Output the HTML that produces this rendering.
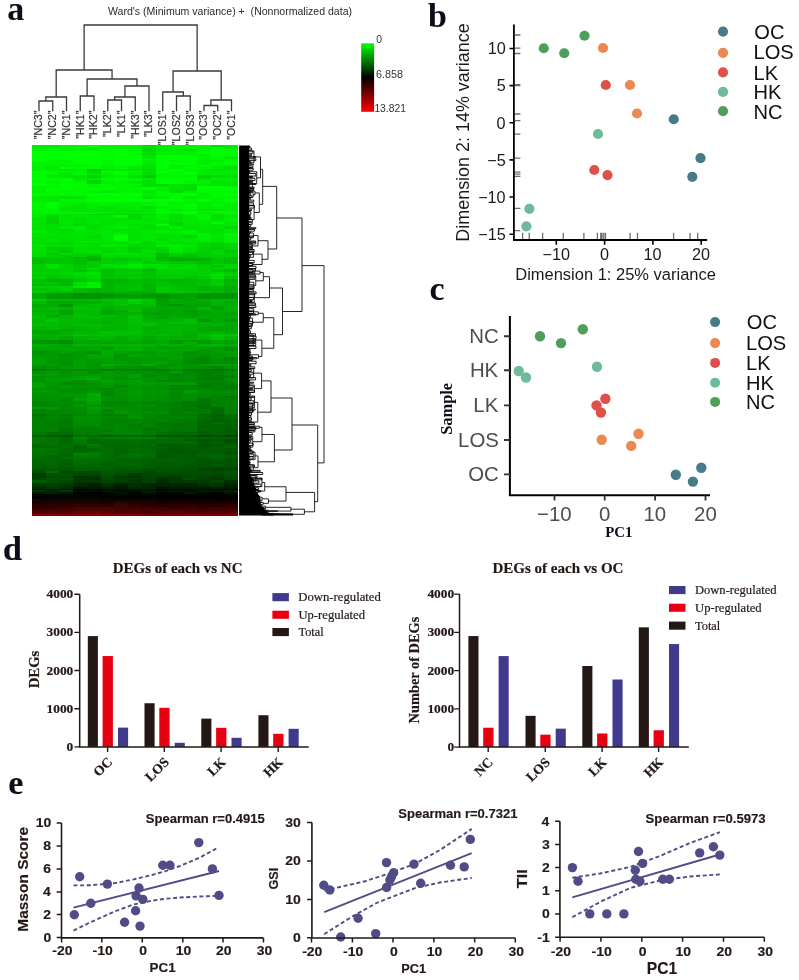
<!DOCTYPE html><html><head><meta charset="utf-8"><style>html,body{margin:0;padding:0;background:#fff;}svg{display:block;will-change:transform;}</style></head><body>
<svg width="799" height="980" viewBox="0 0 799 980">
<rect width="799" height="980" fill="#fff"/>
<g shape-rendering="crispEdges">
<rect x="32" y="145" width="14" height="2" fill="#00ee00"/>
<rect x="46" y="145" width="13" height="2" fill="#00ea00"/>
<rect x="59" y="145" width="14" height="2" fill="#00f200"/>
<rect x="73" y="145" width="14" height="2" fill="#00f600"/>
<rect x="87" y="145" width="14" height="2" fill="#00fd00"/>
<rect x="101" y="145" width="13" height="2" fill="#00f500"/>
<rect x="114" y="145" width="14" height="2" fill="#00f500"/>
<rect x="128" y="145" width="14" height="2" fill="#00f400"/>
<rect x="142" y="145" width="14" height="2" fill="#00e000"/>
<rect x="156" y="145" width="13" height="2" fill="#00f000"/>
<rect x="169" y="145" width="14" height="2" fill="#00f300"/>
<rect x="183" y="145" width="14" height="2" fill="#00f700"/>
<rect x="197" y="145" width="14" height="2" fill="#00f700"/>
<rect x="211" y="145" width="13" height="2" fill="#00df00"/>
<rect x="224" y="145" width="14" height="2" fill="#00ed00"/>
<rect x="32" y="147" width="14" height="2" fill="#00ec00"/>
<rect x="46" y="147" width="13" height="2" fill="#00f500"/>
<rect x="59" y="147" width="14" height="2" fill="#00f400"/>
<rect x="73" y="147" width="14" height="2" fill="#00fd00"/>
<rect x="87" y="147" width="14" height="2" fill="#00ef00"/>
<rect x="101" y="147" width="13" height="2" fill="#00f500"/>
<rect x="114" y="147" width="14" height="2" fill="#00f500"/>
<rect x="128" y="147" width="14" height="2" fill="#00f000"/>
<rect x="142" y="147" width="14" height="2" fill="#00df00"/>
<rect x="156" y="147" width="13" height="2" fill="#00f000"/>
<rect x="169" y="147" width="14" height="2" fill="#00f600"/>
<rect x="183" y="147" width="14" height="2" fill="#00f600"/>
<rect x="197" y="147" width="14" height="2" fill="#00ee00"/>
<rect x="211" y="147" width="13" height="2" fill="#00fe00"/>
<rect x="224" y="147" width="14" height="2" fill="#00ed00"/>
<rect x="32" y="149" width="14" height="2" fill="#00f500"/>
<rect x="46" y="149" width="13" height="2" fill="#00fb00"/>
<rect x="59" y="149" width="14" height="2" fill="#00ef00"/>
<rect x="73" y="149" width="14" height="2" fill="#00f700"/>
<rect x="87" y="149" width="14" height="2" fill="#00f400"/>
<rect x="101" y="149" width="13" height="2" fill="#00ff00"/>
<rect x="114" y="149" width="14" height="2" fill="#00ff00"/>
<rect x="128" y="149" width="14" height="2" fill="#00f800"/>
<rect x="142" y="149" width="14" height="2" fill="#00db00"/>
<rect x="156" y="149" width="13" height="2" fill="#00e900"/>
<rect x="169" y="149" width="14" height="2" fill="#00f000"/>
<rect x="183" y="149" width="14" height="2" fill="#00e200"/>
<rect x="197" y="149" width="14" height="2" fill="#00f600"/>
<rect x="211" y="149" width="13" height="2" fill="#00ff00"/>
<rect x="224" y="149" width="14" height="2" fill="#00fa00"/>
<rect x="32" y="151" width="14" height="3" fill="#00ff00"/>
<rect x="46" y="151" width="13" height="3" fill="#00ff00"/>
<rect x="59" y="151" width="14" height="3" fill="#00ff00"/>
<rect x="73" y="151" width="14" height="3" fill="#00ff00"/>
<rect x="87" y="151" width="14" height="3" fill="#00ff00"/>
<rect x="101" y="151" width="13" height="3" fill="#00fb00"/>
<rect x="114" y="151" width="14" height="3" fill="#00ff00"/>
<rect x="128" y="151" width="14" height="3" fill="#00f800"/>
<rect x="142" y="151" width="14" height="3" fill="#00e000"/>
<rect x="156" y="151" width="13" height="3" fill="#00ef00"/>
<rect x="169" y="151" width="14" height="3" fill="#00ec00"/>
<rect x="183" y="151" width="14" height="3" fill="#00ef00"/>
<rect x="197" y="151" width="14" height="3" fill="#00f800"/>
<rect x="211" y="151" width="13" height="3" fill="#00ff00"/>
<rect x="224" y="151" width="14" height="3" fill="#00fc00"/>
<rect x="32" y="154" width="14" height="1" fill="#00ff00"/>
<rect x="46" y="154" width="13" height="1" fill="#00ff00"/>
<rect x="59" y="154" width="14" height="1" fill="#00ff00"/>
<rect x="73" y="154" width="14" height="1" fill="#00ff00"/>
<rect x="87" y="154" width="14" height="1" fill="#00ff00"/>
<rect x="101" y="154" width="13" height="1" fill="#00fb00"/>
<rect x="114" y="154" width="14" height="1" fill="#00ff00"/>
<rect x="128" y="154" width="14" height="1" fill="#00f700"/>
<rect x="142" y="154" width="14" height="1" fill="#00dc00"/>
<rect x="156" y="154" width="13" height="1" fill="#00ef00"/>
<rect x="169" y="154" width="14" height="1" fill="#00ec00"/>
<rect x="183" y="154" width="14" height="1" fill="#00ef00"/>
<rect x="197" y="154" width="14" height="1" fill="#00f300"/>
<rect x="211" y="154" width="13" height="1" fill="#00f700"/>
<rect x="224" y="154" width="14" height="1" fill="#00f700"/>
<rect x="32" y="155" width="14" height="1" fill="#00ff00"/>
<rect x="46" y="155" width="13" height="1" fill="#00fe00"/>
<rect x="59" y="155" width="14" height="1" fill="#00fa00"/>
<rect x="73" y="155" width="14" height="1" fill="#00ff00"/>
<rect x="87" y="155" width="14" height="1" fill="#00ff00"/>
<rect x="101" y="155" width="13" height="1" fill="#00ff00"/>
<rect x="114" y="155" width="14" height="1" fill="#00ff00"/>
<rect x="128" y="155" width="14" height="1" fill="#00ff00"/>
<rect x="142" y="155" width="14" height="1" fill="#00e700"/>
<rect x="156" y="155" width="13" height="1" fill="#00ff00"/>
<rect x="169" y="155" width="14" height="1" fill="#00ff00"/>
<rect x="183" y="155" width="14" height="1" fill="#00ff00"/>
<rect x="197" y="155" width="14" height="1" fill="#00ee00"/>
<rect x="211" y="155" width="13" height="1" fill="#00ff00"/>
<rect x="224" y="155" width="14" height="1" fill="#00ff00"/>
<rect x="32" y="156" width="14" height="3" fill="#00ff00"/>
<rect x="46" y="156" width="13" height="3" fill="#00fd00"/>
<rect x="59" y="156" width="14" height="3" fill="#00ff00"/>
<rect x="73" y="156" width="14" height="3" fill="#00ff00"/>
<rect x="87" y="156" width="14" height="3" fill="#00ff00"/>
<rect x="101" y="156" width="13" height="3" fill="#00fd00"/>
<rect x="114" y="156" width="14" height="3" fill="#00ff00"/>
<rect x="128" y="156" width="14" height="3" fill="#00ff00"/>
<rect x="142" y="156" width="14" height="3" fill="#00e600"/>
<rect x="156" y="156" width="13" height="3" fill="#00ff00"/>
<rect x="169" y="156" width="14" height="3" fill="#00ff00"/>
<rect x="183" y="156" width="14" height="3" fill="#00ff00"/>
<rect x="197" y="156" width="14" height="3" fill="#00f200"/>
<rect x="211" y="156" width="13" height="3" fill="#00f800"/>
<rect x="224" y="156" width="14" height="3" fill="#00ed00"/>
<rect x="32" y="159" width="14" height="1" fill="#00ff00"/>
<rect x="46" y="159" width="13" height="1" fill="#00fd00"/>
<rect x="59" y="159" width="14" height="1" fill="#00ff00"/>
<rect x="73" y="159" width="14" height="1" fill="#00ff00"/>
<rect x="87" y="159" width="14" height="1" fill="#00ff00"/>
<rect x="101" y="159" width="13" height="1" fill="#00fc00"/>
<rect x="114" y="159" width="14" height="1" fill="#00ff00"/>
<rect x="128" y="159" width="14" height="1" fill="#00ff00"/>
<rect x="142" y="159" width="14" height="1" fill="#00f900"/>
<rect x="156" y="159" width="13" height="1" fill="#00ff00"/>
<rect x="169" y="159" width="14" height="1" fill="#00ff00"/>
<rect x="183" y="159" width="14" height="1" fill="#00ff00"/>
<rect x="197" y="159" width="14" height="1" fill="#00f100"/>
<rect x="211" y="159" width="13" height="1" fill="#00fb00"/>
<rect x="224" y="159" width="14" height="1" fill="#00f700"/>
<rect x="32" y="160" width="14" height="2" fill="#00ff00"/>
<rect x="46" y="160" width="13" height="2" fill="#00f600"/>
<rect x="59" y="160" width="14" height="2" fill="#00f000"/>
<rect x="73" y="160" width="14" height="2" fill="#00ff00"/>
<rect x="87" y="160" width="14" height="2" fill="#00ff00"/>
<rect x="101" y="160" width="13" height="2" fill="#00f600"/>
<rect x="114" y="160" width="14" height="2" fill="#00ff00"/>
<rect x="128" y="160" width="14" height="2" fill="#00ff00"/>
<rect x="142" y="160" width="14" height="2" fill="#00f100"/>
<rect x="156" y="160" width="13" height="2" fill="#00ff00"/>
<rect x="169" y="160" width="14" height="2" fill="#00f700"/>
<rect x="183" y="160" width="14" height="2" fill="#00fc00"/>
<rect x="197" y="160" width="14" height="2" fill="#00eb00"/>
<rect x="211" y="160" width="13" height="2" fill="#00ed00"/>
<rect x="224" y="160" width="14" height="2" fill="#00f800"/>
<rect x="32" y="162" width="14" height="3" fill="#00f100"/>
<rect x="46" y="162" width="13" height="3" fill="#00f500"/>
<rect x="59" y="162" width="14" height="3" fill="#00f700"/>
<rect x="73" y="162" width="14" height="3" fill="#00fa00"/>
<rect x="87" y="162" width="14" height="3" fill="#00ff00"/>
<rect x="101" y="162" width="13" height="3" fill="#00f900"/>
<rect x="114" y="162" width="14" height="3" fill="#00ff00"/>
<rect x="128" y="162" width="14" height="3" fill="#00ff00"/>
<rect x="142" y="162" width="14" height="3" fill="#00ec00"/>
<rect x="156" y="162" width="13" height="3" fill="#00ff00"/>
<rect x="169" y="162" width="14" height="3" fill="#00fd00"/>
<rect x="183" y="162" width="14" height="3" fill="#00ff00"/>
<rect x="197" y="162" width="14" height="3" fill="#00f100"/>
<rect x="211" y="162" width="13" height="3" fill="#00f800"/>
<rect x="224" y="162" width="14" height="3" fill="#00ff00"/>
<rect x="32" y="165" width="14" height="1" fill="#00f400"/>
<rect x="46" y="165" width="13" height="1" fill="#00f200"/>
<rect x="59" y="165" width="14" height="1" fill="#00ea00"/>
<rect x="73" y="165" width="14" height="1" fill="#00e600"/>
<rect x="87" y="165" width="14" height="1" fill="#00f500"/>
<rect x="101" y="165" width="13" height="1" fill="#00f700"/>
<rect x="114" y="165" width="14" height="1" fill="#00ff00"/>
<rect x="128" y="165" width="14" height="1" fill="#00f900"/>
<rect x="142" y="165" width="14" height="1" fill="#00e500"/>
<rect x="156" y="165" width="13" height="1" fill="#00ff00"/>
<rect x="169" y="165" width="14" height="1" fill="#00f100"/>
<rect x="183" y="165" width="14" height="1" fill="#00ef00"/>
<rect x="197" y="165" width="14" height="1" fill="#00ff00"/>
<rect x="211" y="165" width="13" height="1" fill="#00fc00"/>
<rect x="224" y="165" width="14" height="1" fill="#00f600"/>
<rect x="32" y="166" width="14" height="3" fill="#00f200"/>
<rect x="46" y="166" width="13" height="3" fill="#00e900"/>
<rect x="59" y="166" width="14" height="3" fill="#00fc00"/>
<rect x="73" y="166" width="14" height="3" fill="#00f900"/>
<rect x="87" y="166" width="14" height="3" fill="#00fd00"/>
<rect x="101" y="166" width="13" height="3" fill="#00ee00"/>
<rect x="114" y="166" width="14" height="3" fill="#00f600"/>
<rect x="128" y="166" width="14" height="3" fill="#00ec00"/>
<rect x="142" y="166" width="14" height="3" fill="#00e300"/>
<rect x="156" y="166" width="13" height="3" fill="#00ff00"/>
<rect x="169" y="166" width="14" height="3" fill="#00f100"/>
<rect x="183" y="166" width="14" height="3" fill="#00fb00"/>
<rect x="197" y="166" width="14" height="3" fill="#00f600"/>
<rect x="211" y="166" width="13" height="3" fill="#00ed00"/>
<rect x="224" y="166" width="14" height="3" fill="#00e300"/>
<rect x="32" y="169" width="14" height="2" fill="#00f200"/>
<rect x="46" y="169" width="13" height="2" fill="#00ef00"/>
<rect x="59" y="169" width="14" height="2" fill="#00e500"/>
<rect x="73" y="169" width="14" height="2" fill="#00ed00"/>
<rect x="87" y="169" width="14" height="2" fill="#00c800"/>
<rect x="101" y="169" width="13" height="2" fill="#00e600"/>
<rect x="114" y="169" width="14" height="2" fill="#00eb00"/>
<rect x="128" y="169" width="14" height="2" fill="#00e500"/>
<rect x="142" y="169" width="14" height="2" fill="#00dc00"/>
<rect x="156" y="169" width="13" height="2" fill="#00f900"/>
<rect x="169" y="169" width="14" height="2" fill="#00ff00"/>
<rect x="183" y="169" width="14" height="2" fill="#00f300"/>
<rect x="197" y="169" width="14" height="2" fill="#00ee00"/>
<rect x="211" y="169" width="13" height="2" fill="#00e300"/>
<rect x="224" y="169" width="14" height="2" fill="#00e600"/>
<rect x="32" y="171" width="14" height="1" fill="#00fe00"/>
<rect x="46" y="171" width="13" height="1" fill="#00ff00"/>
<rect x="59" y="171" width="14" height="1" fill="#00f800"/>
<rect x="73" y="171" width="14" height="1" fill="#00f700"/>
<rect x="87" y="171" width="14" height="1" fill="#00df00"/>
<rect x="101" y="171" width="13" height="1" fill="#00fd00"/>
<rect x="114" y="171" width="14" height="1" fill="#00ff00"/>
<rect x="128" y="171" width="14" height="1" fill="#00fb00"/>
<rect x="142" y="171" width="14" height="1" fill="#00e600"/>
<rect x="156" y="171" width="13" height="1" fill="#00ff00"/>
<rect x="169" y="171" width="14" height="1" fill="#00ff00"/>
<rect x="183" y="171" width="14" height="1" fill="#00f800"/>
<rect x="197" y="171" width="14" height="1" fill="#00e800"/>
<rect x="211" y="171" width="13" height="1" fill="#00ee00"/>
<rect x="224" y="171" width="14" height="1" fill="#00f100"/>
<rect x="32" y="172" width="14" height="1" fill="#00fe00"/>
<rect x="46" y="172" width="13" height="1" fill="#00ff00"/>
<rect x="59" y="172" width="14" height="1" fill="#00f000"/>
<rect x="73" y="172" width="14" height="1" fill="#00ef00"/>
<rect x="87" y="172" width="14" height="1" fill="#00d500"/>
<rect x="101" y="172" width="13" height="1" fill="#00fc00"/>
<rect x="114" y="172" width="14" height="1" fill="#00fe00"/>
<rect x="128" y="172" width="14" height="1" fill="#00f100"/>
<rect x="142" y="172" width="14" height="1" fill="#00dc00"/>
<rect x="156" y="172" width="13" height="1" fill="#00ff00"/>
<rect x="169" y="172" width="14" height="1" fill="#00f200"/>
<rect x="183" y="172" width="14" height="1" fill="#00ff00"/>
<rect x="197" y="172" width="14" height="1" fill="#00ec00"/>
<rect x="211" y="172" width="13" height="1" fill="#00ed00"/>
<rect x="224" y="172" width="14" height="1" fill="#00e900"/>
<rect x="32" y="173" width="14" height="2" fill="#00fa00"/>
<rect x="46" y="173" width="13" height="2" fill="#00f700"/>
<rect x="59" y="173" width="14" height="2" fill="#00e900"/>
<rect x="73" y="173" width="14" height="2" fill="#00fc00"/>
<rect x="87" y="173" width="14" height="2" fill="#00e800"/>
<rect x="101" y="173" width="13" height="2" fill="#00f200"/>
<rect x="114" y="173" width="14" height="2" fill="#00ff00"/>
<rect x="128" y="173" width="14" height="2" fill="#00f000"/>
<rect x="142" y="173" width="14" height="2" fill="#00dc00"/>
<rect x="156" y="173" width="13" height="2" fill="#00f700"/>
<rect x="169" y="173" width="14" height="2" fill="#00fd00"/>
<rect x="183" y="173" width="14" height="2" fill="#00ff00"/>
<rect x="197" y="173" width="14" height="2" fill="#00ec00"/>
<rect x="211" y="173" width="13" height="2" fill="#00ed00"/>
<rect x="224" y="173" width="14" height="2" fill="#00ea00"/>
<rect x="32" y="175" width="14" height="2" fill="#00fa00"/>
<rect x="46" y="175" width="13" height="2" fill="#00e500"/>
<rect x="59" y="175" width="14" height="2" fill="#00e600"/>
<rect x="73" y="175" width="14" height="2" fill="#00e400"/>
<rect x="87" y="175" width="14" height="2" fill="#00d800"/>
<rect x="101" y="175" width="13" height="2" fill="#00ea00"/>
<rect x="114" y="175" width="14" height="2" fill="#00f200"/>
<rect x="128" y="175" width="14" height="2" fill="#00e100"/>
<rect x="142" y="175" width="14" height="2" fill="#00cd00"/>
<rect x="156" y="175" width="13" height="2" fill="#00f500"/>
<rect x="169" y="175" width="14" height="2" fill="#00f700"/>
<rect x="183" y="175" width="14" height="2" fill="#00f500"/>
<rect x="197" y="175" width="14" height="2" fill="#00d000"/>
<rect x="211" y="175" width="13" height="2" fill="#00df00"/>
<rect x="224" y="175" width="14" height="2" fill="#00dd00"/>
<rect x="32" y="177" width="14" height="1" fill="#00fa00"/>
<rect x="46" y="177" width="13" height="1" fill="#00f000"/>
<rect x="59" y="177" width="14" height="1" fill="#00e500"/>
<rect x="73" y="177" width="14" height="1" fill="#00e400"/>
<rect x="87" y="177" width="14" height="1" fill="#00d000"/>
<rect x="101" y="177" width="13" height="1" fill="#00e800"/>
<rect x="114" y="177" width="14" height="1" fill="#00f100"/>
<rect x="128" y="177" width="14" height="1" fill="#00df00"/>
<rect x="142" y="177" width="14" height="1" fill="#00c800"/>
<rect x="156" y="177" width="13" height="1" fill="#00f500"/>
<rect x="169" y="177" width="14" height="1" fill="#00f500"/>
<rect x="183" y="177" width="14" height="1" fill="#00f500"/>
<rect x="197" y="177" width="14" height="1" fill="#00d000"/>
<rect x="211" y="177" width="13" height="1" fill="#00df00"/>
<rect x="224" y="177" width="14" height="1" fill="#00dc00"/>
<rect x="32" y="178" width="14" height="2" fill="#00ff00"/>
<rect x="46" y="178" width="13" height="2" fill="#00fa00"/>
<rect x="59" y="178" width="14" height="2" fill="#00ff00"/>
<rect x="73" y="178" width="14" height="2" fill="#00e700"/>
<rect x="87" y="178" width="14" height="2" fill="#00e900"/>
<rect x="101" y="178" width="13" height="2" fill="#00fc00"/>
<rect x="114" y="178" width="14" height="2" fill="#00ff00"/>
<rect x="128" y="178" width="14" height="2" fill="#00f300"/>
<rect x="142" y="178" width="14" height="2" fill="#00e900"/>
<rect x="156" y="178" width="13" height="2" fill="#00ff00"/>
<rect x="169" y="178" width="14" height="2" fill="#00ff00"/>
<rect x="183" y="178" width="14" height="2" fill="#00ff00"/>
<rect x="197" y="178" width="14" height="2" fill="#00e100"/>
<rect x="211" y="178" width="13" height="2" fill="#00ee00"/>
<rect x="224" y="178" width="14" height="2" fill="#00ed00"/>
<rect x="32" y="180" width="14" height="1" fill="#00f800"/>
<rect x="46" y="180" width="13" height="1" fill="#00fb00"/>
<rect x="59" y="180" width="14" height="1" fill="#00ff00"/>
<rect x="73" y="180" width="14" height="1" fill="#00f000"/>
<rect x="87" y="180" width="14" height="1" fill="#00dc00"/>
<rect x="101" y="180" width="13" height="1" fill="#00f600"/>
<rect x="114" y="180" width="14" height="1" fill="#00fa00"/>
<rect x="128" y="180" width="14" height="1" fill="#00fe00"/>
<rect x="142" y="180" width="14" height="1" fill="#00e300"/>
<rect x="156" y="180" width="13" height="1" fill="#00ff00"/>
<rect x="169" y="180" width="14" height="1" fill="#00ff00"/>
<rect x="183" y="180" width="14" height="1" fill="#00f900"/>
<rect x="197" y="180" width="14" height="1" fill="#00f700"/>
<rect x="211" y="180" width="13" height="1" fill="#00e900"/>
<rect x="224" y="180" width="14" height="1" fill="#00eb00"/>
<rect x="32" y="181" width="14" height="3" fill="#00fb00"/>
<rect x="46" y="181" width="13" height="3" fill="#00f300"/>
<rect x="59" y="181" width="14" height="3" fill="#00fa00"/>
<rect x="73" y="181" width="14" height="3" fill="#00f700"/>
<rect x="87" y="181" width="14" height="3" fill="#00d500"/>
<rect x="101" y="181" width="13" height="3" fill="#00f100"/>
<rect x="114" y="181" width="14" height="3" fill="#00f700"/>
<rect x="128" y="181" width="14" height="3" fill="#00ea00"/>
<rect x="142" y="181" width="14" height="3" fill="#00e000"/>
<rect x="156" y="181" width="13" height="3" fill="#00fe00"/>
<rect x="169" y="181" width="14" height="3" fill="#00fe00"/>
<rect x="183" y="181" width="14" height="3" fill="#00f700"/>
<rect x="197" y="181" width="14" height="3" fill="#00f100"/>
<rect x="211" y="181" width="13" height="3" fill="#00e100"/>
<rect x="224" y="181" width="14" height="3" fill="#00e500"/>
<rect x="32" y="184" width="14" height="2" fill="#00ff00"/>
<rect x="46" y="184" width="13" height="2" fill="#00fc00"/>
<rect x="59" y="184" width="14" height="2" fill="#00ff00"/>
<rect x="73" y="184" width="14" height="2" fill="#00fc00"/>
<rect x="87" y="184" width="14" height="2" fill="#00f500"/>
<rect x="101" y="184" width="13" height="2" fill="#00f800"/>
<rect x="114" y="184" width="14" height="2" fill="#00f700"/>
<rect x="128" y="184" width="14" height="2" fill="#00f700"/>
<rect x="142" y="184" width="14" height="2" fill="#00df00"/>
<rect x="156" y="184" width="13" height="2" fill="#00d700"/>
<rect x="169" y="184" width="14" height="2" fill="#00e500"/>
<rect x="183" y="184" width="14" height="2" fill="#00de00"/>
<rect x="197" y="184" width="14" height="2" fill="#00eb00"/>
<rect x="211" y="184" width="13" height="2" fill="#00e600"/>
<rect x="224" y="184" width="14" height="2" fill="#00e100"/>
<rect x="32" y="186" width="14" height="1" fill="#00f400"/>
<rect x="46" y="186" width="13" height="1" fill="#00ee00"/>
<rect x="59" y="186" width="14" height="1" fill="#00fe00"/>
<rect x="73" y="186" width="14" height="1" fill="#00fa00"/>
<rect x="87" y="186" width="14" height="1" fill="#00f500"/>
<rect x="101" y="186" width="13" height="1" fill="#00f800"/>
<rect x="114" y="186" width="14" height="1" fill="#00f600"/>
<rect x="128" y="186" width="14" height="1" fill="#00ee00"/>
<rect x="142" y="186" width="14" height="1" fill="#00df00"/>
<rect x="156" y="186" width="13" height="1" fill="#00e800"/>
<rect x="169" y="186" width="14" height="1" fill="#00e500"/>
<rect x="183" y="186" width="14" height="1" fill="#00dd00"/>
<rect x="197" y="186" width="14" height="1" fill="#00ff00"/>
<rect x="211" y="186" width="13" height="1" fill="#00ff00"/>
<rect x="224" y="186" width="14" height="1" fill="#00f800"/>
<rect x="32" y="187" width="14" height="3" fill="#00f200"/>
<rect x="46" y="187" width="13" height="3" fill="#00fd00"/>
<rect x="59" y="187" width="14" height="3" fill="#00ff00"/>
<rect x="73" y="187" width="14" height="3" fill="#00f900"/>
<rect x="87" y="187" width="14" height="3" fill="#00fa00"/>
<rect x="101" y="187" width="13" height="3" fill="#00fd00"/>
<rect x="114" y="187" width="14" height="3" fill="#00f500"/>
<rect x="128" y="187" width="14" height="3" fill="#00f700"/>
<rect x="142" y="187" width="14" height="3" fill="#00fe00"/>
<rect x="156" y="187" width="13" height="3" fill="#00f000"/>
<rect x="169" y="187" width="14" height="3" fill="#00e400"/>
<rect x="183" y="187" width="14" height="3" fill="#00de00"/>
<rect x="197" y="187" width="14" height="3" fill="#00ff00"/>
<rect x="211" y="187" width="13" height="3" fill="#00ff00"/>
<rect x="224" y="187" width="14" height="3" fill="#00ff00"/>
<rect x="32" y="190" width="14" height="1" fill="#00f500"/>
<rect x="46" y="190" width="13" height="1" fill="#00fc00"/>
<rect x="59" y="190" width="14" height="1" fill="#00f400"/>
<rect x="73" y="190" width="14" height="1" fill="#00f900"/>
<rect x="87" y="190" width="14" height="1" fill="#00f900"/>
<rect x="101" y="190" width="13" height="1" fill="#00f400"/>
<rect x="114" y="190" width="14" height="1" fill="#00f400"/>
<rect x="128" y="190" width="14" height="1" fill="#00f600"/>
<rect x="142" y="190" width="14" height="1" fill="#00e800"/>
<rect x="156" y="190" width="13" height="1" fill="#00f000"/>
<rect x="169" y="190" width="14" height="1" fill="#00dc00"/>
<rect x="183" y="190" width="14" height="1" fill="#00e000"/>
<rect x="197" y="190" width="14" height="1" fill="#00fe00"/>
<rect x="211" y="190" width="13" height="1" fill="#00ff00"/>
<rect x="224" y="190" width="14" height="1" fill="#00ff00"/>
<rect x="32" y="191" width="14" height="2" fill="#00ee00"/>
<rect x="46" y="191" width="13" height="2" fill="#00f800"/>
<rect x="59" y="191" width="14" height="2" fill="#00f900"/>
<rect x="73" y="191" width="14" height="2" fill="#00f800"/>
<rect x="87" y="191" width="14" height="2" fill="#00ef00"/>
<rect x="101" y="191" width="13" height="2" fill="#00e800"/>
<rect x="114" y="191" width="14" height="2" fill="#00f400"/>
<rect x="128" y="191" width="14" height="2" fill="#00f600"/>
<rect x="142" y="191" width="14" height="2" fill="#00e800"/>
<rect x="156" y="191" width="13" height="2" fill="#00f800"/>
<rect x="169" y="191" width="14" height="2" fill="#00dc00"/>
<rect x="183" y="191" width="14" height="2" fill="#00f000"/>
<rect x="197" y="191" width="14" height="2" fill="#00f900"/>
<rect x="211" y="191" width="13" height="2" fill="#00fb00"/>
<rect x="224" y="191" width="14" height="2" fill="#00f700"/>
<rect x="32" y="193" width="14" height="3" fill="#00fc00"/>
<rect x="46" y="193" width="13" height="3" fill="#00f700"/>
<rect x="59" y="193" width="14" height="3" fill="#00f800"/>
<rect x="73" y="193" width="14" height="3" fill="#00f800"/>
<rect x="87" y="193" width="14" height="3" fill="#00ff00"/>
<rect x="101" y="193" width="13" height="3" fill="#00ff00"/>
<rect x="114" y="193" width="14" height="3" fill="#00ff00"/>
<rect x="128" y="193" width="14" height="3" fill="#00ff00"/>
<rect x="142" y="193" width="14" height="3" fill="#00f100"/>
<rect x="156" y="193" width="13" height="3" fill="#00f800"/>
<rect x="169" y="193" width="14" height="3" fill="#00fa00"/>
<rect x="183" y="193" width="14" height="3" fill="#00fe00"/>
<rect x="197" y="193" width="14" height="3" fill="#00f200"/>
<rect x="211" y="193" width="13" height="3" fill="#00fa00"/>
<rect x="224" y="193" width="14" height="3" fill="#00ff00"/>
<rect x="32" y="196" width="14" height="3" fill="#00eb00"/>
<rect x="46" y="196" width="13" height="3" fill="#00eb00"/>
<rect x="59" y="196" width="14" height="3" fill="#00e300"/>
<rect x="73" y="196" width="14" height="3" fill="#00e700"/>
<rect x="87" y="196" width="14" height="3" fill="#00f800"/>
<rect x="101" y="196" width="13" height="3" fill="#00f900"/>
<rect x="114" y="196" width="14" height="3" fill="#00fa00"/>
<rect x="128" y="196" width="14" height="3" fill="#00fb00"/>
<rect x="142" y="196" width="14" height="3" fill="#00e500"/>
<rect x="156" y="196" width="13" height="3" fill="#00ec00"/>
<rect x="169" y="196" width="14" height="3" fill="#00fc00"/>
<rect x="183" y="196" width="14" height="3" fill="#00ea00"/>
<rect x="197" y="196" width="14" height="3" fill="#00f600"/>
<rect x="211" y="196" width="13" height="3" fill="#00f900"/>
<rect x="224" y="196" width="14" height="3" fill="#00f500"/>
<rect x="32" y="199" width="14" height="3" fill="#00f000"/>
<rect x="46" y="199" width="13" height="3" fill="#00e900"/>
<rect x="59" y="199" width="14" height="3" fill="#00f500"/>
<rect x="73" y="199" width="14" height="3" fill="#00f400"/>
<rect x="87" y="199" width="14" height="3" fill="#00fd00"/>
<rect x="101" y="199" width="13" height="3" fill="#00ff00"/>
<rect x="114" y="199" width="14" height="3" fill="#00ff00"/>
<rect x="128" y="199" width="14" height="3" fill="#00ff00"/>
<rect x="142" y="199" width="14" height="3" fill="#00ff00"/>
<rect x="156" y="199" width="13" height="3" fill="#00ff00"/>
<rect x="169" y="199" width="14" height="3" fill="#00ff00"/>
<rect x="183" y="199" width="14" height="3" fill="#00f700"/>
<rect x="197" y="199" width="14" height="3" fill="#00ff00"/>
<rect x="211" y="199" width="13" height="3" fill="#00f500"/>
<rect x="224" y="199" width="14" height="3" fill="#00ff00"/>
<rect x="32" y="202" width="14" height="1" fill="#00f500"/>
<rect x="46" y="202" width="13" height="1" fill="#00fe00"/>
<rect x="59" y="202" width="14" height="1" fill="#00ef00"/>
<rect x="73" y="202" width="14" height="1" fill="#00f400"/>
<rect x="87" y="202" width="14" height="1" fill="#00f700"/>
<rect x="101" y="202" width="13" height="1" fill="#00f300"/>
<rect x="114" y="202" width="14" height="1" fill="#00f600"/>
<rect x="128" y="202" width="14" height="1" fill="#00ef00"/>
<rect x="142" y="202" width="14" height="1" fill="#00f200"/>
<rect x="156" y="202" width="13" height="1" fill="#00f900"/>
<rect x="169" y="202" width="14" height="1" fill="#00f200"/>
<rect x="183" y="202" width="14" height="1" fill="#00f100"/>
<rect x="197" y="202" width="14" height="1" fill="#00ee00"/>
<rect x="211" y="202" width="13" height="1" fill="#00ef00"/>
<rect x="224" y="202" width="14" height="1" fill="#00f300"/>
<rect x="32" y="203" width="14" height="3" fill="#00f700"/>
<rect x="46" y="203" width="13" height="3" fill="#00ff00"/>
<rect x="59" y="203" width="14" height="3" fill="#00f000"/>
<rect x="73" y="203" width="14" height="3" fill="#00e800"/>
<rect x="87" y="203" width="14" height="3" fill="#00ee00"/>
<rect x="101" y="203" width="13" height="3" fill="#00f400"/>
<rect x="114" y="203" width="14" height="3" fill="#00ec00"/>
<rect x="128" y="203" width="14" height="3" fill="#00f100"/>
<rect x="142" y="203" width="14" height="3" fill="#00f300"/>
<rect x="156" y="203" width="13" height="3" fill="#00fd00"/>
<rect x="169" y="203" width="14" height="3" fill="#00f600"/>
<rect x="183" y="203" width="14" height="3" fill="#00fc00"/>
<rect x="197" y="203" width="14" height="3" fill="#00ed00"/>
<rect x="211" y="203" width="13" height="3" fill="#00f700"/>
<rect x="224" y="203" width="14" height="3" fill="#00ee00"/>
<rect x="32" y="206" width="14" height="3" fill="#00f500"/>
<rect x="46" y="206" width="13" height="3" fill="#00fd00"/>
<rect x="59" y="206" width="14" height="3" fill="#00e600"/>
<rect x="73" y="206" width="14" height="3" fill="#00e600"/>
<rect x="87" y="206" width="14" height="3" fill="#00eb00"/>
<rect x="101" y="206" width="13" height="3" fill="#00e300"/>
<rect x="114" y="206" width="14" height="3" fill="#00ed00"/>
<rect x="128" y="206" width="14" height="3" fill="#00eb00"/>
<rect x="142" y="206" width="14" height="3" fill="#00e000"/>
<rect x="156" y="206" width="13" height="3" fill="#00f000"/>
<rect x="169" y="206" width="14" height="3" fill="#00f700"/>
<rect x="183" y="206" width="14" height="3" fill="#00fa00"/>
<rect x="197" y="206" width="14" height="3" fill="#00ec00"/>
<rect x="211" y="206" width="13" height="3" fill="#00f200"/>
<rect x="224" y="206" width="14" height="3" fill="#00ed00"/>
<rect x="32" y="209" width="14" height="2" fill="#00f600"/>
<rect x="46" y="209" width="13" height="2" fill="#00f400"/>
<rect x="59" y="209" width="14" height="2" fill="#00e700"/>
<rect x="73" y="209" width="14" height="2" fill="#00e500"/>
<rect x="87" y="209" width="14" height="2" fill="#00e300"/>
<rect x="101" y="209" width="13" height="2" fill="#00e200"/>
<rect x="114" y="209" width="14" height="2" fill="#00e500"/>
<rect x="128" y="209" width="14" height="2" fill="#00ea00"/>
<rect x="142" y="209" width="14" height="2" fill="#00eb00"/>
<rect x="156" y="209" width="13" height="2" fill="#00f800"/>
<rect x="169" y="209" width="14" height="2" fill="#00ec00"/>
<rect x="183" y="209" width="14" height="2" fill="#00f400"/>
<rect x="197" y="209" width="14" height="2" fill="#00ea00"/>
<rect x="211" y="209" width="13" height="2" fill="#00e000"/>
<rect x="224" y="209" width="14" height="2" fill="#00ec00"/>
<rect x="32" y="211" width="14" height="1" fill="#00ed00"/>
<rect x="46" y="211" width="13" height="1" fill="#00f200"/>
<rect x="59" y="211" width="14" height="1" fill="#00ec00"/>
<rect x="73" y="211" width="14" height="1" fill="#00e600"/>
<rect x="87" y="211" width="14" height="1" fill="#00e700"/>
<rect x="101" y="211" width="13" height="1" fill="#00e300"/>
<rect x="114" y="211" width="14" height="1" fill="#00e600"/>
<rect x="128" y="211" width="14" height="1" fill="#00d800"/>
<rect x="142" y="211" width="14" height="1" fill="#00e000"/>
<rect x="156" y="211" width="13" height="1" fill="#00f500"/>
<rect x="169" y="211" width="14" height="1" fill="#00f900"/>
<rect x="183" y="211" width="14" height="1" fill="#00fa00"/>
<rect x="197" y="211" width="14" height="1" fill="#00f600"/>
<rect x="211" y="211" width="13" height="1" fill="#00fe00"/>
<rect x="224" y="211" width="14" height="1" fill="#00f500"/>
<rect x="32" y="212" width="14" height="2" fill="#00f400"/>
<rect x="46" y="212" width="13" height="2" fill="#00f400"/>
<rect x="59" y="212" width="14" height="2" fill="#00f200"/>
<rect x="73" y="212" width="14" height="2" fill="#00f400"/>
<rect x="87" y="212" width="14" height="2" fill="#00ed00"/>
<rect x="101" y="212" width="13" height="2" fill="#00e900"/>
<rect x="114" y="212" width="14" height="2" fill="#00e400"/>
<rect x="128" y="212" width="14" height="2" fill="#00ea00"/>
<rect x="142" y="212" width="14" height="2" fill="#00ee00"/>
<rect x="156" y="212" width="13" height="2" fill="#00fc00"/>
<rect x="169" y="212" width="14" height="2" fill="#00f600"/>
<rect x="183" y="212" width="14" height="2" fill="#00ff00"/>
<rect x="197" y="212" width="14" height="2" fill="#00ed00"/>
<rect x="211" y="212" width="13" height="2" fill="#00f700"/>
<rect x="224" y="212" width="14" height="2" fill="#00f900"/>
<rect x="32" y="214" width="14" height="1" fill="#00ec00"/>
<rect x="46" y="214" width="13" height="1" fill="#00e800"/>
<rect x="59" y="214" width="14" height="1" fill="#00e600"/>
<rect x="73" y="214" width="14" height="1" fill="#00e200"/>
<rect x="87" y="214" width="14" height="1" fill="#00cf00"/>
<rect x="101" y="214" width="13" height="1" fill="#00d700"/>
<rect x="114" y="214" width="14" height="1" fill="#00d500"/>
<rect x="128" y="214" width="14" height="1" fill="#00d700"/>
<rect x="142" y="214" width="14" height="1" fill="#00d800"/>
<rect x="156" y="214" width="13" height="1" fill="#00eb00"/>
<rect x="169" y="214" width="14" height="1" fill="#00df00"/>
<rect x="183" y="214" width="14" height="1" fill="#00ec00"/>
<rect x="197" y="214" width="14" height="1" fill="#00f600"/>
<rect x="211" y="214" width="13" height="1" fill="#00e100"/>
<rect x="224" y="214" width="14" height="1" fill="#00ec00"/>
<rect x="32" y="215" width="14" height="3" fill="#00eb00"/>
<rect x="46" y="215" width="13" height="3" fill="#00d300"/>
<rect x="59" y="215" width="14" height="3" fill="#00e500"/>
<rect x="73" y="215" width="14" height="3" fill="#00e600"/>
<rect x="87" y="215" width="14" height="3" fill="#00e700"/>
<rect x="101" y="215" width="13" height="3" fill="#00ea00"/>
<rect x="114" y="215" width="14" height="3" fill="#00f600"/>
<rect x="128" y="215" width="14" height="3" fill="#00db00"/>
<rect x="142" y="215" width="14" height="3" fill="#00e700"/>
<rect x="156" y="215" width="13" height="3" fill="#00ef00"/>
<rect x="169" y="215" width="14" height="3" fill="#00e000"/>
<rect x="183" y="215" width="14" height="3" fill="#00eb00"/>
<rect x="197" y="215" width="14" height="3" fill="#00f500"/>
<rect x="211" y="215" width="13" height="3" fill="#00e000"/>
<rect x="224" y="215" width="14" height="3" fill="#00eb00"/>
<rect x="32" y="218" width="14" height="2" fill="#00e300"/>
<rect x="46" y="218" width="13" height="2" fill="#00d300"/>
<rect x="59" y="218" width="14" height="2" fill="#00e500"/>
<rect x="73" y="218" width="14" height="2" fill="#00dc00"/>
<rect x="87" y="218" width="14" height="2" fill="#00e500"/>
<rect x="101" y="218" width="13" height="2" fill="#00e300"/>
<rect x="114" y="218" width="14" height="2" fill="#00df00"/>
<rect x="128" y="218" width="14" height="2" fill="#00d700"/>
<rect x="142" y="218" width="14" height="2" fill="#00e400"/>
<rect x="156" y="218" width="13" height="2" fill="#00ef00"/>
<rect x="169" y="218" width="14" height="2" fill="#00df00"/>
<rect x="183" y="218" width="14" height="2" fill="#00e700"/>
<rect x="197" y="218" width="14" height="2" fill="#00f500"/>
<rect x="211" y="218" width="13" height="2" fill="#00df00"/>
<rect x="224" y="218" width="14" height="2" fill="#00ee00"/>
<rect x="32" y="220" width="14" height="2" fill="#00e600"/>
<rect x="46" y="220" width="13" height="2" fill="#00d500"/>
<rect x="59" y="220" width="14" height="2" fill="#00e700"/>
<rect x="73" y="220" width="14" height="2" fill="#00de00"/>
<rect x="87" y="220" width="14" height="2" fill="#00e800"/>
<rect x="101" y="220" width="13" height="2" fill="#00e500"/>
<rect x="114" y="220" width="14" height="2" fill="#00e200"/>
<rect x="128" y="220" width="14" height="2" fill="#00e900"/>
<rect x="142" y="220" width="14" height="2" fill="#00e600"/>
<rect x="156" y="220" width="13" height="2" fill="#00e400"/>
<rect x="169" y="220" width="14" height="2" fill="#00e100"/>
<rect x="183" y="220" width="14" height="2" fill="#00ea00"/>
<rect x="197" y="220" width="14" height="2" fill="#00e900"/>
<rect x="211" y="220" width="13" height="2" fill="#00ec00"/>
<rect x="224" y="220" width="14" height="2" fill="#00f000"/>
<rect x="32" y="222" width="14" height="2" fill="#00e500"/>
<rect x="46" y="222" width="13" height="2" fill="#00d400"/>
<rect x="59" y="222" width="14" height="2" fill="#00e700"/>
<rect x="73" y="222" width="14" height="2" fill="#00de00"/>
<rect x="87" y="222" width="14" height="2" fill="#00ea00"/>
<rect x="101" y="222" width="13" height="2" fill="#00e200"/>
<rect x="114" y="222" width="14" height="2" fill="#00e700"/>
<rect x="128" y="222" width="14" height="2" fill="#00e800"/>
<rect x="142" y="222" width="14" height="2" fill="#00ea00"/>
<rect x="156" y="222" width="13" height="2" fill="#00e900"/>
<rect x="169" y="222" width="14" height="2" fill="#00d500"/>
<rect x="183" y="222" width="14" height="2" fill="#00e900"/>
<rect x="197" y="222" width="14" height="2" fill="#00e900"/>
<rect x="211" y="222" width="13" height="2" fill="#00fa00"/>
<rect x="224" y="222" width="14" height="2" fill="#00e600"/>
<rect x="32" y="224" width="14" height="2" fill="#00e400"/>
<rect x="46" y="224" width="13" height="2" fill="#00e000"/>
<rect x="59" y="224" width="14" height="2" fill="#00e200"/>
<rect x="73" y="224" width="14" height="2" fill="#00d700"/>
<rect x="87" y="224" width="14" height="2" fill="#00e000"/>
<rect x="101" y="224" width="13" height="2" fill="#00e200"/>
<rect x="114" y="224" width="14" height="2" fill="#00e800"/>
<rect x="128" y="224" width="14" height="2" fill="#00de00"/>
<rect x="142" y="224" width="14" height="2" fill="#00df00"/>
<rect x="156" y="224" width="13" height="2" fill="#00fd00"/>
<rect x="169" y="224" width="14" height="2" fill="#00d600"/>
<rect x="183" y="224" width="14" height="2" fill="#00e800"/>
<rect x="197" y="224" width="14" height="2" fill="#00e700"/>
<rect x="211" y="224" width="13" height="2" fill="#00e600"/>
<rect x="224" y="224" width="14" height="2" fill="#00e900"/>
<rect x="32" y="226" width="14" height="3" fill="#00e200"/>
<rect x="46" y="226" width="13" height="3" fill="#00df00"/>
<rect x="59" y="226" width="14" height="3" fill="#00e900"/>
<rect x="73" y="226" width="14" height="3" fill="#00f000"/>
<rect x="87" y="226" width="14" height="3" fill="#00de00"/>
<rect x="101" y="226" width="13" height="3" fill="#00e600"/>
<rect x="114" y="226" width="14" height="3" fill="#00ee00"/>
<rect x="128" y="226" width="14" height="3" fill="#00e600"/>
<rect x="142" y="226" width="14" height="3" fill="#00de00"/>
<rect x="156" y="226" width="13" height="3" fill="#00e100"/>
<rect x="169" y="226" width="14" height="3" fill="#00ef00"/>
<rect x="183" y="226" width="14" height="3" fill="#00e200"/>
<rect x="197" y="226" width="14" height="3" fill="#00e600"/>
<rect x="211" y="226" width="13" height="3" fill="#00e600"/>
<rect x="224" y="226" width="14" height="3" fill="#00d700"/>
<rect x="32" y="229" width="14" height="1" fill="#00de00"/>
<rect x="46" y="229" width="13" height="1" fill="#00da00"/>
<rect x="59" y="229" width="14" height="1" fill="#00d400"/>
<rect x="73" y="229" width="14" height="1" fill="#00ea00"/>
<rect x="87" y="229" width="14" height="1" fill="#00e500"/>
<rect x="101" y="229" width="13" height="1" fill="#00e100"/>
<rect x="114" y="229" width="14" height="1" fill="#00da00"/>
<rect x="128" y="229" width="14" height="1" fill="#00dc00"/>
<rect x="142" y="229" width="14" height="1" fill="#00df00"/>
<rect x="156" y="229" width="13" height="1" fill="#00e200"/>
<rect x="169" y="229" width="14" height="1" fill="#00dc00"/>
<rect x="183" y="229" width="14" height="1" fill="#00d800"/>
<rect x="197" y="229" width="14" height="1" fill="#00e100"/>
<rect x="211" y="229" width="13" height="1" fill="#00d900"/>
<rect x="224" y="229" width="14" height="1" fill="#00e400"/>
<rect x="32" y="230" width="14" height="3" fill="#00ef00"/>
<rect x="46" y="230" width="13" height="3" fill="#00e100"/>
<rect x="59" y="230" width="14" height="3" fill="#00db00"/>
<rect x="73" y="230" width="14" height="3" fill="#00e900"/>
<rect x="87" y="230" width="14" height="3" fill="#00e400"/>
<rect x="101" y="230" width="13" height="3" fill="#00e700"/>
<rect x="114" y="230" width="14" height="3" fill="#00e600"/>
<rect x="128" y="230" width="14" height="3" fill="#00e300"/>
<rect x="142" y="230" width="14" height="3" fill="#00e900"/>
<rect x="156" y="230" width="13" height="3" fill="#00ef00"/>
<rect x="169" y="230" width="14" height="3" fill="#00e900"/>
<rect x="183" y="230" width="14" height="3" fill="#00f500"/>
<rect x="197" y="230" width="14" height="3" fill="#00e200"/>
<rect x="211" y="230" width="13" height="3" fill="#00e000"/>
<rect x="224" y="230" width="14" height="3" fill="#00ea00"/>
<rect x="32" y="233" width="14" height="2" fill="#00e300"/>
<rect x="46" y="233" width="13" height="2" fill="#00e700"/>
<rect x="59" y="233" width="14" height="2" fill="#00de00"/>
<rect x="73" y="233" width="14" height="2" fill="#00e600"/>
<rect x="87" y="233" width="14" height="2" fill="#00e600"/>
<rect x="101" y="233" width="13" height="2" fill="#00ea00"/>
<rect x="114" y="233" width="14" height="2" fill="#00ee00"/>
<rect x="128" y="233" width="14" height="2" fill="#00e500"/>
<rect x="142" y="233" width="14" height="2" fill="#00e600"/>
<rect x="156" y="233" width="13" height="2" fill="#00e700"/>
<rect x="169" y="233" width="14" height="2" fill="#00e700"/>
<rect x="183" y="233" width="14" height="2" fill="#00ed00"/>
<rect x="197" y="233" width="14" height="2" fill="#00f400"/>
<rect x="211" y="233" width="13" height="2" fill="#00e600"/>
<rect x="224" y="233" width="14" height="2" fill="#00f500"/>
<rect x="32" y="235" width="14" height="3" fill="#00e400"/>
<rect x="46" y="235" width="13" height="3" fill="#00e200"/>
<rect x="59" y="235" width="14" height="3" fill="#00e500"/>
<rect x="73" y="235" width="14" height="3" fill="#00e400"/>
<rect x="87" y="235" width="14" height="3" fill="#00db00"/>
<rect x="101" y="235" width="13" height="3" fill="#00e900"/>
<rect x="114" y="235" width="14" height="3" fill="#00ff00"/>
<rect x="128" y="235" width="14" height="3" fill="#00e500"/>
<rect x="142" y="235" width="14" height="3" fill="#00ea00"/>
<rect x="156" y="235" width="13" height="3" fill="#00e500"/>
<rect x="169" y="235" width="14" height="3" fill="#00e500"/>
<rect x="183" y="235" width="14" height="3" fill="#00d400"/>
<rect x="197" y="235" width="14" height="3" fill="#00f200"/>
<rect x="211" y="235" width="13" height="3" fill="#00e800"/>
<rect x="224" y="235" width="14" height="3" fill="#00f300"/>
<rect x="32" y="238" width="14" height="3" fill="#00e000"/>
<rect x="46" y="238" width="13" height="3" fill="#00e400"/>
<rect x="59" y="238" width="14" height="3" fill="#00dd00"/>
<rect x="73" y="238" width="14" height="3" fill="#00e100"/>
<rect x="87" y="238" width="14" height="3" fill="#00e300"/>
<rect x="101" y="238" width="13" height="3" fill="#00e600"/>
<rect x="114" y="238" width="14" height="3" fill="#00fe00"/>
<rect x="128" y="238" width="14" height="3" fill="#00e100"/>
<rect x="142" y="238" width="14" height="3" fill="#00e800"/>
<rect x="156" y="238" width="13" height="3" fill="#00d900"/>
<rect x="169" y="238" width="14" height="3" fill="#00e800"/>
<rect x="183" y="238" width="14" height="3" fill="#00e700"/>
<rect x="197" y="238" width="14" height="3" fill="#00f000"/>
<rect x="211" y="238" width="13" height="3" fill="#00e400"/>
<rect x="224" y="238" width="14" height="3" fill="#00f100"/>
<rect x="32" y="241" width="14" height="2" fill="#00de00"/>
<rect x="46" y="241" width="13" height="2" fill="#00e200"/>
<rect x="59" y="241" width="14" height="2" fill="#00db00"/>
<rect x="73" y="241" width="14" height="2" fill="#00e800"/>
<rect x="87" y="241" width="14" height="2" fill="#00e700"/>
<rect x="101" y="241" width="13" height="2" fill="#00e400"/>
<rect x="114" y="241" width="14" height="2" fill="#00e200"/>
<rect x="128" y="241" width="14" height="2" fill="#00e900"/>
<rect x="142" y="241" width="14" height="2" fill="#00da00"/>
<rect x="156" y="241" width="13" height="2" fill="#00e900"/>
<rect x="169" y="241" width="14" height="2" fill="#00df00"/>
<rect x="183" y="241" width="14" height="2" fill="#00e700"/>
<rect x="197" y="241" width="14" height="2" fill="#00e200"/>
<rect x="211" y="241" width="13" height="2" fill="#00df00"/>
<rect x="224" y="241" width="14" height="2" fill="#00ef00"/>
<rect x="32" y="243" width="14" height="1" fill="#00d800"/>
<rect x="46" y="243" width="13" height="1" fill="#00d000"/>
<rect x="59" y="243" width="14" height="1" fill="#00d100"/>
<rect x="73" y="243" width="14" height="1" fill="#00d500"/>
<rect x="87" y="243" width="14" height="1" fill="#00d200"/>
<rect x="101" y="243" width="13" height="1" fill="#00d600"/>
<rect x="114" y="243" width="14" height="1" fill="#00d800"/>
<rect x="128" y="243" width="14" height="1" fill="#00e500"/>
<rect x="142" y="243" width="14" height="1" fill="#00ce00"/>
<rect x="156" y="243" width="13" height="1" fill="#00dc00"/>
<rect x="169" y="243" width="14" height="1" fill="#00d300"/>
<rect x="183" y="243" width="14" height="1" fill="#00d900"/>
<rect x="197" y="243" width="14" height="1" fill="#00c900"/>
<rect x="211" y="243" width="13" height="1" fill="#00c100"/>
<rect x="224" y="243" width="14" height="1" fill="#00d200"/>
<rect x="32" y="244" width="14" height="3" fill="#00e600"/>
<rect x="46" y="244" width="13" height="3" fill="#00df00"/>
<rect x="59" y="244" width="14" height="3" fill="#00df00"/>
<rect x="73" y="244" width="14" height="3" fill="#00e400"/>
<rect x="87" y="244" width="14" height="3" fill="#00e000"/>
<rect x="101" y="244" width="13" height="3" fill="#00ec00"/>
<rect x="114" y="244" width="14" height="3" fill="#00e800"/>
<rect x="128" y="244" width="14" height="3" fill="#00db00"/>
<rect x="142" y="244" width="14" height="3" fill="#00da00"/>
<rect x="156" y="244" width="13" height="3" fill="#00eb00"/>
<rect x="169" y="244" width="14" height="3" fill="#00f000"/>
<rect x="183" y="244" width="14" height="3" fill="#00e700"/>
<rect x="197" y="244" width="14" height="3" fill="#00d700"/>
<rect x="211" y="244" width="13" height="3" fill="#00d000"/>
<rect x="224" y="244" width="14" height="3" fill="#00d600"/>
<rect x="32" y="247" width="14" height="3" fill="#00e100"/>
<rect x="46" y="247" width="13" height="3" fill="#00ce00"/>
<rect x="59" y="247" width="14" height="3" fill="#00cc00"/>
<rect x="73" y="247" width="14" height="3" fill="#00df00"/>
<rect x="87" y="247" width="14" height="3" fill="#00dc00"/>
<rect x="101" y="247" width="13" height="3" fill="#00d800"/>
<rect x="114" y="247" width="14" height="3" fill="#00e000"/>
<rect x="128" y="247" width="14" height="3" fill="#00d200"/>
<rect x="142" y="247" width="14" height="3" fill="#00d600"/>
<rect x="156" y="247" width="13" height="3" fill="#00d400"/>
<rect x="169" y="247" width="14" height="3" fill="#00eb00"/>
<rect x="183" y="247" width="14" height="3" fill="#00e200"/>
<rect x="197" y="247" width="14" height="3" fill="#00d300"/>
<rect x="211" y="247" width="13" height="3" fill="#00cb00"/>
<rect x="224" y="247" width="14" height="3" fill="#00d700"/>
<rect x="32" y="250" width="14" height="3" fill="#00df00"/>
<rect x="46" y="250" width="13" height="3" fill="#00d500"/>
<rect x="59" y="250" width="14" height="3" fill="#00c600"/>
<rect x="73" y="250" width="14" height="3" fill="#00e000"/>
<rect x="87" y="250" width="14" height="3" fill="#00e400"/>
<rect x="101" y="250" width="13" height="3" fill="#00d700"/>
<rect x="114" y="250" width="14" height="3" fill="#00e000"/>
<rect x="128" y="250" width="14" height="3" fill="#00d400"/>
<rect x="142" y="250" width="14" height="3" fill="#00e300"/>
<rect x="156" y="250" width="13" height="3" fill="#00d100"/>
<rect x="169" y="250" width="14" height="3" fill="#00e700"/>
<rect x="183" y="250" width="14" height="3" fill="#00dd00"/>
<rect x="197" y="250" width="14" height="3" fill="#00d000"/>
<rect x="211" y="250" width="13" height="3" fill="#00d700"/>
<rect x="224" y="250" width="14" height="3" fill="#00c800"/>
<rect x="32" y="253" width="14" height="2" fill="#00db00"/>
<rect x="46" y="253" width="13" height="2" fill="#00cc00"/>
<rect x="59" y="253" width="14" height="2" fill="#00de00"/>
<rect x="73" y="253" width="14" height="2" fill="#00d200"/>
<rect x="87" y="253" width="14" height="2" fill="#00d500"/>
<rect x="101" y="253" width="13" height="2" fill="#00e300"/>
<rect x="114" y="253" width="14" height="2" fill="#00e200"/>
<rect x="128" y="253" width="14" height="2" fill="#00e400"/>
<rect x="142" y="253" width="14" height="2" fill="#00db00"/>
<rect x="156" y="253" width="13" height="2" fill="#00bf00"/>
<rect x="169" y="253" width="14" height="2" fill="#00d400"/>
<rect x="183" y="253" width="14" height="2" fill="#00c800"/>
<rect x="197" y="253" width="14" height="2" fill="#00cf00"/>
<rect x="211" y="253" width="13" height="2" fill="#00d800"/>
<rect x="224" y="253" width="14" height="2" fill="#00d100"/>
<rect x="32" y="255" width="14" height="2" fill="#00dd00"/>
<rect x="46" y="255" width="13" height="2" fill="#00d400"/>
<rect x="59" y="255" width="14" height="2" fill="#00cc00"/>
<rect x="73" y="255" width="14" height="2" fill="#00d100"/>
<rect x="87" y="255" width="14" height="2" fill="#00c000"/>
<rect x="101" y="255" width="13" height="2" fill="#00de00"/>
<rect x="114" y="255" width="14" height="2" fill="#00d500"/>
<rect x="128" y="255" width="14" height="2" fill="#00db00"/>
<rect x="142" y="255" width="14" height="2" fill="#00de00"/>
<rect x="156" y="255" width="13" height="2" fill="#00be00"/>
<rect x="169" y="255" width="14" height="2" fill="#00ca00"/>
<rect x="183" y="255" width="14" height="2" fill="#00be00"/>
<rect x="197" y="255" width="14" height="2" fill="#00cd00"/>
<rect x="211" y="255" width="13" height="2" fill="#00cc00"/>
<rect x="224" y="255" width="14" height="2" fill="#00cf00"/>
<rect x="32" y="257" width="14" height="1" fill="#00c200"/>
<rect x="46" y="257" width="13" height="1" fill="#00c800"/>
<rect x="59" y="257" width="14" height="1" fill="#00c000"/>
<rect x="73" y="257" width="14" height="1" fill="#00b700"/>
<rect x="87" y="257" width="14" height="1" fill="#00b400"/>
<rect x="101" y="257" width="13" height="1" fill="#00d200"/>
<rect x="114" y="257" width="14" height="1" fill="#00d400"/>
<rect x="128" y="257" width="14" height="1" fill="#00cf00"/>
<rect x="142" y="257" width="14" height="1" fill="#00d200"/>
<rect x="156" y="257" width="13" height="1" fill="#00b200"/>
<rect x="169" y="257" width="14" height="1" fill="#00af00"/>
<rect x="183" y="257" width="14" height="1" fill="#00bc00"/>
<rect x="197" y="257" width="14" height="1" fill="#00c400"/>
<rect x="211" y="257" width="13" height="1" fill="#00d300"/>
<rect x="224" y="257" width="14" height="1" fill="#00b900"/>
<rect x="32" y="258" width="14" height="3" fill="#00c000"/>
<rect x="46" y="258" width="13" height="3" fill="#00c600"/>
<rect x="59" y="258" width="14" height="3" fill="#00c600"/>
<rect x="73" y="258" width="14" height="3" fill="#00be00"/>
<rect x="87" y="258" width="14" height="3" fill="#00b300"/>
<rect x="101" y="258" width="13" height="3" fill="#00ce00"/>
<rect x="114" y="258" width="14" height="3" fill="#00c700"/>
<rect x="128" y="258" width="14" height="3" fill="#00cd00"/>
<rect x="142" y="258" width="14" height="3" fill="#00d700"/>
<rect x="156" y="258" width="13" height="3" fill="#00bb00"/>
<rect x="169" y="258" width="14" height="3" fill="#00ac00"/>
<rect x="183" y="258" width="14" height="3" fill="#00ae00"/>
<rect x="197" y="258" width="14" height="3" fill="#00b200"/>
<rect x="211" y="258" width="13" height="3" fill="#00c600"/>
<rect x="224" y="258" width="14" height="3" fill="#00be00"/>
<rect x="32" y="261" width="14" height="3" fill="#00bf00"/>
<rect x="46" y="261" width="13" height="3" fill="#00c500"/>
<rect x="59" y="261" width="14" height="3" fill="#00c500"/>
<rect x="73" y="261" width="14" height="3" fill="#00bc00"/>
<rect x="87" y="261" width="14" height="3" fill="#00ce00"/>
<rect x="101" y="261" width="13" height="3" fill="#00cf00"/>
<rect x="114" y="261" width="14" height="3" fill="#00d300"/>
<rect x="128" y="261" width="14" height="3" fill="#00dd00"/>
<rect x="142" y="261" width="14" height="3" fill="#00ca00"/>
<rect x="156" y="261" width="13" height="3" fill="#00d200"/>
<rect x="169" y="261" width="14" height="3" fill="#00c700"/>
<rect x="183" y="261" width="14" height="3" fill="#00c700"/>
<rect x="197" y="261" width="14" height="3" fill="#00be00"/>
<rect x="211" y="261" width="13" height="3" fill="#00c400"/>
<rect x="224" y="261" width="14" height="3" fill="#00bd00"/>
<rect x="32" y="264" width="14" height="1" fill="#00cf00"/>
<rect x="46" y="264" width="13" height="1" fill="#00e100"/>
<rect x="59" y="264" width="14" height="1" fill="#00d200"/>
<rect x="73" y="264" width="14" height="1" fill="#00c100"/>
<rect x="87" y="264" width="14" height="1" fill="#00ce00"/>
<rect x="101" y="264" width="13" height="1" fill="#00e400"/>
<rect x="114" y="264" width="14" height="1" fill="#00dc00"/>
<rect x="128" y="264" width="14" height="1" fill="#00ed00"/>
<rect x="142" y="264" width="14" height="1" fill="#00e400"/>
<rect x="156" y="264" width="13" height="1" fill="#00e200"/>
<rect x="169" y="264" width="14" height="1" fill="#00dd00"/>
<rect x="183" y="264" width="14" height="1" fill="#00d600"/>
<rect x="197" y="264" width="14" height="1" fill="#00cd00"/>
<rect x="211" y="264" width="13" height="1" fill="#00d400"/>
<rect x="224" y="264" width="14" height="1" fill="#00d300"/>
<rect x="32" y="265" width="14" height="3" fill="#00ce00"/>
<rect x="46" y="265" width="13" height="3" fill="#00e100"/>
<rect x="59" y="265" width="14" height="3" fill="#00d100"/>
<rect x="73" y="265" width="14" height="3" fill="#00c600"/>
<rect x="87" y="265" width="14" height="3" fill="#00cc00"/>
<rect x="101" y="265" width="13" height="3" fill="#00dd00"/>
<rect x="114" y="265" width="14" height="3" fill="#00e300"/>
<rect x="128" y="265" width="14" height="3" fill="#00ec00"/>
<rect x="142" y="265" width="14" height="3" fill="#00dd00"/>
<rect x="156" y="265" width="13" height="3" fill="#00db00"/>
<rect x="169" y="265" width="14" height="3" fill="#00cf00"/>
<rect x="183" y="265" width="14" height="3" fill="#00dc00"/>
<rect x="197" y="265" width="14" height="3" fill="#00cd00"/>
<rect x="211" y="265" width="13" height="3" fill="#00c300"/>
<rect x="224" y="265" width="14" height="3" fill="#00d600"/>
<rect x="32" y="268" width="14" height="1" fill="#00cf00"/>
<rect x="46" y="268" width="13" height="1" fill="#00e000"/>
<rect x="59" y="268" width="14" height="1" fill="#00d000"/>
<rect x="73" y="268" width="14" height="1" fill="#00d100"/>
<rect x="87" y="268" width="14" height="1" fill="#00e100"/>
<rect x="101" y="268" width="13" height="1" fill="#00cb00"/>
<rect x="114" y="268" width="14" height="1" fill="#00d000"/>
<rect x="128" y="268" width="14" height="1" fill="#00da00"/>
<rect x="142" y="268" width="14" height="1" fill="#00cb00"/>
<rect x="156" y="268" width="13" height="1" fill="#00e200"/>
<rect x="169" y="268" width="14" height="1" fill="#00e100"/>
<rect x="183" y="268" width="14" height="1" fill="#00db00"/>
<rect x="197" y="268" width="14" height="1" fill="#00cf00"/>
<rect x="211" y="268" width="13" height="1" fill="#00db00"/>
<rect x="224" y="268" width="14" height="1" fill="#00cc00"/>
<rect x="32" y="269" width="14" height="3" fill="#00ce00"/>
<rect x="46" y="269" width="13" height="3" fill="#00cd00"/>
<rect x="59" y="269" width="14" height="3" fill="#00d200"/>
<rect x="73" y="269" width="14" height="3" fill="#00c400"/>
<rect x="87" y="269" width="14" height="3" fill="#00d400"/>
<rect x="101" y="269" width="13" height="3" fill="#00be00"/>
<rect x="114" y="269" width="14" height="3" fill="#00c900"/>
<rect x="128" y="269" width="14" height="3" fill="#00cc00"/>
<rect x="142" y="269" width="14" height="3" fill="#00be00"/>
<rect x="156" y="269" width="13" height="3" fill="#00d100"/>
<rect x="169" y="269" width="14" height="3" fill="#00d400"/>
<rect x="183" y="269" width="14" height="3" fill="#00d500"/>
<rect x="197" y="269" width="14" height="3" fill="#00d100"/>
<rect x="211" y="269" width="13" height="3" fill="#00c000"/>
<rect x="224" y="269" width="14" height="3" fill="#00bb00"/>
<rect x="32" y="272" width="14" height="2" fill="#00d400"/>
<rect x="46" y="272" width="13" height="2" fill="#00d400"/>
<rect x="59" y="272" width="14" height="2" fill="#00d900"/>
<rect x="73" y="272" width="14" height="2" fill="#00dc00"/>
<rect x="87" y="272" width="14" height="2" fill="#00e400"/>
<rect x="101" y="272" width="13" height="2" fill="#00c100"/>
<rect x="114" y="272" width="14" height="2" fill="#00cd00"/>
<rect x="128" y="272" width="14" height="2" fill="#00d100"/>
<rect x="142" y="272" width="14" height="2" fill="#00c400"/>
<rect x="156" y="272" width="13" height="2" fill="#00d000"/>
<rect x="169" y="272" width="14" height="2" fill="#00d300"/>
<rect x="183" y="272" width="14" height="2" fill="#00cf00"/>
<rect x="197" y="272" width="14" height="2" fill="#00cf00"/>
<rect x="211" y="272" width="13" height="2" fill="#00d600"/>
<rect x="224" y="272" width="14" height="2" fill="#00cc00"/>
<rect x="32" y="274" width="14" height="2" fill="#00ca00"/>
<rect x="46" y="274" width="13" height="2" fill="#00ce00"/>
<rect x="59" y="274" width="14" height="2" fill="#00d200"/>
<rect x="73" y="274" width="14" height="2" fill="#00dc00"/>
<rect x="87" y="274" width="14" height="2" fill="#00dd00"/>
<rect x="101" y="274" width="13" height="2" fill="#00c000"/>
<rect x="114" y="274" width="14" height="2" fill="#00c900"/>
<rect x="128" y="274" width="14" height="2" fill="#00c500"/>
<rect x="142" y="274" width="14" height="2" fill="#00c300"/>
<rect x="156" y="274" width="13" height="2" fill="#00cf00"/>
<rect x="169" y="274" width="14" height="2" fill="#00cc00"/>
<rect x="183" y="274" width="14" height="2" fill="#00cd00"/>
<rect x="197" y="274" width="14" height="2" fill="#00d600"/>
<rect x="211" y="274" width="13" height="2" fill="#00e400"/>
<rect x="224" y="274" width="14" height="2" fill="#00d200"/>
<rect x="32" y="276" width="14" height="3" fill="#00d200"/>
<rect x="46" y="276" width="13" height="3" fill="#00c700"/>
<rect x="59" y="276" width="14" height="3" fill="#00cb00"/>
<rect x="73" y="276" width="14" height="3" fill="#00d400"/>
<rect x="87" y="276" width="14" height="3" fill="#00dc00"/>
<rect x="101" y="276" width="13" height="3" fill="#00c400"/>
<rect x="114" y="276" width="14" height="3" fill="#00c600"/>
<rect x="128" y="276" width="14" height="3" fill="#00ce00"/>
<rect x="142" y="276" width="14" height="3" fill="#00c200"/>
<rect x="156" y="276" width="13" height="3" fill="#00cb00"/>
<rect x="169" y="276" width="14" height="3" fill="#00cf00"/>
<rect x="183" y="276" width="14" height="3" fill="#00c400"/>
<rect x="197" y="276" width="14" height="3" fill="#00cb00"/>
<rect x="211" y="276" width="13" height="3" fill="#00df00"/>
<rect x="224" y="276" width="14" height="3" fill="#00c400"/>
<rect x="32" y="279" width="14" height="3" fill="#00bf00"/>
<rect x="46" y="279" width="13" height="3" fill="#00b400"/>
<rect x="59" y="279" width="14" height="3" fill="#00b800"/>
<rect x="73" y="279" width="14" height="3" fill="#00c700"/>
<rect x="87" y="279" width="14" height="3" fill="#00ce00"/>
<rect x="101" y="279" width="13" height="3" fill="#00b000"/>
<rect x="114" y="279" width="14" height="3" fill="#00b300"/>
<rect x="128" y="279" width="14" height="3" fill="#00b700"/>
<rect x="142" y="279" width="14" height="3" fill="#00b600"/>
<rect x="156" y="279" width="13" height="3" fill="#00bc00"/>
<rect x="169" y="279" width="14" height="3" fill="#00b300"/>
<rect x="183" y="279" width="14" height="3" fill="#00b700"/>
<rect x="197" y="279" width="14" height="3" fill="#00be00"/>
<rect x="211" y="279" width="13" height="3" fill="#00cc00"/>
<rect x="224" y="279" width="14" height="3" fill="#00b200"/>
<rect x="32" y="282" width="14" height="2" fill="#00c300"/>
<rect x="46" y="282" width="13" height="2" fill="#00c400"/>
<rect x="59" y="282" width="14" height="2" fill="#00b900"/>
<rect x="73" y="282" width="14" height="2" fill="#00df00"/>
<rect x="87" y="282" width="14" height="2" fill="#00f000"/>
<rect x="101" y="282" width="13" height="2" fill="#00b400"/>
<rect x="114" y="282" width="14" height="2" fill="#00b700"/>
<rect x="128" y="282" width="14" height="2" fill="#00bc00"/>
<rect x="142" y="282" width="14" height="2" fill="#00b900"/>
<rect x="156" y="282" width="13" height="2" fill="#00c100"/>
<rect x="169" y="282" width="14" height="2" fill="#00b700"/>
<rect x="183" y="282" width="14" height="2" fill="#00bb00"/>
<rect x="197" y="282" width="14" height="2" fill="#00c200"/>
<rect x="211" y="282" width="13" height="2" fill="#00d000"/>
<rect x="224" y="282" width="14" height="2" fill="#00b800"/>
<rect x="32" y="284" width="14" height="2" fill="#00bb00"/>
<rect x="46" y="284" width="13" height="2" fill="#00be00"/>
<rect x="59" y="284" width="14" height="2" fill="#00b800"/>
<rect x="73" y="284" width="14" height="2" fill="#00de00"/>
<rect x="87" y="284" width="14" height="2" fill="#00ef00"/>
<rect x="101" y="284" width="13" height="2" fill="#00b300"/>
<rect x="114" y="284" width="14" height="2" fill="#00bd00"/>
<rect x="128" y="284" width="14" height="2" fill="#00c000"/>
<rect x="142" y="284" width="14" height="2" fill="#00b200"/>
<rect x="156" y="284" width="13" height="2" fill="#00c000"/>
<rect x="169" y="284" width="14" height="2" fill="#00be00"/>
<rect x="183" y="284" width="14" height="2" fill="#00bd00"/>
<rect x="197" y="284" width="14" height="2" fill="#00c300"/>
<rect x="211" y="284" width="13" height="2" fill="#00d000"/>
<rect x="224" y="284" width="14" height="2" fill="#00b700"/>
<rect x="32" y="286" width="14" height="2" fill="#00d200"/>
<rect x="46" y="286" width="13" height="2" fill="#00d000"/>
<rect x="59" y="286" width="14" height="2" fill="#00d300"/>
<rect x="73" y="286" width="14" height="2" fill="#00eb00"/>
<rect x="87" y="286" width="14" height="2" fill="#00f200"/>
<rect x="101" y="286" width="13" height="2" fill="#00b600"/>
<rect x="114" y="286" width="14" height="2" fill="#00c100"/>
<rect x="128" y="286" width="14" height="2" fill="#00c300"/>
<rect x="142" y="286" width="14" height="2" fill="#00b500"/>
<rect x="156" y="286" width="13" height="2" fill="#00ca00"/>
<rect x="169" y="286" width="14" height="2" fill="#00c100"/>
<rect x="183" y="286" width="14" height="2" fill="#00bd00"/>
<rect x="197" y="286" width="14" height="2" fill="#00b300"/>
<rect x="211" y="286" width="13" height="2" fill="#00b700"/>
<rect x="224" y="286" width="14" height="2" fill="#00ae00"/>
<rect x="32" y="288" width="14" height="3" fill="#00c300"/>
<rect x="46" y="288" width="13" height="3" fill="#00c600"/>
<rect x="59" y="288" width="14" height="3" fill="#00d200"/>
<rect x="73" y="288" width="14" height="3" fill="#00bd00"/>
<rect x="87" y="288" width="14" height="3" fill="#00b300"/>
<rect x="101" y="288" width="13" height="3" fill="#00b700"/>
<rect x="114" y="288" width="14" height="3" fill="#00ba00"/>
<rect x="128" y="288" width="14" height="3" fill="#00c200"/>
<rect x="142" y="288" width="14" height="3" fill="#00b400"/>
<rect x="156" y="288" width="13" height="3" fill="#00c900"/>
<rect x="169" y="288" width="14" height="3" fill="#00c300"/>
<rect x="183" y="288" width="14" height="3" fill="#00bb00"/>
<rect x="197" y="288" width="14" height="3" fill="#00b200"/>
<rect x="211" y="288" width="13" height="3" fill="#00b600"/>
<rect x="224" y="288" width="14" height="3" fill="#00ad00"/>
<rect x="32" y="291" width="14" height="2" fill="#00ce00"/>
<rect x="46" y="291" width="13" height="2" fill="#00c300"/>
<rect x="59" y="291" width="14" height="2" fill="#00c000"/>
<rect x="73" y="291" width="14" height="2" fill="#00bc00"/>
<rect x="87" y="291" width="14" height="2" fill="#00b700"/>
<rect x="101" y="291" width="13" height="2" fill="#00b100"/>
<rect x="114" y="291" width="14" height="2" fill="#00b900"/>
<rect x="128" y="291" width="14" height="2" fill="#00ad00"/>
<rect x="142" y="291" width="14" height="2" fill="#00b300"/>
<rect x="156" y="291" width="13" height="2" fill="#00cb00"/>
<rect x="169" y="291" width="14" height="2" fill="#00ca00"/>
<rect x="183" y="291" width="14" height="2" fill="#00c400"/>
<rect x="197" y="291" width="14" height="2" fill="#00be00"/>
<rect x="211" y="291" width="13" height="2" fill="#00bb00"/>
<rect x="224" y="291" width="14" height="2" fill="#00b200"/>
<rect x="32" y="293" width="14" height="2" fill="#00a700"/>
<rect x="46" y="293" width="13" height="2" fill="#009c00"/>
<rect x="59" y="293" width="14" height="2" fill="#009800"/>
<rect x="73" y="293" width="14" height="2" fill="#008e00"/>
<rect x="87" y="293" width="14" height="2" fill="#009200"/>
<rect x="101" y="293" width="13" height="2" fill="#009c00"/>
<rect x="114" y="293" width="14" height="2" fill="#00a200"/>
<rect x="128" y="293" width="14" height="2" fill="#00a900"/>
<rect x="142" y="293" width="14" height="2" fill="#009e00"/>
<rect x="156" y="293" width="13" height="2" fill="#009700"/>
<rect x="169" y="293" width="14" height="2" fill="#00a300"/>
<rect x="183" y="293" width="14" height="2" fill="#009d00"/>
<rect x="197" y="293" width="14" height="2" fill="#009600"/>
<rect x="211" y="293" width="13" height="2" fill="#009400"/>
<rect x="224" y="293" width="14" height="2" fill="#009500"/>
<rect x="32" y="295" width="14" height="2" fill="#00ad00"/>
<rect x="46" y="295" width="13" height="2" fill="#009e00"/>
<rect x="59" y="295" width="14" height="2" fill="#009b00"/>
<rect x="73" y="295" width="14" height="2" fill="#009000"/>
<rect x="87" y="295" width="14" height="2" fill="#009500"/>
<rect x="101" y="295" width="13" height="2" fill="#009200"/>
<rect x="114" y="295" width="14" height="2" fill="#009600"/>
<rect x="128" y="295" width="14" height="2" fill="#009d00"/>
<rect x="142" y="295" width="14" height="2" fill="#009200"/>
<rect x="156" y="295" width="13" height="2" fill="#008c00"/>
<rect x="169" y="295" width="14" height="2" fill="#009a00"/>
<rect x="183" y="295" width="14" height="2" fill="#00a000"/>
<rect x="197" y="295" width="14" height="2" fill="#008b00"/>
<rect x="211" y="295" width="13" height="2" fill="#009700"/>
<rect x="224" y="295" width="14" height="2" fill="#009100"/>
<rect x="32" y="297" width="14" height="2" fill="#00ac00"/>
<rect x="46" y="297" width="13" height="2" fill="#009d00"/>
<rect x="59" y="297" width="14" height="2" fill="#009a00"/>
<rect x="73" y="297" width="14" height="2" fill="#009600"/>
<rect x="87" y="297" width="14" height="2" fill="#009400"/>
<rect x="101" y="297" width="13" height="2" fill="#009f00"/>
<rect x="114" y="297" width="14" height="2" fill="#00a700"/>
<rect x="128" y="297" width="14" height="2" fill="#00a300"/>
<rect x="142" y="297" width="14" height="2" fill="#00a300"/>
<rect x="156" y="297" width="13" height="2" fill="#009900"/>
<rect x="169" y="297" width="14" height="2" fill="#009900"/>
<rect x="183" y="297" width="14" height="2" fill="#00a500"/>
<rect x="197" y="297" width="14" height="2" fill="#009300"/>
<rect x="211" y="297" width="13" height="2" fill="#009600"/>
<rect x="224" y="297" width="14" height="2" fill="#009500"/>
<rect x="32" y="299" width="14" height="2" fill="#00cf00"/>
<rect x="46" y="299" width="13" height="2" fill="#00b800"/>
<rect x="59" y="299" width="14" height="2" fill="#00bd00"/>
<rect x="73" y="299" width="14" height="2" fill="#00b800"/>
<rect x="87" y="299" width="14" height="2" fill="#00b800"/>
<rect x="101" y="299" width="13" height="2" fill="#00c200"/>
<rect x="114" y="299" width="14" height="2" fill="#00c200"/>
<rect x="128" y="299" width="14" height="2" fill="#00d700"/>
<rect x="142" y="299" width="14" height="2" fill="#00c800"/>
<rect x="156" y="299" width="13" height="2" fill="#009e00"/>
<rect x="169" y="299" width="14" height="2" fill="#00b000"/>
<rect x="183" y="299" width="14" height="2" fill="#00a200"/>
<rect x="197" y="299" width="14" height="2" fill="#00af00"/>
<rect x="211" y="299" width="13" height="2" fill="#00b500"/>
<rect x="224" y="299" width="14" height="2" fill="#00b500"/>
<rect x="32" y="301" width="14" height="3" fill="#00ba00"/>
<rect x="46" y="301" width="13" height="3" fill="#00aa00"/>
<rect x="59" y="301" width="14" height="3" fill="#00a900"/>
<rect x="73" y="301" width="14" height="3" fill="#00b000"/>
<rect x="87" y="301" width="14" height="3" fill="#00b000"/>
<rect x="101" y="301" width="13" height="3" fill="#00ba00"/>
<rect x="114" y="301" width="14" height="3" fill="#00c600"/>
<rect x="128" y="301" width="14" height="3" fill="#00cf00"/>
<rect x="142" y="301" width="14" height="3" fill="#00c000"/>
<rect x="156" y="301" width="13" height="3" fill="#00a200"/>
<rect x="169" y="301" width="14" height="3" fill="#00ab00"/>
<rect x="183" y="301" width="14" height="3" fill="#00a800"/>
<rect x="197" y="301" width="14" height="3" fill="#00a700"/>
<rect x="211" y="301" width="13" height="3" fill="#00b400"/>
<rect x="224" y="301" width="14" height="3" fill="#00ab00"/>
<rect x="32" y="304" width="14" height="2" fill="#00aa00"/>
<rect x="46" y="304" width="13" height="2" fill="#00ae00"/>
<rect x="59" y="304" width="14" height="2" fill="#009600"/>
<rect x="73" y="304" width="14" height="2" fill="#00b300"/>
<rect x="87" y="304" width="14" height="2" fill="#00c100"/>
<rect x="101" y="304" width="13" height="2" fill="#00b900"/>
<rect x="114" y="304" width="14" height="2" fill="#00c500"/>
<rect x="128" y="304" width="14" height="2" fill="#00b900"/>
<rect x="142" y="304" width="14" height="2" fill="#00bf00"/>
<rect x="156" y="304" width="13" height="2" fill="#009e00"/>
<rect x="169" y="304" width="14" height="2" fill="#009100"/>
<rect x="183" y="304" width="14" height="2" fill="#00a300"/>
<rect x="197" y="304" width="14" height="2" fill="#00a600"/>
<rect x="211" y="304" width="13" height="2" fill="#00b300"/>
<rect x="224" y="304" width="14" height="2" fill="#00af00"/>
<rect x="32" y="306" width="14" height="1" fill="#00ab00"/>
<rect x="46" y="306" width="13" height="1" fill="#00ad00"/>
<rect x="59" y="306" width="14" height="1" fill="#009600"/>
<rect x="73" y="306" width="14" height="1" fill="#00c000"/>
<rect x="87" y="306" width="14" height="1" fill="#00b500"/>
<rect x="101" y="306" width="13" height="1" fill="#00b300"/>
<rect x="114" y="306" width="14" height="1" fill="#00b400"/>
<rect x="128" y="306" width="14" height="1" fill="#00bc00"/>
<rect x="142" y="306" width="14" height="1" fill="#00b900"/>
<rect x="156" y="306" width="13" height="1" fill="#00a900"/>
<rect x="169" y="306" width="14" height="1" fill="#00a700"/>
<rect x="183" y="306" width="14" height="1" fill="#00a300"/>
<rect x="197" y="306" width="14" height="1" fill="#00a300"/>
<rect x="211" y="306" width="13" height="1" fill="#00a100"/>
<rect x="224" y="306" width="14" height="1" fill="#00af00"/>
<rect x="32" y="307" width="14" height="3" fill="#00b700"/>
<rect x="46" y="307" width="13" height="3" fill="#00b900"/>
<rect x="59" y="307" width="14" height="3" fill="#00b500"/>
<rect x="73" y="307" width="14" height="3" fill="#00c000"/>
<rect x="87" y="307" width="14" height="3" fill="#00c000"/>
<rect x="101" y="307" width="13" height="3" fill="#00af00"/>
<rect x="114" y="307" width="14" height="3" fill="#00bb00"/>
<rect x="128" y="307" width="14" height="3" fill="#00bb00"/>
<rect x="142" y="307" width="14" height="3" fill="#00ae00"/>
<rect x="156" y="307" width="13" height="3" fill="#00aa00"/>
<rect x="169" y="307" width="14" height="3" fill="#00ab00"/>
<rect x="183" y="307" width="14" height="3" fill="#00a500"/>
<rect x="197" y="307" width="14" height="3" fill="#00b800"/>
<rect x="211" y="307" width="13" height="3" fill="#00a000"/>
<rect x="224" y="307" width="14" height="3" fill="#00b300"/>
<rect x="32" y="310" width="14" height="2" fill="#00b200"/>
<rect x="46" y="310" width="13" height="2" fill="#00ad00"/>
<rect x="59" y="310" width="14" height="2" fill="#00a600"/>
<rect x="73" y="310" width="14" height="2" fill="#00ba00"/>
<rect x="87" y="310" width="14" height="2" fill="#00ba00"/>
<rect x="101" y="310" width="13" height="2" fill="#00a900"/>
<rect x="114" y="310" width="14" height="2" fill="#00ac00"/>
<rect x="128" y="310" width="14" height="2" fill="#00be00"/>
<rect x="142" y="310" width="14" height="2" fill="#00a900"/>
<rect x="156" y="310" width="13" height="2" fill="#00a600"/>
<rect x="169" y="310" width="14" height="2" fill="#00a600"/>
<rect x="183" y="310" width="14" height="2" fill="#009900"/>
<rect x="197" y="310" width="14" height="2" fill="#00a300"/>
<rect x="211" y="310" width="13" height="2" fill="#00ac00"/>
<rect x="224" y="310" width="14" height="2" fill="#00ad00"/>
<rect x="32" y="312" width="14" height="3" fill="#00b800"/>
<rect x="46" y="312" width="13" height="3" fill="#00b600"/>
<rect x="59" y="312" width="14" height="3" fill="#00a500"/>
<rect x="73" y="312" width="14" height="3" fill="#00bf00"/>
<rect x="87" y="312" width="14" height="3" fill="#00b900"/>
<rect x="101" y="312" width="13" height="3" fill="#00a900"/>
<rect x="114" y="312" width="14" height="3" fill="#00b100"/>
<rect x="128" y="312" width="14" height="3" fill="#00b400"/>
<rect x="142" y="312" width="14" height="3" fill="#00a600"/>
<rect x="156" y="312" width="13" height="3" fill="#00a200"/>
<rect x="169" y="312" width="14" height="3" fill="#00a500"/>
<rect x="183" y="312" width="14" height="3" fill="#009e00"/>
<rect x="197" y="312" width="14" height="3" fill="#00a200"/>
<rect x="211" y="312" width="13" height="3" fill="#00ab00"/>
<rect x="224" y="312" width="14" height="3" fill="#00a300"/>
<rect x="32" y="315" width="14" height="2" fill="#00be00"/>
<rect x="46" y="315" width="13" height="2" fill="#00a500"/>
<rect x="59" y="315" width="14" height="2" fill="#00b500"/>
<rect x="73" y="315" width="14" height="2" fill="#00c400"/>
<rect x="87" y="315" width="14" height="2" fill="#00bf00"/>
<rect x="101" y="315" width="13" height="2" fill="#00c100"/>
<rect x="114" y="315" width="14" height="2" fill="#00b700"/>
<rect x="128" y="315" width="14" height="2" fill="#00c000"/>
<rect x="142" y="315" width="14" height="2" fill="#00ac00"/>
<rect x="156" y="315" width="13" height="2" fill="#00a500"/>
<rect x="169" y="315" width="14" height="2" fill="#00ab00"/>
<rect x="183" y="315" width="14" height="2" fill="#00a200"/>
<rect x="197" y="315" width="14" height="2" fill="#00a800"/>
<rect x="211" y="315" width="13" height="2" fill="#00a700"/>
<rect x="224" y="315" width="14" height="2" fill="#00a900"/>
<rect x="32" y="317" width="14" height="2" fill="#00c100"/>
<rect x="46" y="317" width="13" height="2" fill="#00bb00"/>
<rect x="59" y="317" width="14" height="2" fill="#00b800"/>
<rect x="73" y="317" width="14" height="2" fill="#00be00"/>
<rect x="87" y="317" width="14" height="2" fill="#00c200"/>
<rect x="101" y="317" width="13" height="2" fill="#00b600"/>
<rect x="114" y="317" width="14" height="2" fill="#00b600"/>
<rect x="128" y="317" width="14" height="2" fill="#00c600"/>
<rect x="142" y="317" width="14" height="2" fill="#00af00"/>
<rect x="156" y="317" width="13" height="2" fill="#00a200"/>
<rect x="169" y="317" width="14" height="2" fill="#00ae00"/>
<rect x="183" y="317" width="14" height="2" fill="#00ab00"/>
<rect x="197" y="317" width="14" height="2" fill="#00ab00"/>
<rect x="211" y="317" width="13" height="2" fill="#00a900"/>
<rect x="224" y="317" width="14" height="2" fill="#00a700"/>
<rect x="32" y="319" width="14" height="3" fill="#00b900"/>
<rect x="46" y="319" width="13" height="3" fill="#00c900"/>
<rect x="59" y="319" width="14" height="3" fill="#00ba00"/>
<rect x="73" y="319" width="14" height="3" fill="#00b900"/>
<rect x="87" y="319" width="14" height="3" fill="#00b800"/>
<rect x="101" y="319" width="13" height="3" fill="#00b400"/>
<rect x="114" y="319" width="14" height="3" fill="#00b800"/>
<rect x="128" y="319" width="14" height="3" fill="#00c200"/>
<rect x="142" y="319" width="14" height="3" fill="#00b100"/>
<rect x="156" y="319" width="13" height="3" fill="#00b300"/>
<rect x="169" y="319" width="14" height="3" fill="#00b500"/>
<rect x="183" y="319" width="14" height="3" fill="#00c000"/>
<rect x="197" y="319" width="14" height="3" fill="#009800"/>
<rect x="211" y="319" width="13" height="3" fill="#00ab00"/>
<rect x="224" y="319" width="14" height="3" fill="#009900"/>
<rect x="32" y="322" width="14" height="2" fill="#00ba00"/>
<rect x="46" y="322" width="13" height="2" fill="#00bd00"/>
<rect x="59" y="322" width="14" height="2" fill="#00b900"/>
<rect x="73" y="322" width="14" height="2" fill="#00b900"/>
<rect x="87" y="322" width="14" height="2" fill="#00b700"/>
<rect x="101" y="322" width="13" height="2" fill="#00b000"/>
<rect x="114" y="322" width="14" height="2" fill="#00b700"/>
<rect x="128" y="322" width="14" height="2" fill="#00c100"/>
<rect x="142" y="322" width="14" height="2" fill="#00bf00"/>
<rect x="156" y="322" width="13" height="2" fill="#00b500"/>
<rect x="169" y="322" width="14" height="2" fill="#00c100"/>
<rect x="183" y="322" width="14" height="2" fill="#00bf00"/>
<rect x="197" y="322" width="14" height="2" fill="#00b500"/>
<rect x="211" y="322" width="13" height="2" fill="#00ad00"/>
<rect x="224" y="322" width="14" height="2" fill="#00aa00"/>
<rect x="32" y="324" width="14" height="2" fill="#00bf00"/>
<rect x="46" y="324" width="13" height="2" fill="#00bd00"/>
<rect x="59" y="324" width="14" height="2" fill="#00b800"/>
<rect x="73" y="324" width="14" height="2" fill="#00bf00"/>
<rect x="87" y="324" width="14" height="2" fill="#00c000"/>
<rect x="101" y="324" width="13" height="2" fill="#00b800"/>
<rect x="114" y="324" width="14" height="2" fill="#00b700"/>
<rect x="128" y="324" width="14" height="2" fill="#00c000"/>
<rect x="142" y="324" width="14" height="2" fill="#00c400"/>
<rect x="156" y="324" width="13" height="2" fill="#00b400"/>
<rect x="169" y="324" width="14" height="2" fill="#00b000"/>
<rect x="183" y="324" width="14" height="2" fill="#00b300"/>
<rect x="197" y="324" width="14" height="2" fill="#00b000"/>
<rect x="211" y="324" width="13" height="2" fill="#00b500"/>
<rect x="224" y="324" width="14" height="2" fill="#00a900"/>
<rect x="32" y="326" width="14" height="3" fill="#00b400"/>
<rect x="46" y="326" width="13" height="3" fill="#00ba00"/>
<rect x="59" y="326" width="14" height="3" fill="#00b400"/>
<rect x="73" y="326" width="14" height="3" fill="#00b500"/>
<rect x="87" y="326" width="14" height="3" fill="#00bc00"/>
<rect x="101" y="326" width="13" height="3" fill="#00b500"/>
<rect x="114" y="326" width="14" height="3" fill="#00b600"/>
<rect x="128" y="326" width="14" height="3" fill="#00bd00"/>
<rect x="142" y="326" width="14" height="3" fill="#00af00"/>
<rect x="156" y="326" width="13" height="3" fill="#00b100"/>
<rect x="169" y="326" width="14" height="3" fill="#00b700"/>
<rect x="183" y="326" width="14" height="3" fill="#00af00"/>
<rect x="197" y="326" width="14" height="3" fill="#00ac00"/>
<rect x="211" y="326" width="13" height="3" fill="#00a700"/>
<rect x="224" y="326" width="14" height="3" fill="#00a600"/>
<rect x="32" y="329" width="14" height="1" fill="#00b400"/>
<rect x="46" y="329" width="13" height="1" fill="#00ba00"/>
<rect x="59" y="329" width="14" height="1" fill="#00ae00"/>
<rect x="73" y="329" width="14" height="1" fill="#00ae00"/>
<rect x="87" y="329" width="14" height="1" fill="#00bc00"/>
<rect x="101" y="329" width="13" height="1" fill="#00b100"/>
<rect x="114" y="329" width="14" height="1" fill="#00b600"/>
<rect x="128" y="329" width="14" height="1" fill="#00c000"/>
<rect x="142" y="329" width="14" height="1" fill="#00af00"/>
<rect x="156" y="329" width="13" height="1" fill="#00b100"/>
<rect x="169" y="329" width="14" height="1" fill="#00ba00"/>
<rect x="183" y="329" width="14" height="1" fill="#00b700"/>
<rect x="197" y="329" width="14" height="1" fill="#00ac00"/>
<rect x="211" y="329" width="13" height="1" fill="#00a700"/>
<rect x="224" y="329" width="14" height="1" fill="#00a700"/>
<rect x="32" y="330" width="14" height="1" fill="#00a800"/>
<rect x="46" y="330" width="13" height="1" fill="#00ab00"/>
<rect x="59" y="330" width="14" height="1" fill="#009e00"/>
<rect x="73" y="330" width="14" height="1" fill="#00ae00"/>
<rect x="87" y="330" width="14" height="1" fill="#00b200"/>
<rect x="101" y="330" width="13" height="1" fill="#00af00"/>
<rect x="114" y="330" width="14" height="1" fill="#00b600"/>
<rect x="128" y="330" width="14" height="1" fill="#00b900"/>
<rect x="142" y="330" width="14" height="1" fill="#00b300"/>
<rect x="156" y="330" width="13" height="1" fill="#00bd00"/>
<rect x="169" y="330" width="14" height="1" fill="#00b900"/>
<rect x="183" y="330" width="14" height="1" fill="#00b600"/>
<rect x="197" y="330" width="14" height="1" fill="#00a800"/>
<rect x="211" y="330" width="13" height="1" fill="#00a600"/>
<rect x="224" y="330" width="14" height="1" fill="#00a600"/>
<rect x="32" y="331" width="14" height="3" fill="#00a300"/>
<rect x="46" y="331" width="13" height="3" fill="#00a600"/>
<rect x="59" y="331" width="14" height="3" fill="#00b000"/>
<rect x="73" y="331" width="14" height="3" fill="#00b600"/>
<rect x="87" y="331" width="14" height="3" fill="#00b800"/>
<rect x="101" y="331" width="13" height="3" fill="#00c400"/>
<rect x="114" y="331" width="14" height="3" fill="#00bf00"/>
<rect x="128" y="331" width="14" height="3" fill="#00c200"/>
<rect x="142" y="331" width="14" height="3" fill="#00b500"/>
<rect x="156" y="331" width="13" height="3" fill="#00af00"/>
<rect x="169" y="331" width="14" height="3" fill="#00b600"/>
<rect x="183" y="331" width="14" height="3" fill="#00af00"/>
<rect x="197" y="331" width="14" height="3" fill="#00b100"/>
<rect x="211" y="331" width="13" height="3" fill="#00b600"/>
<rect x="224" y="331" width="14" height="3" fill="#00a900"/>
<rect x="32" y="334" width="14" height="2" fill="#00b500"/>
<rect x="46" y="334" width="13" height="2" fill="#00b200"/>
<rect x="59" y="334" width="14" height="2" fill="#00b600"/>
<rect x="73" y="334" width="14" height="2" fill="#00c800"/>
<rect x="87" y="334" width="14" height="2" fill="#00c200"/>
<rect x="101" y="334" width="13" height="2" fill="#00c300"/>
<rect x="114" y="334" width="14" height="2" fill="#00be00"/>
<rect x="128" y="334" width="14" height="2" fill="#00bb00"/>
<rect x="142" y="334" width="14" height="2" fill="#00b400"/>
<rect x="156" y="334" width="13" height="2" fill="#00bd00"/>
<rect x="169" y="334" width="14" height="2" fill="#00b900"/>
<rect x="183" y="334" width="14" height="2" fill="#00ae00"/>
<rect x="197" y="334" width="14" height="2" fill="#00bc00"/>
<rect x="211" y="334" width="13" height="2" fill="#00c800"/>
<rect x="224" y="334" width="14" height="2" fill="#00c500"/>
<rect x="32" y="336" width="14" height="2" fill="#00ac00"/>
<rect x="46" y="336" width="13" height="2" fill="#00b000"/>
<rect x="59" y="336" width="14" height="2" fill="#00a800"/>
<rect x="73" y="336" width="14" height="2" fill="#00b600"/>
<rect x="87" y="336" width="14" height="2" fill="#00b700"/>
<rect x="101" y="336" width="13" height="2" fill="#00b600"/>
<rect x="114" y="336" width="14" height="2" fill="#00b200"/>
<rect x="128" y="336" width="14" height="2" fill="#00b700"/>
<rect x="142" y="336" width="14" height="2" fill="#00ac00"/>
<rect x="156" y="336" width="13" height="2" fill="#00b400"/>
<rect x="169" y="336" width="14" height="2" fill="#00b000"/>
<rect x="183" y="336" width="14" height="2" fill="#00ad00"/>
<rect x="197" y="336" width="14" height="2" fill="#00b400"/>
<rect x="211" y="336" width="13" height="2" fill="#00c600"/>
<rect x="224" y="336" width="14" height="2" fill="#00b500"/>
<rect x="32" y="338" width="14" height="2" fill="#00aa00"/>
<rect x="46" y="338" width="13" height="2" fill="#00af00"/>
<rect x="59" y="338" width="14" height="2" fill="#00a700"/>
<rect x="73" y="338" width="14" height="2" fill="#00b100"/>
<rect x="87" y="338" width="14" height="2" fill="#00ba00"/>
<rect x="101" y="338" width="13" height="2" fill="#00b500"/>
<rect x="114" y="338" width="14" height="2" fill="#00ac00"/>
<rect x="128" y="338" width="14" height="2" fill="#00b600"/>
<rect x="142" y="338" width="14" height="2" fill="#00ab00"/>
<rect x="156" y="338" width="13" height="2" fill="#00b500"/>
<rect x="169" y="338" width="14" height="2" fill="#00b100"/>
<rect x="183" y="338" width="14" height="2" fill="#00b000"/>
<rect x="197" y="338" width="14" height="2" fill="#00b300"/>
<rect x="211" y="338" width="13" height="2" fill="#00c300"/>
<rect x="224" y="338" width="14" height="2" fill="#00b500"/>
<rect x="32" y="340" width="14" height="2" fill="#009600"/>
<rect x="46" y="340" width="13" height="2" fill="#009400"/>
<rect x="59" y="340" width="14" height="2" fill="#008d00"/>
<rect x="73" y="340" width="14" height="2" fill="#00a900"/>
<rect x="87" y="340" width="14" height="2" fill="#00a000"/>
<rect x="101" y="340" width="13" height="2" fill="#00a800"/>
<rect x="114" y="340" width="14" height="2" fill="#00a500"/>
<rect x="128" y="340" width="14" height="2" fill="#00ac00"/>
<rect x="142" y="340" width="14" height="2" fill="#009e00"/>
<rect x="156" y="340" width="13" height="2" fill="#00a700"/>
<rect x="169" y="340" width="14" height="2" fill="#009700"/>
<rect x="183" y="340" width="14" height="2" fill="#009d00"/>
<rect x="197" y="340" width="14" height="2" fill="#009c00"/>
<rect x="211" y="340" width="13" height="2" fill="#00a900"/>
<rect x="224" y="340" width="14" height="2" fill="#009e00"/>
<rect x="32" y="342" width="14" height="2" fill="#009700"/>
<rect x="46" y="342" width="13" height="2" fill="#009800"/>
<rect x="59" y="342" width="14" height="2" fill="#008d00"/>
<rect x="73" y="342" width="14" height="2" fill="#00a800"/>
<rect x="87" y="342" width="14" height="2" fill="#00a700"/>
<rect x="101" y="342" width="13" height="2" fill="#009f00"/>
<rect x="114" y="342" width="14" height="2" fill="#00a400"/>
<rect x="128" y="342" width="14" height="2" fill="#00a300"/>
<rect x="142" y="342" width="14" height="2" fill="#00a100"/>
<rect x="156" y="342" width="13" height="2" fill="#00ab00"/>
<rect x="169" y="342" width="14" height="2" fill="#009700"/>
<rect x="183" y="342" width="14" height="2" fill="#00ad00"/>
<rect x="197" y="342" width="14" height="2" fill="#009b00"/>
<rect x="211" y="342" width="13" height="2" fill="#00a900"/>
<rect x="224" y="342" width="14" height="2" fill="#009e00"/>
<rect x="32" y="344" width="14" height="2" fill="#00b100"/>
<rect x="46" y="344" width="13" height="2" fill="#00ae00"/>
<rect x="59" y="344" width="14" height="2" fill="#00a600"/>
<rect x="73" y="344" width="14" height="2" fill="#00b400"/>
<rect x="87" y="344" width="14" height="2" fill="#00b400"/>
<rect x="101" y="344" width="13" height="2" fill="#00b600"/>
<rect x="114" y="344" width="14" height="2" fill="#00b500"/>
<rect x="128" y="344" width="14" height="2" fill="#00b800"/>
<rect x="142" y="344" width="14" height="2" fill="#00b500"/>
<rect x="156" y="344" width="13" height="2" fill="#00b100"/>
<rect x="169" y="344" width="14" height="2" fill="#00b100"/>
<rect x="183" y="344" width="14" height="2" fill="#00ae00"/>
<rect x="197" y="344" width="14" height="2" fill="#00b400"/>
<rect x="211" y="344" width="13" height="2" fill="#00b600"/>
<rect x="224" y="344" width="14" height="2" fill="#00ac00"/>
<rect x="32" y="346" width="14" height="1" fill="#00a800"/>
<rect x="46" y="346" width="13" height="1" fill="#00a500"/>
<rect x="59" y="346" width="14" height="1" fill="#00a000"/>
<rect x="73" y="346" width="14" height="1" fill="#00a500"/>
<rect x="87" y="346" width="14" height="1" fill="#00a800"/>
<rect x="101" y="346" width="13" height="1" fill="#00ad00"/>
<rect x="114" y="346" width="14" height="1" fill="#00ad00"/>
<rect x="128" y="346" width="14" height="1" fill="#00af00"/>
<rect x="142" y="346" width="14" height="1" fill="#00ae00"/>
<rect x="156" y="346" width="13" height="1" fill="#009f00"/>
<rect x="169" y="346" width="14" height="1" fill="#00a800"/>
<rect x="183" y="346" width="14" height="1" fill="#00a500"/>
<rect x="197" y="346" width="14" height="1" fill="#00ab00"/>
<rect x="211" y="346" width="13" height="1" fill="#00aa00"/>
<rect x="224" y="346" width="14" height="1" fill="#00a300"/>
<rect x="32" y="347" width="14" height="3" fill="#00a600"/>
<rect x="46" y="347" width="13" height="3" fill="#00a400"/>
<rect x="59" y="347" width="14" height="3" fill="#00a700"/>
<rect x="73" y="347" width="14" height="3" fill="#00a300"/>
<rect x="87" y="347" width="14" height="3" fill="#00a800"/>
<rect x="101" y="347" width="13" height="3" fill="#009a00"/>
<rect x="114" y="347" width="14" height="3" fill="#00ac00"/>
<rect x="128" y="347" width="14" height="3" fill="#00b300"/>
<rect x="142" y="347" width="14" height="3" fill="#00a700"/>
<rect x="156" y="347" width="13" height="3" fill="#009e00"/>
<rect x="169" y="347" width="14" height="3" fill="#00a100"/>
<rect x="183" y="347" width="14" height="3" fill="#00a400"/>
<rect x="197" y="347" width="14" height="3" fill="#00a000"/>
<rect x="211" y="347" width="13" height="3" fill="#009600"/>
<rect x="224" y="347" width="14" height="3" fill="#008e00"/>
<rect x="32" y="350" width="14" height="1" fill="#009e00"/>
<rect x="46" y="350" width="13" height="1" fill="#00a300"/>
<rect x="59" y="350" width="14" height="1" fill="#00a700"/>
<rect x="73" y="350" width="14" height="1" fill="#00a700"/>
<rect x="87" y="350" width="14" height="1" fill="#00a700"/>
<rect x="101" y="350" width="13" height="1" fill="#00b700"/>
<rect x="114" y="350" width="14" height="1" fill="#00b100"/>
<rect x="128" y="350" width="14" height="1" fill="#00b200"/>
<rect x="142" y="350" width="14" height="1" fill="#00a400"/>
<rect x="156" y="350" width="13" height="1" fill="#00b000"/>
<rect x="169" y="350" width="14" height="1" fill="#00a800"/>
<rect x="183" y="350" width="14" height="1" fill="#00af00"/>
<rect x="197" y="350" width="14" height="1" fill="#008e00"/>
<rect x="211" y="350" width="13" height="1" fill="#00a200"/>
<rect x="224" y="350" width="14" height="1" fill="#009300"/>
<rect x="32" y="351" width="14" height="3" fill="#009400"/>
<rect x="46" y="351" width="13" height="3" fill="#009b00"/>
<rect x="59" y="351" width="14" height="3" fill="#009d00"/>
<rect x="73" y="351" width="14" height="3" fill="#009900"/>
<rect x="87" y="351" width="14" height="3" fill="#008e00"/>
<rect x="101" y="351" width="13" height="3" fill="#00ab00"/>
<rect x="114" y="351" width="14" height="3" fill="#00a200"/>
<rect x="128" y="351" width="14" height="3" fill="#009d00"/>
<rect x="142" y="351" width="14" height="3" fill="#009800"/>
<rect x="156" y="351" width="13" height="3" fill="#00a500"/>
<rect x="169" y="351" width="14" height="3" fill="#00a000"/>
<rect x="183" y="351" width="14" height="3" fill="#009100"/>
<rect x="197" y="351" width="14" height="3" fill="#009a00"/>
<rect x="211" y="351" width="13" height="3" fill="#009f00"/>
<rect x="224" y="351" width="14" height="3" fill="#009f00"/>
<rect x="32" y="354" width="14" height="3" fill="#009900"/>
<rect x="46" y="354" width="13" height="3" fill="#009a00"/>
<rect x="59" y="354" width="14" height="3" fill="#009000"/>
<rect x="73" y="354" width="14" height="3" fill="#009a00"/>
<rect x="87" y="354" width="14" height="3" fill="#00a500"/>
<rect x="101" y="354" width="13" height="3" fill="#00aa00"/>
<rect x="114" y="354" width="14" height="3" fill="#009500"/>
<rect x="128" y="354" width="14" height="3" fill="#00a900"/>
<rect x="142" y="354" width="14" height="3" fill="#00a100"/>
<rect x="156" y="354" width="13" height="3" fill="#00a400"/>
<rect x="169" y="354" width="14" height="3" fill="#00a000"/>
<rect x="183" y="354" width="14" height="3" fill="#009400"/>
<rect x="197" y="354" width="14" height="3" fill="#009400"/>
<rect x="211" y="354" width="13" height="3" fill="#009a00"/>
<rect x="224" y="354" width="14" height="3" fill="#009900"/>
<rect x="32" y="357" width="14" height="2" fill="#00a100"/>
<rect x="46" y="357" width="13" height="2" fill="#009e00"/>
<rect x="59" y="357" width="14" height="2" fill="#009500"/>
<rect x="73" y="357" width="14" height="2" fill="#009a00"/>
<rect x="87" y="357" width="14" height="2" fill="#00a400"/>
<rect x="101" y="357" width="13" height="2" fill="#00a000"/>
<rect x="114" y="357" width="14" height="2" fill="#009600"/>
<rect x="128" y="357" width="14" height="2" fill="#009900"/>
<rect x="142" y="357" width="14" height="2" fill="#009c00"/>
<rect x="156" y="357" width="13" height="2" fill="#009800"/>
<rect x="169" y="357" width="14" height="2" fill="#00a300"/>
<rect x="183" y="357" width="14" height="2" fill="#009300"/>
<rect x="197" y="357" width="14" height="2" fill="#008900"/>
<rect x="211" y="357" width="13" height="2" fill="#009a00"/>
<rect x="224" y="357" width="14" height="2" fill="#008600"/>
<rect x="32" y="359" width="14" height="2" fill="#00a000"/>
<rect x="46" y="359" width="13" height="2" fill="#009a00"/>
<rect x="59" y="359" width="14" height="2" fill="#009400"/>
<rect x="73" y="359" width="14" height="2" fill="#009c00"/>
<rect x="87" y="359" width="14" height="2" fill="#009c00"/>
<rect x="101" y="359" width="13" height="2" fill="#009f00"/>
<rect x="114" y="359" width="14" height="2" fill="#009600"/>
<rect x="128" y="359" width="14" height="2" fill="#009800"/>
<rect x="142" y="359" width="14" height="2" fill="#009b00"/>
<rect x="156" y="359" width="13" height="2" fill="#009900"/>
<rect x="169" y="359" width="14" height="2" fill="#009b00"/>
<rect x="183" y="359" width="14" height="2" fill="#008b00"/>
<rect x="197" y="359" width="14" height="2" fill="#008800"/>
<rect x="211" y="359" width="13" height="2" fill="#009200"/>
<rect x="224" y="359" width="14" height="2" fill="#008600"/>
<rect x="32" y="361" width="14" height="3" fill="#00a400"/>
<rect x="46" y="361" width="13" height="3" fill="#009800"/>
<rect x="59" y="361" width="14" height="3" fill="#009300"/>
<rect x="73" y="361" width="14" height="3" fill="#00a100"/>
<rect x="87" y="361" width="14" height="3" fill="#009b00"/>
<rect x="101" y="361" width="13" height="3" fill="#009e00"/>
<rect x="114" y="361" width="14" height="3" fill="#00a000"/>
<rect x="128" y="361" width="14" height="3" fill="#009700"/>
<rect x="142" y="361" width="14" height="3" fill="#009e00"/>
<rect x="156" y="361" width="13" height="3" fill="#00a500"/>
<rect x="169" y="361" width="14" height="3" fill="#009700"/>
<rect x="183" y="361" width="14" height="3" fill="#008a00"/>
<rect x="197" y="361" width="14" height="3" fill="#008600"/>
<rect x="211" y="361" width="13" height="3" fill="#009000"/>
<rect x="224" y="361" width="14" height="3" fill="#008b00"/>
<rect x="32" y="364" width="14" height="2" fill="#009f00"/>
<rect x="46" y="364" width="13" height="2" fill="#00a000"/>
<rect x="59" y="364" width="14" height="2" fill="#009200"/>
<rect x="73" y="364" width="14" height="2" fill="#00a000"/>
<rect x="87" y="364" width="14" height="2" fill="#009700"/>
<rect x="101" y="364" width="13" height="2" fill="#00ae00"/>
<rect x="114" y="364" width="14" height="2" fill="#00a200"/>
<rect x="128" y="364" width="14" height="2" fill="#00a000"/>
<rect x="142" y="364" width="14" height="2" fill="#00ae00"/>
<rect x="156" y="364" width="13" height="2" fill="#009700"/>
<rect x="169" y="364" width="14" height="2" fill="#009500"/>
<rect x="183" y="364" width="14" height="2" fill="#009500"/>
<rect x="197" y="364" width="14" height="2" fill="#009900"/>
<rect x="211" y="364" width="13" height="2" fill="#009e00"/>
<rect x="224" y="364" width="14" height="2" fill="#009e00"/>
<rect x="32" y="366" width="14" height="3" fill="#009000"/>
<rect x="46" y="366" width="13" height="3" fill="#009600"/>
<rect x="59" y="366" width="14" height="3" fill="#009c00"/>
<rect x="73" y="366" width="14" height="3" fill="#009f00"/>
<rect x="87" y="366" width="14" height="3" fill="#009800"/>
<rect x="101" y="366" width="13" height="3" fill="#009e00"/>
<rect x="114" y="366" width="14" height="3" fill="#009200"/>
<rect x="128" y="366" width="14" height="3" fill="#009300"/>
<rect x="142" y="366" width="14" height="3" fill="#008e00"/>
<rect x="156" y="366" width="13" height="3" fill="#009600"/>
<rect x="169" y="366" width="14" height="3" fill="#009e00"/>
<rect x="183" y="366" width="14" height="3" fill="#009400"/>
<rect x="197" y="366" width="14" height="3" fill="#008e00"/>
<rect x="211" y="366" width="13" height="3" fill="#008800"/>
<rect x="224" y="366" width="14" height="3" fill="#009200"/>
<rect x="32" y="369" width="14" height="2" fill="#007d00"/>
<rect x="46" y="369" width="13" height="2" fill="#008900"/>
<rect x="59" y="369" width="14" height="2" fill="#008800"/>
<rect x="73" y="369" width="14" height="2" fill="#008200"/>
<rect x="87" y="369" width="14" height="2" fill="#008c00"/>
<rect x="101" y="369" width="13" height="2" fill="#007a00"/>
<rect x="114" y="369" width="14" height="2" fill="#008600"/>
<rect x="128" y="369" width="14" height="2" fill="#007f00"/>
<rect x="142" y="369" width="14" height="2" fill="#008000"/>
<rect x="156" y="369" width="13" height="2" fill="#007a00"/>
<rect x="169" y="369" width="14" height="2" fill="#008a00"/>
<rect x="183" y="369" width="14" height="2" fill="#007700"/>
<rect x="197" y="369" width="14" height="2" fill="#007d00"/>
<rect x="211" y="369" width="13" height="2" fill="#007400"/>
<rect x="224" y="369" width="14" height="2" fill="#007e00"/>
<rect x="32" y="371" width="14" height="3" fill="#009400"/>
<rect x="46" y="371" width="13" height="3" fill="#009c00"/>
<rect x="59" y="371" width="14" height="3" fill="#009200"/>
<rect x="73" y="371" width="14" height="3" fill="#009b00"/>
<rect x="87" y="371" width="14" height="3" fill="#009100"/>
<rect x="101" y="371" width="13" height="3" fill="#009d00"/>
<rect x="114" y="371" width="14" height="3" fill="#009600"/>
<rect x="128" y="371" width="14" height="3" fill="#009400"/>
<rect x="142" y="371" width="14" height="3" fill="#009100"/>
<rect x="156" y="371" width="13" height="3" fill="#008c00"/>
<rect x="169" y="371" width="14" height="3" fill="#009b00"/>
<rect x="183" y="371" width="14" height="3" fill="#008800"/>
<rect x="197" y="371" width="14" height="3" fill="#007f00"/>
<rect x="211" y="371" width="13" height="3" fill="#008200"/>
<rect x="224" y="371" width="14" height="3" fill="#008c00"/>
<rect x="32" y="374" width="14" height="2" fill="#009e00"/>
<rect x="46" y="374" width="13" height="2" fill="#009f00"/>
<rect x="59" y="374" width="14" height="2" fill="#009400"/>
<rect x="73" y="374" width="14" height="2" fill="#009a00"/>
<rect x="87" y="374" width="14" height="2" fill="#009c00"/>
<rect x="101" y="374" width="13" height="2" fill="#009c00"/>
<rect x="114" y="374" width="14" height="2" fill="#009900"/>
<rect x="128" y="374" width="14" height="2" fill="#00a000"/>
<rect x="142" y="374" width="14" height="2" fill="#008e00"/>
<rect x="156" y="374" width="13" height="2" fill="#009300"/>
<rect x="169" y="374" width="14" height="2" fill="#008500"/>
<rect x="183" y="374" width="14" height="2" fill="#008b00"/>
<rect x="197" y="374" width="14" height="2" fill="#008000"/>
<rect x="211" y="374" width="13" height="2" fill="#008100"/>
<rect x="224" y="374" width="14" height="2" fill="#008a00"/>
<rect x="32" y="376" width="14" height="1" fill="#009100"/>
<rect x="46" y="376" width="13" height="1" fill="#009700"/>
<rect x="59" y="376" width="14" height="1" fill="#009600"/>
<rect x="73" y="376" width="14" height="1" fill="#00a900"/>
<rect x="87" y="376" width="14" height="1" fill="#00a800"/>
<rect x="101" y="376" width="13" height="1" fill="#009b00"/>
<rect x="114" y="376" width="14" height="1" fill="#009800"/>
<rect x="128" y="376" width="14" height="1" fill="#009e00"/>
<rect x="142" y="376" width="14" height="1" fill="#008d00"/>
<rect x="156" y="376" width="13" height="1" fill="#009200"/>
<rect x="169" y="376" width="14" height="1" fill="#008500"/>
<rect x="183" y="376" width="14" height="1" fill="#008d00"/>
<rect x="197" y="376" width="14" height="1" fill="#007f00"/>
<rect x="211" y="376" width="13" height="1" fill="#008000"/>
<rect x="224" y="376" width="14" height="1" fill="#007d00"/>
<rect x="32" y="377" width="14" height="1" fill="#009000"/>
<rect x="46" y="377" width="13" height="1" fill="#009700"/>
<rect x="59" y="377" width="14" height="1" fill="#009800"/>
<rect x="73" y="377" width="14" height="1" fill="#00a000"/>
<rect x="87" y="377" width="14" height="1" fill="#009f00"/>
<rect x="101" y="377" width="13" height="1" fill="#009b00"/>
<rect x="114" y="377" width="14" height="1" fill="#008e00"/>
<rect x="128" y="377" width="14" height="1" fill="#009e00"/>
<rect x="142" y="377" width="14" height="1" fill="#008d00"/>
<rect x="156" y="377" width="13" height="1" fill="#009200"/>
<rect x="169" y="377" width="14" height="1" fill="#009200"/>
<rect x="183" y="377" width="14" height="1" fill="#008d00"/>
<rect x="197" y="377" width="14" height="1" fill="#007e00"/>
<rect x="211" y="377" width="13" height="1" fill="#008000"/>
<rect x="224" y="377" width="14" height="1" fill="#007d00"/>
<rect x="32" y="378" width="14" height="2" fill="#009600"/>
<rect x="46" y="378" width="13" height="2" fill="#00a000"/>
<rect x="59" y="378" width="14" height="2" fill="#009e00"/>
<rect x="73" y="378" width="14" height="2" fill="#00a600"/>
<rect x="87" y="378" width="14" height="2" fill="#00ad00"/>
<rect x="101" y="378" width="13" height="2" fill="#009b00"/>
<rect x="114" y="378" width="14" height="2" fill="#009300"/>
<rect x="128" y="378" width="14" height="2" fill="#009500"/>
<rect x="142" y="378" width="14" height="2" fill="#009800"/>
<rect x="156" y="378" width="13" height="2" fill="#009300"/>
<rect x="169" y="378" width="14" height="2" fill="#008800"/>
<rect x="183" y="378" width="14" height="2" fill="#008d00"/>
<rect x="197" y="378" width="14" height="2" fill="#007f00"/>
<rect x="211" y="378" width="13" height="2" fill="#008000"/>
<rect x="224" y="378" width="14" height="2" fill="#008f00"/>
<rect x="32" y="380" width="14" height="2" fill="#009300"/>
<rect x="46" y="380" width="13" height="2" fill="#009d00"/>
<rect x="59" y="380" width="14" height="2" fill="#009d00"/>
<rect x="73" y="380" width="14" height="2" fill="#009000"/>
<rect x="87" y="380" width="14" height="2" fill="#009c00"/>
<rect x="101" y="380" width="13" height="2" fill="#00a300"/>
<rect x="114" y="380" width="14" height="2" fill="#009b00"/>
<rect x="128" y="380" width="14" height="2" fill="#00a000"/>
<rect x="142" y="380" width="14" height="2" fill="#009600"/>
<rect x="156" y="380" width="13" height="2" fill="#008700"/>
<rect x="169" y="380" width="14" height="2" fill="#008700"/>
<rect x="183" y="380" width="14" height="2" fill="#008800"/>
<rect x="197" y="380" width="14" height="2" fill="#008600"/>
<rect x="211" y="380" width="13" height="2" fill="#008600"/>
<rect x="224" y="380" width="14" height="2" fill="#008c00"/>
<rect x="32" y="382" width="14" height="3" fill="#009f00"/>
<rect x="46" y="382" width="13" height="3" fill="#009a00"/>
<rect x="59" y="382" width="14" height="3" fill="#008900"/>
<rect x="73" y="382" width="14" height="3" fill="#008e00"/>
<rect x="87" y="382" width="14" height="3" fill="#009200"/>
<rect x="101" y="382" width="13" height="3" fill="#009c00"/>
<rect x="114" y="382" width="14" height="3" fill="#009800"/>
<rect x="128" y="382" width="14" height="3" fill="#009d00"/>
<rect x="142" y="382" width="14" height="3" fill="#009d00"/>
<rect x="156" y="382" width="13" height="3" fill="#009900"/>
<rect x="169" y="382" width="14" height="3" fill="#009a00"/>
<rect x="183" y="382" width="14" height="3" fill="#009900"/>
<rect x="197" y="382" width="14" height="3" fill="#008300"/>
<rect x="211" y="382" width="13" height="3" fill="#008200"/>
<rect x="224" y="382" width="14" height="3" fill="#008400"/>
<rect x="32" y="385" width="14" height="3" fill="#00a100"/>
<rect x="46" y="385" width="13" height="3" fill="#009300"/>
<rect x="59" y="385" width="14" height="3" fill="#009b00"/>
<rect x="73" y="385" width="14" height="3" fill="#008f00"/>
<rect x="87" y="385" width="14" height="3" fill="#009300"/>
<rect x="101" y="385" width="13" height="3" fill="#009600"/>
<rect x="114" y="385" width="14" height="3" fill="#008900"/>
<rect x="128" y="385" width="14" height="3" fill="#009800"/>
<rect x="142" y="385" width="14" height="3" fill="#009400"/>
<rect x="156" y="385" width="13" height="3" fill="#009000"/>
<rect x="169" y="385" width="14" height="3" fill="#008900"/>
<rect x="183" y="385" width="14" height="3" fill="#008600"/>
<rect x="197" y="385" width="14" height="3" fill="#007b00"/>
<rect x="211" y="385" width="13" height="3" fill="#008200"/>
<rect x="224" y="385" width="14" height="3" fill="#007c00"/>
<rect x="32" y="388" width="14" height="1" fill="#009200"/>
<rect x="46" y="388" width="13" height="1" fill="#009200"/>
<rect x="59" y="388" width="14" height="1" fill="#009300"/>
<rect x="73" y="388" width="14" height="1" fill="#009100"/>
<rect x="87" y="388" width="14" height="1" fill="#009200"/>
<rect x="101" y="388" width="13" height="1" fill="#008600"/>
<rect x="114" y="388" width="14" height="1" fill="#009700"/>
<rect x="128" y="388" width="14" height="1" fill="#009a00"/>
<rect x="142" y="388" width="14" height="1" fill="#009200"/>
<rect x="156" y="388" width="13" height="1" fill="#008f00"/>
<rect x="169" y="388" width="14" height="1" fill="#008600"/>
<rect x="183" y="388" width="14" height="1" fill="#008500"/>
<rect x="197" y="388" width="14" height="1" fill="#008600"/>
<rect x="211" y="388" width="13" height="1" fill="#008100"/>
<rect x="224" y="388" width="14" height="1" fill="#007b00"/>
<rect x="32" y="389" width="14" height="1" fill="#009300"/>
<rect x="46" y="389" width="13" height="1" fill="#009200"/>
<rect x="59" y="389" width="14" height="1" fill="#009200"/>
<rect x="73" y="389" width="14" height="1" fill="#008900"/>
<rect x="87" y="389" width="14" height="1" fill="#008600"/>
<rect x="101" y="389" width="13" height="1" fill="#008600"/>
<rect x="114" y="389" width="14" height="1" fill="#009a00"/>
<rect x="128" y="389" width="14" height="1" fill="#009900"/>
<rect x="142" y="389" width="14" height="1" fill="#009100"/>
<rect x="156" y="389" width="13" height="1" fill="#009000"/>
<rect x="169" y="389" width="14" height="1" fill="#008200"/>
<rect x="183" y="389" width="14" height="1" fill="#008400"/>
<rect x="197" y="389" width="14" height="1" fill="#008500"/>
<rect x="211" y="389" width="13" height="1" fill="#008000"/>
<rect x="224" y="389" width="14" height="1" fill="#008000"/>
<rect x="32" y="390" width="14" height="3" fill="#009b00"/>
<rect x="46" y="390" width="13" height="3" fill="#009700"/>
<rect x="59" y="390" width="14" height="3" fill="#008c00"/>
<rect x="73" y="390" width="14" height="3" fill="#008e00"/>
<rect x="87" y="390" width="14" height="3" fill="#009700"/>
<rect x="101" y="390" width="13" height="3" fill="#008b00"/>
<rect x="114" y="390" width="14" height="3" fill="#009200"/>
<rect x="128" y="390" width="14" height="3" fill="#009c00"/>
<rect x="142" y="390" width="14" height="3" fill="#009600"/>
<rect x="156" y="390" width="13" height="3" fill="#009500"/>
<rect x="169" y="390" width="14" height="3" fill="#008c00"/>
<rect x="183" y="390" width="14" height="3" fill="#009d00"/>
<rect x="197" y="390" width="14" height="3" fill="#008e00"/>
<rect x="211" y="390" width="13" height="3" fill="#008b00"/>
<rect x="224" y="390" width="14" height="3" fill="#008b00"/>
<rect x="32" y="393" width="14" height="3" fill="#009400"/>
<rect x="46" y="393" width="13" height="3" fill="#009500"/>
<rect x="59" y="393" width="14" height="3" fill="#009700"/>
<rect x="73" y="393" width="14" height="3" fill="#009700"/>
<rect x="87" y="393" width="14" height="3" fill="#00ac00"/>
<rect x="101" y="393" width="13" height="3" fill="#008900"/>
<rect x="114" y="393" width="14" height="3" fill="#009200"/>
<rect x="128" y="393" width="14" height="3" fill="#009a00"/>
<rect x="142" y="393" width="14" height="3" fill="#009400"/>
<rect x="156" y="393" width="13" height="3" fill="#009300"/>
<rect x="169" y="393" width="14" height="3" fill="#008a00"/>
<rect x="183" y="393" width="14" height="3" fill="#009100"/>
<rect x="197" y="393" width="14" height="3" fill="#008c00"/>
<rect x="211" y="393" width="13" height="3" fill="#008900"/>
<rect x="224" y="393" width="14" height="3" fill="#008900"/>
<rect x="32" y="396" width="14" height="2" fill="#009300"/>
<rect x="46" y="396" width="13" height="2" fill="#009400"/>
<rect x="59" y="396" width="14" height="2" fill="#009600"/>
<rect x="73" y="396" width="14" height="2" fill="#009600"/>
<rect x="87" y="396" width="14" height="2" fill="#00ab00"/>
<rect x="101" y="396" width="13" height="2" fill="#009100"/>
<rect x="114" y="396" width="14" height="2" fill="#009000"/>
<rect x="128" y="396" width="14" height="2" fill="#009800"/>
<rect x="142" y="396" width="14" height="2" fill="#009300"/>
<rect x="156" y="396" width="13" height="2" fill="#009200"/>
<rect x="169" y="396" width="14" height="2" fill="#008900"/>
<rect x="183" y="396" width="14" height="2" fill="#008f00"/>
<rect x="197" y="396" width="14" height="2" fill="#008a00"/>
<rect x="211" y="396" width="13" height="2" fill="#008200"/>
<rect x="224" y="396" width="14" height="2" fill="#007900"/>
<rect x="32" y="398" width="14" height="3" fill="#008f00"/>
<rect x="46" y="398" width="13" height="3" fill="#009200"/>
<rect x="59" y="398" width="14" height="3" fill="#008700"/>
<rect x="73" y="398" width="14" height="3" fill="#00a200"/>
<rect x="87" y="398" width="14" height="3" fill="#00aa00"/>
<rect x="101" y="398" width="13" height="3" fill="#009000"/>
<rect x="114" y="398" width="14" height="3" fill="#008f00"/>
<rect x="128" y="398" width="14" height="3" fill="#009700"/>
<rect x="142" y="398" width="14" height="3" fill="#009200"/>
<rect x="156" y="398" width="13" height="3" fill="#008d00"/>
<rect x="169" y="398" width="14" height="3" fill="#008b00"/>
<rect x="183" y="398" width="14" height="3" fill="#008e00"/>
<rect x="197" y="398" width="14" height="3" fill="#007900"/>
<rect x="211" y="398" width="13" height="3" fill="#008100"/>
<rect x="224" y="398" width="14" height="3" fill="#008000"/>
<rect x="32" y="401" width="14" height="3" fill="#008800"/>
<rect x="46" y="401" width="13" height="3" fill="#008b00"/>
<rect x="59" y="401" width="14" height="3" fill="#008c00"/>
<rect x="73" y="401" width="14" height="3" fill="#008b00"/>
<rect x="87" y="401" width="14" height="3" fill="#00a300"/>
<rect x="101" y="401" width="13" height="3" fill="#008300"/>
<rect x="114" y="401" width="14" height="3" fill="#008200"/>
<rect x="128" y="401" width="14" height="3" fill="#008c00"/>
<rect x="142" y="401" width="14" height="3" fill="#008400"/>
<rect x="156" y="401" width="13" height="3" fill="#008600"/>
<rect x="169" y="401" width="14" height="3" fill="#008200"/>
<rect x="183" y="401" width="14" height="3" fill="#007a00"/>
<rect x="197" y="401" width="14" height="3" fill="#007500"/>
<rect x="211" y="401" width="13" height="3" fill="#007e00"/>
<rect x="224" y="401" width="14" height="3" fill="#008400"/>
<rect x="32" y="404" width="14" height="3" fill="#008600"/>
<rect x="46" y="404" width="13" height="3" fill="#008900"/>
<rect x="59" y="404" width="14" height="3" fill="#008a00"/>
<rect x="73" y="404" width="14" height="3" fill="#009700"/>
<rect x="87" y="404" width="14" height="3" fill="#009400"/>
<rect x="101" y="404" width="13" height="3" fill="#008a00"/>
<rect x="114" y="404" width="14" height="3" fill="#008a00"/>
<rect x="128" y="404" width="14" height="3" fill="#008d00"/>
<rect x="142" y="404" width="14" height="3" fill="#008c00"/>
<rect x="156" y="404" width="13" height="3" fill="#008400"/>
<rect x="169" y="404" width="14" height="3" fill="#008000"/>
<rect x="183" y="404" width="14" height="3" fill="#007700"/>
<rect x="197" y="404" width="14" height="3" fill="#007200"/>
<rect x="211" y="404" width="13" height="3" fill="#008100"/>
<rect x="224" y="404" width="14" height="3" fill="#008000"/>
<rect x="32" y="407" width="14" height="2" fill="#009a00"/>
<rect x="46" y="407" width="13" height="2" fill="#009800"/>
<rect x="59" y="407" width="14" height="2" fill="#008c00"/>
<rect x="73" y="407" width="14" height="2" fill="#008d00"/>
<rect x="87" y="407" width="14" height="2" fill="#009e00"/>
<rect x="101" y="407" width="13" height="2" fill="#009800"/>
<rect x="114" y="407" width="14" height="2" fill="#008c00"/>
<rect x="128" y="407" width="14" height="2" fill="#008e00"/>
<rect x="142" y="407" width="14" height="2" fill="#008900"/>
<rect x="156" y="407" width="13" height="2" fill="#008900"/>
<rect x="169" y="407" width="14" height="2" fill="#008000"/>
<rect x="183" y="407" width="14" height="2" fill="#007a00"/>
<rect x="197" y="407" width="14" height="2" fill="#007200"/>
<rect x="211" y="407" width="13" height="2" fill="#006f00"/>
<rect x="224" y="407" width="14" height="2" fill="#008000"/>
<rect x="32" y="409" width="14" height="2" fill="#008300"/>
<rect x="46" y="409" width="13" height="2" fill="#008c00"/>
<rect x="59" y="409" width="14" height="2" fill="#008700"/>
<rect x="73" y="409" width="14" height="2" fill="#008a00"/>
<rect x="87" y="409" width="14" height="2" fill="#009d00"/>
<rect x="101" y="409" width="13" height="2" fill="#008400"/>
<rect x="114" y="409" width="14" height="2" fill="#009200"/>
<rect x="128" y="409" width="14" height="2" fill="#008d00"/>
<rect x="142" y="409" width="14" height="2" fill="#008400"/>
<rect x="156" y="409" width="13" height="2" fill="#008700"/>
<rect x="169" y="409" width="14" height="2" fill="#007e00"/>
<rect x="183" y="409" width="14" height="2" fill="#007800"/>
<rect x="197" y="409" width="14" height="2" fill="#007d00"/>
<rect x="211" y="409" width="13" height="2" fill="#006d00"/>
<rect x="224" y="409" width="14" height="2" fill="#007e00"/>
<rect x="32" y="411" width="14" height="3" fill="#008400"/>
<rect x="46" y="411" width="13" height="3" fill="#008700"/>
<rect x="59" y="411" width="14" height="3" fill="#008900"/>
<rect x="73" y="411" width="14" height="3" fill="#008800"/>
<rect x="87" y="411" width="14" height="3" fill="#009700"/>
<rect x="101" y="411" width="13" height="3" fill="#008800"/>
<rect x="114" y="411" width="14" height="3" fill="#009600"/>
<rect x="128" y="411" width="14" height="3" fill="#008d00"/>
<rect x="142" y="411" width="14" height="3" fill="#008d00"/>
<rect x="156" y="411" width="13" height="3" fill="#008d00"/>
<rect x="169" y="411" width="14" height="3" fill="#007d00"/>
<rect x="183" y="411" width="14" height="3" fill="#008100"/>
<rect x="197" y="411" width="14" height="3" fill="#007a00"/>
<rect x="211" y="411" width="13" height="3" fill="#006b00"/>
<rect x="224" y="411" width="14" height="3" fill="#007e00"/>
<rect x="32" y="414" width="14" height="2" fill="#007800"/>
<rect x="46" y="414" width="13" height="2" fill="#008100"/>
<rect x="59" y="414" width="14" height="2" fill="#007c00"/>
<rect x="73" y="414" width="14" height="2" fill="#008a00"/>
<rect x="87" y="414" width="14" height="2" fill="#008a00"/>
<rect x="101" y="414" width="13" height="2" fill="#008100"/>
<rect x="114" y="414" width="14" height="2" fill="#008200"/>
<rect x="128" y="414" width="14" height="2" fill="#009100"/>
<rect x="142" y="414" width="14" height="2" fill="#008700"/>
<rect x="156" y="414" width="13" height="2" fill="#007d00"/>
<rect x="169" y="414" width="14" height="2" fill="#007f00"/>
<rect x="183" y="414" width="14" height="2" fill="#007b00"/>
<rect x="197" y="414" width="14" height="2" fill="#006a00"/>
<rect x="211" y="414" width="13" height="2" fill="#005f00"/>
<rect x="224" y="414" width="14" height="2" fill="#006c00"/>
<rect x="32" y="416" width="14" height="3" fill="#007f00"/>
<rect x="46" y="416" width="13" height="3" fill="#008800"/>
<rect x="59" y="416" width="14" height="3" fill="#008300"/>
<rect x="73" y="416" width="14" height="3" fill="#009100"/>
<rect x="87" y="416" width="14" height="3" fill="#009100"/>
<rect x="101" y="416" width="13" height="3" fill="#008800"/>
<rect x="114" y="416" width="14" height="3" fill="#008900"/>
<rect x="128" y="416" width="14" height="3" fill="#009400"/>
<rect x="142" y="416" width="14" height="3" fill="#008700"/>
<rect x="156" y="416" width="13" height="3" fill="#008400"/>
<rect x="169" y="416" width="14" height="3" fill="#008200"/>
<rect x="183" y="416" width="14" height="3" fill="#008100"/>
<rect x="197" y="416" width="14" height="3" fill="#006f00"/>
<rect x="211" y="416" width="13" height="3" fill="#006600"/>
<rect x="224" y="416" width="14" height="3" fill="#006d00"/>
<rect x="32" y="419" width="14" height="2" fill="#008500"/>
<rect x="46" y="419" width="13" height="2" fill="#008400"/>
<rect x="59" y="419" width="14" height="2" fill="#007900"/>
<rect x="73" y="419" width="14" height="2" fill="#008b00"/>
<rect x="87" y="419" width="14" height="2" fill="#008f00"/>
<rect x="101" y="419" width="13" height="2" fill="#007f00"/>
<rect x="114" y="419" width="14" height="2" fill="#008200"/>
<rect x="128" y="419" width="14" height="2" fill="#008200"/>
<rect x="142" y="419" width="14" height="2" fill="#008300"/>
<rect x="156" y="419" width="13" height="2" fill="#008600"/>
<rect x="169" y="419" width="14" height="2" fill="#007b00"/>
<rect x="183" y="419" width="14" height="2" fill="#007b00"/>
<rect x="197" y="419" width="14" height="2" fill="#006800"/>
<rect x="211" y="419" width="13" height="2" fill="#005f00"/>
<rect x="224" y="419" width="14" height="2" fill="#006400"/>
<rect x="32" y="421" width="14" height="1" fill="#007f00"/>
<rect x="46" y="421" width="13" height="1" fill="#008300"/>
<rect x="59" y="421" width="14" height="1" fill="#007700"/>
<rect x="73" y="421" width="14" height="1" fill="#008a00"/>
<rect x="87" y="421" width="14" height="1" fill="#008e00"/>
<rect x="101" y="421" width="13" height="1" fill="#008000"/>
<rect x="114" y="421" width="14" height="1" fill="#008000"/>
<rect x="128" y="421" width="14" height="1" fill="#008700"/>
<rect x="142" y="421" width="14" height="1" fill="#008100"/>
<rect x="156" y="421" width="13" height="1" fill="#008400"/>
<rect x="169" y="421" width="14" height="1" fill="#008100"/>
<rect x="183" y="421" width="14" height="1" fill="#007a00"/>
<rect x="197" y="421" width="14" height="1" fill="#006700"/>
<rect x="211" y="421" width="13" height="1" fill="#005f00"/>
<rect x="224" y="421" width="14" height="1" fill="#006000"/>
<rect x="32" y="422" width="14" height="2" fill="#008100"/>
<rect x="46" y="422" width="13" height="2" fill="#007a00"/>
<rect x="59" y="422" width="14" height="2" fill="#007800"/>
<rect x="73" y="422" width="14" height="2" fill="#008c00"/>
<rect x="87" y="422" width="14" height="2" fill="#008c00"/>
<rect x="101" y="422" width="13" height="2" fill="#008300"/>
<rect x="114" y="422" width="14" height="2" fill="#008600"/>
<rect x="128" y="422" width="14" height="2" fill="#008600"/>
<rect x="142" y="422" width="14" height="2" fill="#007f00"/>
<rect x="156" y="422" width="13" height="2" fill="#007700"/>
<rect x="169" y="422" width="14" height="2" fill="#007600"/>
<rect x="183" y="422" width="14" height="2" fill="#007600"/>
<rect x="197" y="422" width="14" height="2" fill="#006700"/>
<rect x="211" y="422" width="13" height="2" fill="#006f00"/>
<rect x="224" y="422" width="14" height="2" fill="#006500"/>
<rect x="32" y="424" width="14" height="2" fill="#007f00"/>
<rect x="46" y="424" width="13" height="2" fill="#007a00"/>
<rect x="59" y="424" width="14" height="2" fill="#007b00"/>
<rect x="73" y="424" width="14" height="2" fill="#008a00"/>
<rect x="87" y="424" width="14" height="2" fill="#008d00"/>
<rect x="101" y="424" width="13" height="2" fill="#008000"/>
<rect x="114" y="424" width="14" height="2" fill="#008900"/>
<rect x="128" y="424" width="14" height="2" fill="#008000"/>
<rect x="142" y="424" width="14" height="2" fill="#008300"/>
<rect x="156" y="424" width="13" height="2" fill="#007600"/>
<rect x="169" y="424" width="14" height="2" fill="#007100"/>
<rect x="183" y="424" width="14" height="2" fill="#007800"/>
<rect x="197" y="424" width="14" height="2" fill="#006600"/>
<rect x="211" y="424" width="13" height="2" fill="#006700"/>
<rect x="224" y="424" width="14" height="2" fill="#006300"/>
<rect x="32" y="426" width="14" height="2" fill="#008000"/>
<rect x="46" y="426" width="13" height="2" fill="#008000"/>
<rect x="59" y="426" width="14" height="2" fill="#007d00"/>
<rect x="73" y="426" width="14" height="2" fill="#008500"/>
<rect x="87" y="426" width="14" height="2" fill="#008200"/>
<rect x="101" y="426" width="13" height="2" fill="#008600"/>
<rect x="114" y="426" width="14" height="2" fill="#008700"/>
<rect x="128" y="426" width="14" height="2" fill="#007e00"/>
<rect x="142" y="426" width="14" height="2" fill="#007f00"/>
<rect x="156" y="426" width="13" height="2" fill="#007b00"/>
<rect x="169" y="426" width="14" height="2" fill="#007600"/>
<rect x="183" y="426" width="14" height="2" fill="#007600"/>
<rect x="197" y="426" width="14" height="2" fill="#006400"/>
<rect x="211" y="426" width="13" height="2" fill="#006700"/>
<rect x="224" y="426" width="14" height="2" fill="#006100"/>
<rect x="32" y="428" width="14" height="3" fill="#007f00"/>
<rect x="46" y="428" width="13" height="3" fill="#008100"/>
<rect x="59" y="428" width="14" height="3" fill="#007300"/>
<rect x="73" y="428" width="14" height="3" fill="#008200"/>
<rect x="87" y="428" width="14" height="3" fill="#007f00"/>
<rect x="101" y="428" width="13" height="3" fill="#008200"/>
<rect x="114" y="428" width="14" height="3" fill="#008700"/>
<rect x="128" y="428" width="14" height="3" fill="#008400"/>
<rect x="142" y="428" width="14" height="3" fill="#007800"/>
<rect x="156" y="428" width="13" height="3" fill="#007a00"/>
<rect x="169" y="428" width="14" height="3" fill="#007700"/>
<rect x="183" y="428" width="14" height="3" fill="#007700"/>
<rect x="197" y="428" width="14" height="3" fill="#006600"/>
<rect x="211" y="428" width="13" height="3" fill="#006800"/>
<rect x="224" y="428" width="14" height="3" fill="#006000"/>
<rect x="32" y="431" width="14" height="1" fill="#007f00"/>
<rect x="46" y="431" width="13" height="1" fill="#008400"/>
<rect x="59" y="431" width="14" height="1" fill="#007200"/>
<rect x="73" y="431" width="14" height="1" fill="#008200"/>
<rect x="87" y="431" width="14" height="1" fill="#007f00"/>
<rect x="101" y="431" width="13" height="1" fill="#007700"/>
<rect x="114" y="431" width="14" height="1" fill="#008700"/>
<rect x="128" y="431" width="14" height="1" fill="#008700"/>
<rect x="142" y="431" width="14" height="1" fill="#007f00"/>
<rect x="156" y="431" width="13" height="1" fill="#007b00"/>
<rect x="169" y="431" width="14" height="1" fill="#006d00"/>
<rect x="183" y="431" width="14" height="1" fill="#007700"/>
<rect x="197" y="431" width="14" height="1" fill="#006000"/>
<rect x="211" y="431" width="13" height="1" fill="#006800"/>
<rect x="224" y="431" width="14" height="1" fill="#005c00"/>
<rect x="32" y="432" width="14" height="2" fill="#007a00"/>
<rect x="46" y="432" width="13" height="2" fill="#006e00"/>
<rect x="59" y="432" width="14" height="2" fill="#007200"/>
<rect x="73" y="432" width="14" height="2" fill="#007e00"/>
<rect x="87" y="432" width="14" height="2" fill="#007b00"/>
<rect x="101" y="432" width="13" height="2" fill="#008500"/>
<rect x="114" y="432" width="14" height="2" fill="#008600"/>
<rect x="128" y="432" width="14" height="2" fill="#008600"/>
<rect x="142" y="432" width="14" height="2" fill="#007d00"/>
<rect x="156" y="432" width="13" height="2" fill="#007200"/>
<rect x="169" y="432" width="14" height="2" fill="#006d00"/>
<rect x="183" y="432" width="14" height="2" fill="#006600"/>
<rect x="197" y="432" width="14" height="2" fill="#005f00"/>
<rect x="211" y="432" width="13" height="2" fill="#006700"/>
<rect x="224" y="432" width="14" height="2" fill="#006000"/>
<rect x="32" y="434" width="14" height="1" fill="#007c00"/>
<rect x="46" y="434" width="13" height="1" fill="#007200"/>
<rect x="59" y="434" width="14" height="1" fill="#006b00"/>
<rect x="73" y="434" width="14" height="1" fill="#007d00"/>
<rect x="87" y="434" width="14" height="1" fill="#008300"/>
<rect x="101" y="434" width="13" height="1" fill="#007700"/>
<rect x="114" y="434" width="14" height="1" fill="#008400"/>
<rect x="128" y="434" width="14" height="1" fill="#008500"/>
<rect x="142" y="434" width="14" height="1" fill="#007c00"/>
<rect x="156" y="434" width="13" height="1" fill="#007200"/>
<rect x="169" y="434" width="14" height="1" fill="#006d00"/>
<rect x="183" y="434" width="14" height="1" fill="#007100"/>
<rect x="197" y="434" width="14" height="1" fill="#006200"/>
<rect x="211" y="434" width="13" height="1" fill="#006700"/>
<rect x="224" y="434" width="14" height="1" fill="#005f00"/>
<rect x="32" y="435" width="14" height="2" fill="#006300"/>
<rect x="46" y="435" width="13" height="2" fill="#005a00"/>
<rect x="59" y="435" width="14" height="2" fill="#005600"/>
<rect x="73" y="435" width="14" height="2" fill="#006d00"/>
<rect x="87" y="435" width="14" height="2" fill="#006a00"/>
<rect x="101" y="435" width="13" height="2" fill="#006100"/>
<rect x="114" y="435" width="14" height="2" fill="#006300"/>
<rect x="128" y="435" width="14" height="2" fill="#006400"/>
<rect x="142" y="435" width="14" height="2" fill="#006300"/>
<rect x="156" y="435" width="13" height="2" fill="#004e00"/>
<rect x="169" y="435" width="14" height="2" fill="#005200"/>
<rect x="183" y="435" width="14" height="2" fill="#005600"/>
<rect x="197" y="435" width="14" height="2" fill="#004a00"/>
<rect x="211" y="435" width="13" height="2" fill="#004e00"/>
<rect x="224" y="435" width="14" height="2" fill="#004300"/>
<rect x="32" y="437" width="14" height="2" fill="#007700"/>
<rect x="46" y="437" width="13" height="2" fill="#007500"/>
<rect x="59" y="437" width="14" height="2" fill="#006c00"/>
<rect x="73" y="437" width="14" height="2" fill="#008900"/>
<rect x="87" y="437" width="14" height="2" fill="#007a00"/>
<rect x="101" y="437" width="13" height="2" fill="#007e00"/>
<rect x="114" y="437" width="14" height="2" fill="#007f00"/>
<rect x="128" y="437" width="14" height="2" fill="#008100"/>
<rect x="142" y="437" width="14" height="2" fill="#007f00"/>
<rect x="156" y="437" width="13" height="2" fill="#007500"/>
<rect x="169" y="437" width="14" height="2" fill="#006b00"/>
<rect x="183" y="437" width="14" height="2" fill="#006900"/>
<rect x="197" y="437" width="14" height="2" fill="#006600"/>
<rect x="211" y="437" width="13" height="2" fill="#006200"/>
<rect x="224" y="437" width="14" height="2" fill="#006000"/>
<rect x="32" y="439" width="14" height="2" fill="#007a00"/>
<rect x="46" y="439" width="13" height="2" fill="#007400"/>
<rect x="59" y="439" width="14" height="2" fill="#006900"/>
<rect x="73" y="439" width="14" height="2" fill="#007900"/>
<rect x="87" y="439" width="14" height="2" fill="#006a00"/>
<rect x="101" y="439" width="13" height="2" fill="#006e00"/>
<rect x="114" y="439" width="14" height="2" fill="#006e00"/>
<rect x="128" y="439" width="14" height="2" fill="#007000"/>
<rect x="142" y="439" width="14" height="2" fill="#006a00"/>
<rect x="156" y="439" width="13" height="2" fill="#006a00"/>
<rect x="169" y="439" width="14" height="2" fill="#006c00"/>
<rect x="183" y="439" width="14" height="2" fill="#005e00"/>
<rect x="197" y="439" width="14" height="2" fill="#005600"/>
<rect x="211" y="439" width="13" height="2" fill="#005b00"/>
<rect x="224" y="439" width="14" height="2" fill="#004f00"/>
<rect x="32" y="441" width="14" height="3" fill="#007500"/>
<rect x="46" y="441" width="13" height="3" fill="#007400"/>
<rect x="59" y="441" width="14" height="3" fill="#006a00"/>
<rect x="73" y="441" width="14" height="3" fill="#007900"/>
<rect x="87" y="441" width="14" height="3" fill="#006a00"/>
<rect x="101" y="441" width="13" height="3" fill="#006900"/>
<rect x="114" y="441" width="14" height="3" fill="#006a00"/>
<rect x="128" y="441" width="14" height="3" fill="#006e00"/>
<rect x="142" y="441" width="14" height="3" fill="#006a00"/>
<rect x="156" y="441" width="13" height="3" fill="#006a00"/>
<rect x="169" y="441" width="14" height="3" fill="#006d00"/>
<rect x="183" y="441" width="14" height="3" fill="#006b00"/>
<rect x="197" y="441" width="14" height="3" fill="#005a00"/>
<rect x="211" y="441" width="13" height="3" fill="#006000"/>
<rect x="224" y="441" width="14" height="3" fill="#005200"/>
<rect x="32" y="444" width="14" height="2" fill="#006a00"/>
<rect x="46" y="444" width="13" height="2" fill="#007200"/>
<rect x="59" y="444" width="14" height="2" fill="#006f00"/>
<rect x="73" y="444" width="14" height="2" fill="#006d00"/>
<rect x="87" y="444" width="14" height="2" fill="#007a00"/>
<rect x="101" y="444" width="13" height="2" fill="#006900"/>
<rect x="114" y="444" width="14" height="2" fill="#006900"/>
<rect x="128" y="444" width="14" height="2" fill="#006b00"/>
<rect x="142" y="444" width="14" height="2" fill="#006d00"/>
<rect x="156" y="444" width="13" height="2" fill="#005e00"/>
<rect x="169" y="444" width="14" height="2" fill="#005e00"/>
<rect x="183" y="444" width="14" height="2" fill="#005f00"/>
<rect x="197" y="444" width="14" height="2" fill="#005700"/>
<rect x="211" y="444" width="13" height="2" fill="#005a00"/>
<rect x="224" y="444" width="14" height="2" fill="#005e00"/>
<rect x="32" y="446" width="14" height="2" fill="#006b00"/>
<rect x="46" y="446" width="13" height="2" fill="#006b00"/>
<rect x="59" y="446" width="14" height="2" fill="#006b00"/>
<rect x="73" y="446" width="14" height="2" fill="#006200"/>
<rect x="87" y="446" width="14" height="2" fill="#007300"/>
<rect x="101" y="446" width="13" height="2" fill="#006c00"/>
<rect x="114" y="446" width="14" height="2" fill="#006900"/>
<rect x="128" y="446" width="14" height="2" fill="#006c00"/>
<rect x="142" y="446" width="14" height="2" fill="#006800"/>
<rect x="156" y="446" width="13" height="2" fill="#006400"/>
<rect x="169" y="446" width="14" height="2" fill="#005a00"/>
<rect x="183" y="446" width="14" height="2" fill="#006000"/>
<rect x="197" y="446" width="14" height="2" fill="#005800"/>
<rect x="211" y="446" width="13" height="2" fill="#006000"/>
<rect x="224" y="446" width="14" height="2" fill="#006300"/>
<rect x="32" y="448" width="14" height="2" fill="#007800"/>
<rect x="46" y="448" width="13" height="2" fill="#007300"/>
<rect x="59" y="448" width="14" height="2" fill="#006a00"/>
<rect x="73" y="448" width="14" height="2" fill="#006700"/>
<rect x="87" y="448" width="14" height="2" fill="#006b00"/>
<rect x="101" y="448" width="13" height="2" fill="#006d00"/>
<rect x="114" y="448" width="14" height="2" fill="#006900"/>
<rect x="128" y="448" width="14" height="2" fill="#007000"/>
<rect x="142" y="448" width="14" height="2" fill="#006a00"/>
<rect x="156" y="448" width="13" height="2" fill="#006000"/>
<rect x="169" y="448" width="14" height="2" fill="#005b00"/>
<rect x="183" y="448" width="14" height="2" fill="#005f00"/>
<rect x="197" y="448" width="14" height="2" fill="#005e00"/>
<rect x="211" y="448" width="13" height="2" fill="#005f00"/>
<rect x="224" y="448" width="14" height="2" fill="#005a00"/>
<rect x="32" y="450" width="14" height="2" fill="#007600"/>
<rect x="46" y="450" width="13" height="2" fill="#007100"/>
<rect x="59" y="450" width="14" height="2" fill="#006f00"/>
<rect x="73" y="450" width="14" height="2" fill="#006500"/>
<rect x="87" y="450" width="14" height="2" fill="#006a00"/>
<rect x="101" y="450" width="13" height="2" fill="#006f00"/>
<rect x="114" y="450" width="14" height="2" fill="#006700"/>
<rect x="128" y="450" width="14" height="2" fill="#006d00"/>
<rect x="142" y="450" width="14" height="2" fill="#006b00"/>
<rect x="156" y="450" width="13" height="2" fill="#005d00"/>
<rect x="169" y="450" width="14" height="2" fill="#005900"/>
<rect x="183" y="450" width="14" height="2" fill="#005c00"/>
<rect x="197" y="450" width="14" height="2" fill="#006100"/>
<rect x="211" y="450" width="13" height="2" fill="#005d00"/>
<rect x="224" y="450" width="14" height="2" fill="#005800"/>
<rect x="32" y="452" width="14" height="1" fill="#007400"/>
<rect x="46" y="452" width="13" height="1" fill="#007000"/>
<rect x="59" y="452" width="14" height="1" fill="#006900"/>
<rect x="73" y="452" width="14" height="1" fill="#007200"/>
<rect x="87" y="452" width="14" height="1" fill="#007800"/>
<rect x="101" y="452" width="13" height="1" fill="#006d00"/>
<rect x="114" y="452" width="14" height="1" fill="#006800"/>
<rect x="128" y="452" width="14" height="1" fill="#006a00"/>
<rect x="142" y="452" width="14" height="1" fill="#006800"/>
<rect x="156" y="452" width="13" height="1" fill="#005800"/>
<rect x="169" y="452" width="14" height="1" fill="#005b00"/>
<rect x="183" y="452" width="14" height="1" fill="#005500"/>
<rect x="197" y="452" width="14" height="1" fill="#005a00"/>
<rect x="211" y="452" width="13" height="1" fill="#005a00"/>
<rect x="224" y="452" width="14" height="1" fill="#005000"/>
<rect x="32" y="453" width="14" height="2" fill="#007200"/>
<rect x="46" y="453" width="13" height="2" fill="#007300"/>
<rect x="59" y="453" width="14" height="2" fill="#006800"/>
<rect x="73" y="453" width="14" height="2" fill="#007f00"/>
<rect x="87" y="453" width="14" height="2" fill="#007d00"/>
<rect x="101" y="453" width="13" height="2" fill="#007000"/>
<rect x="114" y="453" width="14" height="2" fill="#006c00"/>
<rect x="128" y="453" width="14" height="2" fill="#007400"/>
<rect x="142" y="453" width="14" height="2" fill="#006e00"/>
<rect x="156" y="453" width="13" height="2" fill="#005d00"/>
<rect x="169" y="453" width="14" height="2" fill="#005c00"/>
<rect x="183" y="453" width="14" height="2" fill="#005d00"/>
<rect x="197" y="453" width="14" height="2" fill="#006300"/>
<rect x="211" y="453" width="13" height="2" fill="#006300"/>
<rect x="224" y="453" width="14" height="2" fill="#005700"/>
<rect x="32" y="455" width="14" height="2" fill="#007000"/>
<rect x="46" y="455" width="13" height="2" fill="#006a00"/>
<rect x="59" y="455" width="14" height="2" fill="#006600"/>
<rect x="73" y="455" width="14" height="2" fill="#007b00"/>
<rect x="87" y="455" width="14" height="2" fill="#007d00"/>
<rect x="101" y="455" width="13" height="2" fill="#006a00"/>
<rect x="114" y="455" width="14" height="2" fill="#006b00"/>
<rect x="128" y="455" width="14" height="2" fill="#007100"/>
<rect x="142" y="455" width="14" height="2" fill="#006d00"/>
<rect x="156" y="455" width="13" height="2" fill="#005a00"/>
<rect x="169" y="455" width="14" height="2" fill="#005f00"/>
<rect x="183" y="455" width="14" height="2" fill="#005c00"/>
<rect x="197" y="455" width="14" height="2" fill="#006400"/>
<rect x="211" y="455" width="13" height="2" fill="#006400"/>
<rect x="224" y="455" width="14" height="2" fill="#005e00"/>
<rect x="32" y="457" width="14" height="2" fill="#006c00"/>
<rect x="46" y="457" width="13" height="2" fill="#006800"/>
<rect x="59" y="457" width="14" height="2" fill="#006e00"/>
<rect x="73" y="457" width="14" height="2" fill="#007500"/>
<rect x="87" y="457" width="14" height="2" fill="#007200"/>
<rect x="101" y="457" width="13" height="2" fill="#006e00"/>
<rect x="114" y="457" width="14" height="2" fill="#006900"/>
<rect x="128" y="457" width="14" height="2" fill="#006f00"/>
<rect x="142" y="457" width="14" height="2" fill="#006b00"/>
<rect x="156" y="457" width="13" height="2" fill="#005800"/>
<rect x="169" y="457" width="14" height="2" fill="#005d00"/>
<rect x="183" y="457" width="14" height="2" fill="#005a00"/>
<rect x="197" y="457" width="14" height="2" fill="#005c00"/>
<rect x="211" y="457" width="13" height="2" fill="#006200"/>
<rect x="224" y="457" width="14" height="2" fill="#005e00"/>
<rect x="32" y="459" width="14" height="3" fill="#006700"/>
<rect x="46" y="459" width="13" height="3" fill="#006800"/>
<rect x="59" y="459" width="14" height="3" fill="#006500"/>
<rect x="73" y="459" width="14" height="3" fill="#006f00"/>
<rect x="87" y="459" width="14" height="3" fill="#006c00"/>
<rect x="101" y="459" width="13" height="3" fill="#006c00"/>
<rect x="114" y="459" width="14" height="3" fill="#006500"/>
<rect x="128" y="459" width="14" height="3" fill="#006500"/>
<rect x="142" y="459" width="14" height="3" fill="#005f00"/>
<rect x="156" y="459" width="13" height="3" fill="#006200"/>
<rect x="169" y="459" width="14" height="3" fill="#006200"/>
<rect x="183" y="459" width="14" height="3" fill="#005e00"/>
<rect x="197" y="459" width="14" height="3" fill="#005500"/>
<rect x="211" y="459" width="13" height="3" fill="#005800"/>
<rect x="224" y="459" width="14" height="3" fill="#005300"/>
<rect x="32" y="462" width="14" height="2" fill="#006400"/>
<rect x="46" y="462" width="13" height="2" fill="#006800"/>
<rect x="59" y="462" width="14" height="2" fill="#006000"/>
<rect x="73" y="462" width="14" height="2" fill="#006c00"/>
<rect x="87" y="462" width="14" height="2" fill="#006900"/>
<rect x="101" y="462" width="13" height="2" fill="#006300"/>
<rect x="114" y="462" width="14" height="2" fill="#006800"/>
<rect x="128" y="462" width="14" height="2" fill="#006400"/>
<rect x="142" y="462" width="14" height="2" fill="#005f00"/>
<rect x="156" y="462" width="13" height="2" fill="#005f00"/>
<rect x="169" y="462" width="14" height="2" fill="#005f00"/>
<rect x="183" y="462" width="14" height="2" fill="#005c00"/>
<rect x="197" y="462" width="14" height="2" fill="#005300"/>
<rect x="211" y="462" width="13" height="2" fill="#005500"/>
<rect x="224" y="462" width="14" height="2" fill="#005600"/>
<rect x="32" y="464" width="14" height="2" fill="#006200"/>
<rect x="46" y="464" width="13" height="2" fill="#006600"/>
<rect x="59" y="464" width="14" height="2" fill="#005e00"/>
<rect x="73" y="464" width="14" height="2" fill="#006a00"/>
<rect x="87" y="464" width="14" height="2" fill="#006700"/>
<rect x="101" y="464" width="13" height="2" fill="#006100"/>
<rect x="114" y="464" width="14" height="2" fill="#006400"/>
<rect x="128" y="464" width="14" height="2" fill="#006800"/>
<rect x="142" y="464" width="14" height="2" fill="#005d00"/>
<rect x="156" y="464" width="13" height="2" fill="#005d00"/>
<rect x="169" y="464" width="14" height="2" fill="#005d00"/>
<rect x="183" y="464" width="14" height="2" fill="#005a00"/>
<rect x="197" y="464" width="14" height="2" fill="#005100"/>
<rect x="211" y="464" width="13" height="2" fill="#005c00"/>
<rect x="224" y="464" width="14" height="2" fill="#005600"/>
<rect x="32" y="466" width="14" height="2" fill="#006100"/>
<rect x="46" y="466" width="13" height="2" fill="#006200"/>
<rect x="59" y="466" width="14" height="2" fill="#005d00"/>
<rect x="73" y="466" width="14" height="2" fill="#006700"/>
<rect x="87" y="466" width="14" height="2" fill="#006500"/>
<rect x="101" y="466" width="13" height="2" fill="#006600"/>
<rect x="114" y="466" width="14" height="2" fill="#006100"/>
<rect x="128" y="466" width="14" height="2" fill="#006200"/>
<rect x="142" y="466" width="14" height="2" fill="#005f00"/>
<rect x="156" y="466" width="13" height="2" fill="#005900"/>
<rect x="169" y="466" width="14" height="2" fill="#005900"/>
<rect x="183" y="466" width="14" height="2" fill="#005600"/>
<rect x="197" y="466" width="14" height="2" fill="#005100"/>
<rect x="211" y="466" width="13" height="2" fill="#005100"/>
<rect x="224" y="466" width="14" height="2" fill="#004f00"/>
<rect x="32" y="468" width="14" height="3" fill="#005b00"/>
<rect x="46" y="468" width="13" height="3" fill="#005b00"/>
<rect x="59" y="468" width="14" height="3" fill="#005700"/>
<rect x="73" y="468" width="14" height="3" fill="#006000"/>
<rect x="87" y="468" width="14" height="3" fill="#005f00"/>
<rect x="101" y="468" width="13" height="3" fill="#005f00"/>
<rect x="114" y="468" width="14" height="3" fill="#005900"/>
<rect x="128" y="468" width="14" height="3" fill="#005e00"/>
<rect x="142" y="468" width="14" height="3" fill="#005500"/>
<rect x="156" y="468" width="13" height="3" fill="#005500"/>
<rect x="169" y="468" width="14" height="3" fill="#005200"/>
<rect x="183" y="468" width="14" height="3" fill="#005000"/>
<rect x="197" y="468" width="14" height="3" fill="#004600"/>
<rect x="211" y="468" width="13" height="3" fill="#004400"/>
<rect x="224" y="468" width="14" height="3" fill="#004900"/>
<rect x="32" y="471" width="14" height="2" fill="#004e00"/>
<rect x="46" y="471" width="13" height="2" fill="#006c00"/>
<rect x="59" y="471" width="14" height="2" fill="#004a00"/>
<rect x="73" y="471" width="14" height="2" fill="#004d00"/>
<rect x="87" y="471" width="14" height="2" fill="#004e00"/>
<rect x="101" y="471" width="13" height="2" fill="#005900"/>
<rect x="114" y="471" width="14" height="2" fill="#005300"/>
<rect x="128" y="471" width="14" height="2" fill="#005300"/>
<rect x="142" y="471" width="14" height="2" fill="#004900"/>
<rect x="156" y="471" width="13" height="2" fill="#005100"/>
<rect x="169" y="471" width="14" height="2" fill="#005000"/>
<rect x="183" y="471" width="14" height="2" fill="#004d00"/>
<rect x="197" y="471" width="14" height="2" fill="#005100"/>
<rect x="211" y="471" width="13" height="2" fill="#004e00"/>
<rect x="224" y="471" width="14" height="2" fill="#005500"/>
<rect x="32" y="473" width="14" height="3" fill="#003d00"/>
<rect x="46" y="473" width="13" height="3" fill="#005400"/>
<rect x="59" y="473" width="14" height="3" fill="#005300"/>
<rect x="73" y="473" width="14" height="3" fill="#004800"/>
<rect x="87" y="473" width="14" height="3" fill="#004900"/>
<rect x="101" y="473" width="13" height="3" fill="#005400"/>
<rect x="114" y="473" width="14" height="3" fill="#004d00"/>
<rect x="128" y="473" width="14" height="3" fill="#003d00"/>
<rect x="142" y="473" width="14" height="3" fill="#004900"/>
<rect x="156" y="473" width="13" height="3" fill="#004b00"/>
<rect x="169" y="473" width="14" height="3" fill="#004900"/>
<rect x="183" y="473" width="14" height="3" fill="#004c00"/>
<rect x="197" y="473" width="14" height="3" fill="#004b00"/>
<rect x="211" y="473" width="13" height="3" fill="#004800"/>
<rect x="224" y="473" width="14" height="3" fill="#005300"/>
<rect x="32" y="476" width="14" height="2" fill="#004100"/>
<rect x="46" y="476" width="13" height="2" fill="#004700"/>
<rect x="59" y="476" width="14" height="2" fill="#004d00"/>
<rect x="73" y="476" width="14" height="2" fill="#003200"/>
<rect x="87" y="476" width="14" height="2" fill="#003700"/>
<rect x="101" y="476" width="13" height="2" fill="#004e00"/>
<rect x="114" y="476" width="14" height="2" fill="#003c00"/>
<rect x="128" y="476" width="14" height="2" fill="#003800"/>
<rect x="142" y="476" width="14" height="2" fill="#004400"/>
<rect x="156" y="476" width="13" height="2" fill="#003f00"/>
<rect x="169" y="476" width="14" height="2" fill="#003d00"/>
<rect x="183" y="476" width="14" height="2" fill="#004700"/>
<rect x="197" y="476" width="14" height="2" fill="#004600"/>
<rect x="211" y="476" width="13" height="2" fill="#004300"/>
<rect x="224" y="476" width="14" height="2" fill="#004d00"/>
<rect x="32" y="478" width="14" height="2" fill="#004800"/>
<rect x="46" y="478" width="13" height="2" fill="#005300"/>
<rect x="59" y="478" width="14" height="2" fill="#005500"/>
<rect x="73" y="478" width="14" height="2" fill="#003d00"/>
<rect x="87" y="478" width="14" height="2" fill="#003100"/>
<rect x="101" y="478" width="13" height="2" fill="#004a00"/>
<rect x="114" y="478" width="14" height="2" fill="#003f00"/>
<rect x="128" y="478" width="14" height="2" fill="#003b00"/>
<rect x="142" y="478" width="14" height="2" fill="#004300"/>
<rect x="156" y="478" width="13" height="2" fill="#003000"/>
<rect x="169" y="478" width="14" height="2" fill="#003a00"/>
<rect x="183" y="478" width="14" height="2" fill="#005000"/>
<rect x="197" y="478" width="14" height="2" fill="#004000"/>
<rect x="211" y="478" width="13" height="2" fill="#003800"/>
<rect x="224" y="478" width="14" height="2" fill="#004800"/>
<rect x="32" y="480" width="14" height="3" fill="#005a00"/>
<rect x="46" y="480" width="13" height="3" fill="#004f00"/>
<rect x="59" y="480" width="14" height="3" fill="#004900"/>
<rect x="73" y="480" width="14" height="3" fill="#003800"/>
<rect x="87" y="480" width="14" height="3" fill="#003a00"/>
<rect x="101" y="480" width="13" height="3" fill="#004400"/>
<rect x="114" y="480" width="14" height="3" fill="#004100"/>
<rect x="128" y="480" width="14" height="3" fill="#003800"/>
<rect x="142" y="480" width="14" height="3" fill="#004200"/>
<rect x="156" y="480" width="13" height="3" fill="#002c00"/>
<rect x="169" y="480" width="14" height="3" fill="#003600"/>
<rect x="183" y="480" width="14" height="3" fill="#003b00"/>
<rect x="197" y="480" width="14" height="3" fill="#003c00"/>
<rect x="211" y="480" width="13" height="3" fill="#004600"/>
<rect x="224" y="480" width="14" height="3" fill="#003200"/>
<rect x="32" y="483" width="14" height="2" fill="#004100"/>
<rect x="46" y="483" width="13" height="2" fill="#004300"/>
<rect x="59" y="483" width="14" height="2" fill="#003e00"/>
<rect x="73" y="483" width="14" height="2" fill="#002d00"/>
<rect x="87" y="483" width="14" height="2" fill="#001d00"/>
<rect x="101" y="483" width="13" height="2" fill="#002f00"/>
<rect x="114" y="483" width="14" height="2" fill="#002000"/>
<rect x="128" y="483" width="14" height="2" fill="#002f00"/>
<rect x="142" y="483" width="14" height="2" fill="#002800"/>
<rect x="156" y="483" width="13" height="2" fill="#002600"/>
<rect x="169" y="483" width="14" height="2" fill="#002b00"/>
<rect x="183" y="483" width="14" height="2" fill="#002000"/>
<rect x="197" y="483" width="14" height="2" fill="#003500"/>
<rect x="211" y="483" width="13" height="2" fill="#003400"/>
<rect x="224" y="483" width="14" height="2" fill="#002700"/>
<rect x="32" y="485" width="14" height="2" fill="#003800"/>
<rect x="46" y="485" width="13" height="2" fill="#003d00"/>
<rect x="59" y="485" width="14" height="2" fill="#003400"/>
<rect x="73" y="485" width="14" height="2" fill="#002700"/>
<rect x="87" y="485" width="14" height="2" fill="#001e00"/>
<rect x="101" y="485" width="13" height="2" fill="#002f00"/>
<rect x="114" y="485" width="14" height="2" fill="#002100"/>
<rect x="128" y="485" width="14" height="2" fill="#003100"/>
<rect x="142" y="485" width="14" height="2" fill="#002400"/>
<rect x="156" y="485" width="13" height="2" fill="#002000"/>
<rect x="169" y="485" width="14" height="2" fill="#002400"/>
<rect x="183" y="485" width="14" height="2" fill="#002600"/>
<rect x="197" y="485" width="14" height="2" fill="#002c00"/>
<rect x="211" y="485" width="13" height="2" fill="#003500"/>
<rect x="224" y="485" width="14" height="2" fill="#002100"/>
<rect x="32" y="487" width="14" height="2" fill="#002e00"/>
<rect x="46" y="487" width="13" height="2" fill="#003400"/>
<rect x="59" y="487" width="14" height="2" fill="#002d00"/>
<rect x="73" y="487" width="14" height="2" fill="#001500"/>
<rect x="87" y="487" width="14" height="2" fill="#001900"/>
<rect x="101" y="487" width="13" height="2" fill="#002000"/>
<rect x="114" y="487" width="14" height="2" fill="#001c00"/>
<rect x="128" y="487" width="14" height="2" fill="#002700"/>
<rect x="142" y="487" width="14" height="2" fill="#002700"/>
<rect x="156" y="487" width="13" height="2" fill="#001300"/>
<rect x="169" y="487" width="14" height="2" fill="#001700"/>
<rect x="183" y="487" width="14" height="2" fill="#001900"/>
<rect x="197" y="487" width="14" height="2" fill="#001900"/>
<rect x="211" y="487" width="13" height="2" fill="#002100"/>
<rect x="224" y="487" width="14" height="2" fill="#001800"/>
<rect x="32" y="489" width="14" height="1" fill="#001500"/>
<rect x="46" y="489" width="13" height="1" fill="#001a00"/>
<rect x="59" y="489" width="14" height="1" fill="#001d00"/>
<rect x="73" y="489" width="14" height="1" fill="#000400"/>
<rect x="87" y="489" width="14" height="1" fill="#000800"/>
<rect x="101" y="489" width="13" height="1" fill="#000d00"/>
<rect x="114" y="489" width="14" height="1" fill="#000f00"/>
<rect x="128" y="489" width="14" height="1" fill="#000c00"/>
<rect x="142" y="489" width="14" height="1" fill="#001400"/>
<rect x="156" y="489" width="13" height="1" fill="#000100"/>
<rect x="169" y="489" width="14" height="1" fill="#000500"/>
<rect x="183" y="489" width="14" height="1" fill="#000300"/>
<rect x="197" y="489" width="14" height="1" fill="#000600"/>
<rect x="211" y="489" width="13" height="1" fill="#000d00"/>
<rect x="224" y="489" width="14" height="1" fill="#000400"/>
<rect x="32" y="490" width="14" height="2" fill="#003500"/>
<rect x="46" y="490" width="13" height="2" fill="#002800"/>
<rect x="59" y="490" width="14" height="2" fill="#003400"/>
<rect x="73" y="490" width="14" height="2" fill="#000d00"/>
<rect x="87" y="490" width="14" height="2" fill="#000d00"/>
<rect x="101" y="490" width="13" height="2" fill="#001600"/>
<rect x="114" y="490" width="14" height="2" fill="#000d00"/>
<rect x="128" y="490" width="14" height="2" fill="#000e00"/>
<rect x="142" y="490" width="14" height="2" fill="#001d00"/>
<rect x="156" y="490" width="13" height="2" fill="#000e00"/>
<rect x="169" y="490" width="14" height="2" fill="#001a00"/>
<rect x="183" y="490" width="14" height="2" fill="#001000"/>
<rect x="197" y="490" width="14" height="2" fill="#001b00"/>
<rect x="211" y="490" width="13" height="2" fill="#001700"/>
<rect x="224" y="490" width="14" height="2" fill="#002000"/>
<rect x="32" y="492" width="14" height="2" fill="#001d00"/>
<rect x="46" y="492" width="13" height="2" fill="#002100"/>
<rect x="59" y="492" width="14" height="2" fill="#001b00"/>
<rect x="73" y="492" width="14" height="2" fill="#000600"/>
<rect x="87" y="492" width="14" height="2" fill="#000000"/>
<rect x="101" y="492" width="13" height="2" fill="#000800"/>
<rect x="114" y="492" width="14" height="2" fill="#001200"/>
<rect x="128" y="492" width="14" height="2" fill="#000500"/>
<rect x="142" y="492" width="14" height="2" fill="#001600"/>
<rect x="156" y="492" width="13" height="2" fill="#000700"/>
<rect x="169" y="492" width="14" height="2" fill="#000a00"/>
<rect x="183" y="492" width="14" height="2" fill="#001800"/>
<rect x="197" y="492" width="14" height="2" fill="#000b00"/>
<rect x="211" y="492" width="13" height="2" fill="#000300"/>
<rect x="224" y="492" width="14" height="2" fill="#001400"/>
<rect x="32" y="494" width="14" height="2" fill="#000800"/>
<rect x="46" y="494" width="13" height="2" fill="#000900"/>
<rect x="59" y="494" width="14" height="2" fill="#000700"/>
<rect x="73" y="494" width="14" height="2" fill="#000500"/>
<rect x="87" y="494" width="14" height="2" fill="#000300"/>
<rect x="101" y="494" width="13" height="2" fill="#000500"/>
<rect x="114" y="494" width="14" height="2" fill="#000600"/>
<rect x="128" y="494" width="14" height="2" fill="#000500"/>
<rect x="142" y="494" width="14" height="2" fill="#000800"/>
<rect x="156" y="494" width="13" height="2" fill="#000300"/>
<rect x="169" y="494" width="14" height="2" fill="#000400"/>
<rect x="183" y="494" width="14" height="2" fill="#000400"/>
<rect x="197" y="494" width="14" height="2" fill="#000300"/>
<rect x="211" y="494" width="13" height="2" fill="#000400"/>
<rect x="224" y="494" width="14" height="2" fill="#000500"/>
<rect x="32" y="496" width="14" height="3" fill="#020300"/>
<rect x="46" y="496" width="13" height="3" fill="#030500"/>
<rect x="59" y="496" width="14" height="3" fill="#030600"/>
<rect x="73" y="496" width="14" height="3" fill="#020500"/>
<rect x="87" y="496" width="14" height="3" fill="#020500"/>
<rect x="101" y="496" width="13" height="3" fill="#020200"/>
<rect x="114" y="496" width="14" height="3" fill="#020300"/>
<rect x="128" y="496" width="14" height="3" fill="#020300"/>
<rect x="142" y="496" width="14" height="3" fill="#020200"/>
<rect x="156" y="496" width="13" height="3" fill="#020000"/>
<rect x="169" y="496" width="14" height="3" fill="#020000"/>
<rect x="183" y="496" width="14" height="3" fill="#020000"/>
<rect x="197" y="496" width="14" height="3" fill="#020000"/>
<rect x="211" y="496" width="13" height="3" fill="#020000"/>
<rect x="224" y="496" width="14" height="3" fill="#020000"/>
<rect x="32" y="499" width="14" height="2" fill="#120400"/>
<rect x="46" y="499" width="13" height="2" fill="#120400"/>
<rect x="59" y="499" width="14" height="2" fill="#130500"/>
<rect x="73" y="499" width="14" height="2" fill="#110400"/>
<rect x="87" y="499" width="14" height="2" fill="#110400"/>
<rect x="101" y="499" width="13" height="2" fill="#0f0100"/>
<rect x="114" y="499" width="14" height="2" fill="#100200"/>
<rect x="128" y="499" width="14" height="2" fill="#100300"/>
<rect x="142" y="499" width="14" height="2" fill="#0f0100"/>
<rect x="156" y="499" width="13" height="2" fill="#0e0000"/>
<rect x="169" y="499" width="14" height="2" fill="#0c0000"/>
<rect x="183" y="499" width="14" height="2" fill="#0e0000"/>
<rect x="197" y="499" width="14" height="2" fill="#0d0000"/>
<rect x="211" y="499" width="13" height="2" fill="#0b0000"/>
<rect x="224" y="499" width="14" height="2" fill="#0e0000"/>
<rect x="32" y="501" width="14" height="1" fill="#150000"/>
<rect x="46" y="501" width="13" height="1" fill="#160000"/>
<rect x="59" y="501" width="14" height="1" fill="#170000"/>
<rect x="73" y="501" width="14" height="1" fill="#190300"/>
<rect x="87" y="501" width="14" height="1" fill="#160100"/>
<rect x="101" y="501" width="13" height="1" fill="#160000"/>
<rect x="114" y="501" width="14" height="1" fill="#1d0600"/>
<rect x="128" y="501" width="14" height="1" fill="#170200"/>
<rect x="142" y="501" width="14" height="1" fill="#180200"/>
<rect x="156" y="501" width="13" height="1" fill="#150000"/>
<rect x="169" y="501" width="14" height="1" fill="#130000"/>
<rect x="183" y="501" width="14" height="1" fill="#150000"/>
<rect x="197" y="501" width="14" height="1" fill="#150000"/>
<rect x="211" y="501" width="13" height="1" fill="#110000"/>
<rect x="224" y="501" width="14" height="1" fill="#150000"/>
<rect x="32" y="502" width="14" height="2" fill="#1b0000"/>
<rect x="46" y="502" width="13" height="2" fill="#1e0000"/>
<rect x="59" y="502" width="14" height="2" fill="#1e0000"/>
<rect x="73" y="502" width="14" height="2" fill="#220300"/>
<rect x="87" y="502" width="14" height="2" fill="#1f0100"/>
<rect x="101" y="502" width="13" height="2" fill="#1e0000"/>
<rect x="114" y="502" width="14" height="2" fill="#270600"/>
<rect x="128" y="502" width="14" height="2" fill="#200200"/>
<rect x="142" y="502" width="14" height="2" fill="#210200"/>
<rect x="156" y="502" width="13" height="2" fill="#1b0000"/>
<rect x="169" y="502" width="14" height="2" fill="#200000"/>
<rect x="183" y="502" width="14" height="2" fill="#1f0000"/>
<rect x="197" y="502" width="14" height="2" fill="#1b0000"/>
<rect x="211" y="502" width="13" height="2" fill="#1d0000"/>
<rect x="224" y="502" width="14" height="2" fill="#1c0000"/>
<rect x="32" y="504" width="14" height="3" fill="#2a0000"/>
<rect x="46" y="504" width="13" height="3" fill="#2e0000"/>
<rect x="59" y="504" width="14" height="3" fill="#2b0000"/>
<rect x="73" y="504" width="14" height="3" fill="#310300"/>
<rect x="87" y="504" width="14" height="3" fill="#2f0300"/>
<rect x="101" y="504" width="13" height="3" fill="#2e0100"/>
<rect x="114" y="504" width="14" height="3" fill="#350500"/>
<rect x="128" y="504" width="14" height="3" fill="#2e0200"/>
<rect x="142" y="504" width="14" height="3" fill="#2b0000"/>
<rect x="156" y="504" width="13" height="3" fill="#270000"/>
<rect x="169" y="504" width="14" height="3" fill="#2a0000"/>
<rect x="183" y="504" width="14" height="3" fill="#2c0000"/>
<rect x="197" y="504" width="14" height="3" fill="#270000"/>
<rect x="211" y="504" width="13" height="3" fill="#290000"/>
<rect x="224" y="504" width="14" height="3" fill="#2f0000"/>
<rect x="32" y="507" width="14" height="2" fill="#330000"/>
<rect x="46" y="507" width="13" height="2" fill="#390000"/>
<rect x="59" y="507" width="14" height="2" fill="#3b0000"/>
<rect x="73" y="507" width="14" height="2" fill="#410300"/>
<rect x="87" y="507" width="14" height="2" fill="#440400"/>
<rect x="101" y="507" width="13" height="2" fill="#470400"/>
<rect x="114" y="507" width="14" height="2" fill="#440300"/>
<rect x="128" y="507" width="14" height="2" fill="#430300"/>
<rect x="142" y="507" width="14" height="2" fill="#400200"/>
<rect x="156" y="507" width="13" height="2" fill="#3c0000"/>
<rect x="169" y="507" width="14" height="2" fill="#390000"/>
<rect x="183" y="507" width="14" height="2" fill="#3c0000"/>
<rect x="197" y="507" width="14" height="2" fill="#350000"/>
<rect x="211" y="507" width="13" height="2" fill="#3b0000"/>
<rect x="224" y="507" width="14" height="2" fill="#3d0000"/>
<rect x="32" y="509" width="14" height="2" fill="#3d0000"/>
<rect x="46" y="509" width="13" height="2" fill="#430000"/>
<rect x="59" y="509" width="14" height="2" fill="#460000"/>
<rect x="73" y="509" width="14" height="2" fill="#4f0100"/>
<rect x="87" y="509" width="14" height="2" fill="#500200"/>
<rect x="101" y="509" width="13" height="2" fill="#530200"/>
<rect x="114" y="509" width="14" height="2" fill="#490000"/>
<rect x="128" y="509" width="14" height="2" fill="#4d0100"/>
<rect x="142" y="509" width="14" height="2" fill="#4c0000"/>
<rect x="156" y="509" width="13" height="2" fill="#470000"/>
<rect x="169" y="509" width="14" height="2" fill="#490000"/>
<rect x="183" y="509" width="14" height="2" fill="#470000"/>
<rect x="197" y="509" width="14" height="2" fill="#3e0000"/>
<rect x="211" y="509" width="13" height="2" fill="#450000"/>
<rect x="224" y="509" width="14" height="2" fill="#480000"/>
<rect x="32" y="511" width="14" height="2" fill="#500000"/>
<rect x="46" y="511" width="13" height="2" fill="#570000"/>
<rect x="59" y="511" width="14" height="2" fill="#530000"/>
<rect x="73" y="511" width="14" height="2" fill="#610100"/>
<rect x="87" y="511" width="14" height="2" fill="#630200"/>
<rect x="101" y="511" width="13" height="2" fill="#600000"/>
<rect x="114" y="511" width="14" height="2" fill="#510000"/>
<rect x="128" y="511" width="14" height="2" fill="#540000"/>
<rect x="142" y="511" width="14" height="2" fill="#490000"/>
<rect x="156" y="511" width="13" height="2" fill="#5b0000"/>
<rect x="169" y="511" width="14" height="2" fill="#5c0000"/>
<rect x="183" y="511" width="14" height="2" fill="#580000"/>
<rect x="197" y="511" width="14" height="2" fill="#520000"/>
<rect x="211" y="511" width="13" height="2" fill="#580000"/>
<rect x="224" y="511" width="14" height="2" fill="#560000"/>
<rect x="32" y="513" width="14" height="1" fill="#6e0000"/>
<rect x="46" y="513" width="13" height="1" fill="#6d0000"/>
<rect x="59" y="513" width="14" height="1" fill="#680000"/>
<rect x="73" y="513" width="14" height="1" fill="#6f0000"/>
<rect x="87" y="513" width="14" height="1" fill="#730100"/>
<rect x="101" y="513" width="13" height="1" fill="#670000"/>
<rect x="114" y="513" width="14" height="1" fill="#6b0000"/>
<rect x="128" y="513" width="14" height="1" fill="#680000"/>
<rect x="142" y="513" width="14" height="1" fill="#5b0000"/>
<rect x="156" y="513" width="13" height="1" fill="#610000"/>
<rect x="169" y="513" width="14" height="1" fill="#6e0000"/>
<rect x="183" y="513" width="14" height="1" fill="#6a0000"/>
<rect x="197" y="513" width="14" height="1" fill="#640000"/>
<rect x="211" y="513" width="13" height="1" fill="#680000"/>
<rect x="224" y="513" width="14" height="1" fill="#6b0000"/>
<rect x="32" y="514" width="14" height="2" fill="#830000"/>
<rect x="46" y="514" width="13" height="2" fill="#820000"/>
<rect x="59" y="514" width="14" height="2" fill="#780000"/>
<rect x="73" y="514" width="14" height="2" fill="#840000"/>
<rect x="87" y="514" width="14" height="2" fill="#880100"/>
<rect x="101" y="514" width="13" height="2" fill="#7c0000"/>
<rect x="114" y="514" width="14" height="2" fill="#840000"/>
<rect x="128" y="514" width="14" height="2" fill="#7d0000"/>
<rect x="142" y="514" width="14" height="2" fill="#740000"/>
<rect x="156" y="514" width="13" height="2" fill="#760000"/>
<rect x="169" y="514" width="14" height="2" fill="#750000"/>
<rect x="183" y="514" width="14" height="2" fill="#7f0000"/>
<rect x="197" y="514" width="14" height="2" fill="#790000"/>
<rect x="211" y="514" width="13" height="2" fill="#7d0000"/>
<rect x="224" y="514" width="14" height="2" fill="#800000"/>
</g>
<rect x="239.1" y="145.5" width="10" height="370" fill="#000"/>
<path d="M249,452L248.34,452L248.68,453.16L249.14,454.13L249.41,455.43L250.54,456.48L249.36,458.07L248.05,458.93L248.16,460.43L249.95,461.8L250.74,462.84L248.71,463.66L248.46,464.82L249.3,466.29L248.8,467.2L250.24,468.5L251.09,469.81L252.29,471.25L250.09,472.6L250.24,473.78L251.33,474.59L250.68,475.96L251.43,476.98L252.3,478.33L253.37,479.63L253.77,480.74L251.93,482.27L254.41,483.81L253.82,484.72L255.69,486.02L254.96,487.12L256.21,488.62L255.7,490.18L255.37,491.5L257.88,492.88L258.09,494.19L259.09,495.16L260.03,496.74L259.99,497.97L260.87,499.03L259.79,500.51L260.52,501.38L262.2,502.62L260.46,503.81L261.36,505.26L262.51,506.7L265.1,507.77L263.59,508.68L266.16,509.89L266.96,511.36L267.32,512.92L293,513.6L293,515.5L249,515.5Z" fill="#000"/>
<path d="M248.6,146H249.87V147.2H248.6M248.6,147.97H251.4V150.08H248.6M248.6,150.96H253V153.28H248.6M248.6,154.08H251.55V155.57H248.6M248.6,156.63H255.47V157.8H248.6M248.6,158.87H255.9V160.61H248.6M248.6,161.43H250.75V163.19H248.6M248.6,163.95H253.55V164.8H248.6M248.6,165.97H252.96V167.49H248.6M248.6,168.51H253.27V170.19H248.6M248.6,171.12H249.71V172.89H248.6M248.6,173.56H255.83V176.02H248.6M248.6,176.56H252.67V177.59H248.6M248.6,178.28H254.93V180.7H248.6M248.6,181.43H251.59V182.58H248.6M248.6,183.43H255.63V184.47H248.6M248.6,185.47H249.33V186.62H248.6M248.6,187.12H254.09V188.5H248.6M248.6,189.12H253.65V190.11H248.6M248.6,191.07H250.16V192.79H248.6M248.6,193.31H250.73V195.07H248.6M248.6,195.76H252V197.3H248.6M248.6,198.08H250.44V199.25H248.6M248.6,200.12H253.77V201.87H248.6M248.6,202.93H253.6V205.28H248.6M248.6,205.79H254.44V208.05H248.6M248.6,209.16H251.58V210.52H248.6M248.6,211.66H250.88V214.25H248.6M248.6,215.35H250.25V216.58H248.6M248.6,217.54H251.18V218.51H248.6M248.6,219.56H252.32V221.78H248.6M248.6,222.19H252.19V224.23H248.6M248.6,224.54H250.75V226.57H248.6M248.6,227.69H255.9V228.7H248.6M248.6,229.46H254.56V231.16H248.6M248.6,232.08H250.66V233H248.6M248.6,233.4H249.46V235.19H248.6M248.6,235.96H253.31V237.02H248.6M248.6,237.49H250.77V239.8H248.6M248.6,240.99H255.64V241.96H248.6M248.6,242.32H255.79V243.95H248.6M248.6,244.94H251.66V246.58H248.6M248.6,247.34H252.38V249.22H248.6M248.6,249.53H254.18V251.85H248.6M248.6,252.32H252.54V254.45H248.6M248.6,255.11H250.71V256.21H248.6M248.6,256.97H249.26V259.38H248.6M248.6,260.4H254.21V262.75H248.6M248.6,263.62H252.2V265.5H248.6M248.6,266.25H255.99V268.5H248.6M248.6,269.03H255.54V271.17H248.6M248.6,272.17H254.92V273.7H248.6M248.6,274.81H255.34V276.86H248.6M248.6,277.85H254.6V279.38H248.6M248.6,280.33H249.74V281.75H248.6M248.6,282.47H249.22V283.91H248.6M248.6,284.78H253.68V286H248.6M248.6,287.15H253.96V288.56H248.6M248.6,289.45H253.32V291.21H248.6M248.6,291.86H256.1V293.82H248.6M248.6,294.75H254.58V297.31H248.6M248.6,297.63H253.62V299.76H248.6M248.6,300.29H252.18V301.19H248.6M248.6,301.66H252V302.64H248.6M248.6,303.16H255.5V304.95H248.6M248.6,305.71H255.89V307.53H248.6M248.6,308.73H253.77V310.99H248.6M248.6,311.36H253.5V313.52H248.6M248.6,313.86H255.66V314.95H248.6M248.6,315.68H250.51V317.37H248.6M248.6,318.22H249.64V320.72H248.6M248.6,321.4H253.03V323.27H248.6M248.6,323.9H251.37V325.88H248.6M248.6,326.69H251.35V328.78H248.6M248.6,329.34H249.25V330.58H248.6M248.6,330.92H250.42V333.08H248.6M248.6,333.73H255.45V335.88H248.6M248.6,336.22H256.03V338.72H248.6M248.6,339.09H255.5V340.66H248.6M248.6,341.39H255.93V342.63H248.6M248.6,343.4H255.7V345.5H248.6M248.6,346.22H255.97V348.49H248.6M248.6,349.34H250.1V351.26H248.6M248.6,351.97H250.77V352.87H248.6M248.6,353.64H250.17V355.24H248.6M248.6,356.14H252.55V357.41H248.6M248.6,358.24H252.3V360.44H248.6M248.6,361.21H256.09V363.73H248.6M248.6,364.69H251.03V365.69H248.6M248.6,366.8H254.73V368.72H248.6M248.6,369.35H251.27V371.38H248.6M248.6,372.19H253.46V374.13H248.6M248.6,375.1H250.67V376.35H248.6M248.6,377.53H255.57V379.92H248.6M248.6,380.25H249.66V381.54H248.6M248.6,382.22H253.67V383.21H248.6M248.6,383.99H249.76V384.95H248.6M248.6,385.86H253.19V387.79H248.6M248.6,388.43H252.71V389.61H248.6M248.6,390.22H254.47V392.53H248.6M248.6,392.89H250.14V395.15H248.6M248.6,396.01H254.62V397.2H248.6M248.6,397.88H251.17V400.14H248.6M248.6,400.77H253.87V403.35H248.6M248.6,403.94H253.18V406.08H248.6M248.6,407.21H252.36V408.68H248.6M248.6,409.07H255.31V410.01H248.6M248.6,410.38H253.28V412.05H248.6M248.6,412.97H251.46V415.17H248.6M248.6,415.54H250.84V417.53H248.6M248.6,417.9H251.5V420.01H248.6M248.6,420.93H251.35V421.99H248.6M248.6,422.61H254.35V424.07H248.6M248.6,424.47H254.24V426.3H248.6M248.6,427.43H255.72V429.87H248.6M248.6,430.56H254.85V431.91H248.6M248.6,432.5H252.17V434.98H248.6M248.6,436.09H251.1V437.54H248.6M248.6,438.17H251.91V439.68H248.6M248.6,440.33H250.71V442.14H248.6M248.6,443.16H253.12V445.46H248.6M248.6,446.27H250.57V448.44H248.6M248.6,449.53H251.34V450.37H248.6M248.6,451.13H253.15V452.96H248.6M248.6,454.13H253.86V456.37H248.6M248.6,456.73H253.17V458.95H248.6M248.6,459.33H249.83V461.45H248.6M248.6,462.56H249.86V464.5H248.6M248.6,464.93H254.48V466.9H248.6M248.6,467.42H250.9V469.6H248.6M248.6,470.37H260.1V471.88H248.6M248.6,472.48H262.7V474.49H248.6M248.6,475.24H257.1V477.33H248.6M248.6,478.27H262.02V479.81H248.6M248.6,480.85H258.82V483.19H248.6M248.6,484.22H260.99V486.62H248.6M248.6,487.78H258.47V489.52H248.6M248.6,490.46H260.58V492.02H248.6M248.6,492.7H251.58V494.83H248.6M248.6,496.02H254.9V497.12H248.6M248.6,497.61H255.58V498.93H248.6M248.6,500.11H250.2V501.46H248.6M248.6,501.87H258.57V504.06H248.6M248.6,504.52H250.25V506.15H248.6M248.6,506.98H261.95V507.84H248.6M248.6,508.24H252.16V509.43H248.6M248.6,509.94H259.48V511.81H248.6M248.6,512.31H252.17V513.62H248.6" fill="none" stroke="#000" stroke-width="0.9"/>
<path d="M239.1,151.06H253.99V162.79H239.1M239.1,180.06H252.35V187.84H239.1M239.1,171.7H256.72V183.95H252.35M253.99,156.92H260.5V177.83H256.72M239.1,190.55H253.23V191.43H239.1M239.1,192.42H253.12V197.38H239.1M253.23,190.99H254.92V194.9H253.12M239.1,205.43H254.1V219.59H239.1M254.92,192.95H259.3V212.51H254.1M260.5,169.3H262.7V204.3H259.3M239.1,233.01H253.4V237.84H239.1M239.1,243.67H252.33V248.23H239.1M253.4,235.43H258.01V245.95H252.33M239.1,250.93H253.48V257.25H239.1M239.1,262.82H252.7V266.11H239.1M253.48,254.09H262.07V264.46H252.7M258.01,240.69H268V259.28H262.07M262.7,186.4H276.7V249H268M239.1,269.67H252.89V272.46H239.1M252.89,271.06H260.02V274.01H239.1M239.1,282.26H253.85V289.02H239.1M239.1,276H255.76V285.64H253.85M260.02,272.54H263.32V280.82H255.76M239.1,292.94H254.31V302.4H239.1M263.32,276.68H269.5V297.67H254.31M239.1,311.79H258.24V314.72H239.1M239.1,318.15H252.44V326.28H239.1M258.24,313.25H263.24V322.22H252.44M239.1,334.97H253.26V345.16H239.1M239.1,358.28H253.2V359.33H239.1M239.1,357.47H256.53V358.81H253.2M239.1,354.77H258.56V358.14H256.53M253.26,340.07H261.88V356.45H258.56M263.24,317.73H273.8V348.26H261.88M269.5,288H282.5V334.7H273.8M276.7,218H302V311.5H282.5M239.1,368.26H253.67V378H239.1M239.1,385.02H254.4V392.16H239.1M253.67,373.13H261.56V388.59H254.4M239.1,402.94H252.63V412.26H239.1M239.1,397.08H254.54V407.6H252.63M254.54,402.34H257.76V422.04H239.1M261.56,380.86H271V412.19H257.76M239.1,427.91H255.88V428.58H239.1M239.1,426.26H259.33V428.24H255.88M239.1,436.19H252.71V447.18H239.1M259.33,427.25H261.96V441.68H252.71M239.1,451.12H252.9V453.31H239.1M252.9,452.22H255.02V459.61H239.1M239.1,464.92H253.22V470.41H239.1M255.02,455.91H258.03V467.67H253.22M261.96,434.47H274.4V461.79H258.03M271,398H292V450H274.4M239.1,478.88H253.59V482.78H239.1M239.1,475.67H255.87V480.83H253.59M255.87,478.25H261.95V486.64H239.1M239.1,489.54H252.64V490.63H239.1M239.1,491.7H254.58V492.41H252.41M252.64,490.08H258.63V492.06H254.58M261.95,482.44H264.71V491.07H258.63M239.1,495.48H253.82V498.88H239.1M239.1,499.87H254.13V500.43H239.1M254.13,500.15H256.88V500.87H252.06M253.82,497.18H262.07V500.51H256.88M239.1,503.66H254.57V504.38H239.1M254.57,504.02H257.26V504.9H253.47M239.1,502.22H263.12V504.46H257.26M262.07,498.84H268.49V503.34H263.12M264.71,486.76H286V501.09H268.49M239.1,506.3H252.73V506.86H239.1M239.1,505.56H254.8V506.58H252.73M239.1,508H259.77V509.19H239.1M254.8,506.07H265.62V508.6H259.77M239.1,509.81H257.59V510.47H254.31M257.59,510.14H268.41V511.13H261.56M268.41,510.64H277.47V511.5H265.07M265.62,507.33H290.91V511.07H277.47M254.51,512.13H257.56V513.01H254.59M253.47,513.89H255.43V514.57H239.1M257.56,512.57H268.55V514.23H255.43M268.55,513.4H273.66V515.15H261.7M290.91,509.2H304.4V514.27H273.66M286,492.4H314.6V511.8H304.4M292,425H317.7V501.6H314.6M302,265.6H324V462.9H317.7" fill="none" stroke="#000" stroke-width="0.85"/>
<text x="7.14" y="19.6" font-family="Liberation Serif" font-size="34" font-weight="bold" fill="#0d0d1a">a</text>
<text x="108.05" y="15" font-family="Liberation Sans" font-size="10.55" fill="#2a2a2a">Ward's (Minimum variance) +  (Nonnormalized data)</text>
<path d="M39,110.5V101H52.75V110.5M45.88,101V97H66.5V110.5M80.25,110.5V96H94V110.5M107.75,110.5V100H121.5V110.5M114.62,100V97H135.25V110.5M124.94,97V86H149V110.5M87.12,96V79H136.97V86M56.19,97V70H112.05V79M176.5,110.5V96H190.25V110.5M162.75,110.5V92H183.38V96M204,110.5V105.5H217.75V110.5M210.88,105.5V100H231.5V110.5M173.06,92V71H221.19V100M84.12,70V25H197.12V71" fill="none" stroke="#3a3a3a" stroke-width="1.3" stroke-linecap="square"/>
<text x="0" y="0" transform="translate(42.4,139.28) rotate(-90)" font-family="Liberation Sans" font-size="10.6" fill="#333" stroke="#333" stroke-width="0.2">"NC3"</text>
<text x="0" y="0" transform="translate(56.15,139.28) rotate(-90)" font-family="Liberation Sans" font-size="10.6" fill="#333" stroke="#333" stroke-width="0.2">"NC2"</text>
<text x="0" y="0" transform="translate(69.9,139.28) rotate(-90)" font-family="Liberation Sans" font-size="10.6" fill="#333" stroke="#333" stroke-width="0.2">"NC1"</text>
<text x="0" y="0" transform="translate(83.65,138.69) rotate(-90)" font-family="Liberation Sans" font-size="10.6" fill="#333" stroke="#333" stroke-width="0.2">"HK1"</text>
<text x="0" y="0" transform="translate(97.4,138.69) rotate(-90)" font-family="Liberation Sans" font-size="10.6" fill="#333" stroke="#333" stroke-width="0.2">"HK2"</text>
<text x="0" y="0" transform="translate(111.15,136.94) rotate(-90)" font-family="Liberation Sans" font-size="10.6" fill="#333" stroke="#333" stroke-width="0.2">"LK2"</text>
<text x="0" y="0" transform="translate(124.9,136.94) rotate(-90)" font-family="Liberation Sans" font-size="10.6" fill="#333" stroke="#333" stroke-width="0.2">"LK1"</text>
<text x="0" y="0" transform="translate(138.65,138.69) rotate(-90)" font-family="Liberation Sans" font-size="10.6" fill="#333" stroke="#333" stroke-width="0.2">"HK3"</text>
<text x="0" y="0" transform="translate(152.4,136.94) rotate(-90)" font-family="Liberation Sans" font-size="10.6" fill="#333" stroke="#333" stroke-width="0.2">"LK3"</text>
<text x="0" y="0" transform="translate(166.15,145.19) rotate(-90)" font-family="Liberation Sans" font-size="10.6" fill="#333" stroke="#333" stroke-width="0.2">"LOS1"</text>
<text x="0" y="0" transform="translate(179.9,145.19) rotate(-90)" font-family="Liberation Sans" font-size="10.6" fill="#333" stroke="#333" stroke-width="0.2">"LOS2"</text>
<text x="0" y="0" transform="translate(193.65,145.19) rotate(-90)" font-family="Liberation Sans" font-size="10.6" fill="#333" stroke="#333" stroke-width="0.2">"LOS3"</text>
<text x="0" y="0" transform="translate(207.4,139.86) rotate(-90)" font-family="Liberation Sans" font-size="10.6" fill="#333" stroke="#333" stroke-width="0.2">"OC3"</text>
<text x="0" y="0" transform="translate(221.15,139.86) rotate(-90)" font-family="Liberation Sans" font-size="10.6" fill="#333" stroke="#333" stroke-width="0.2">"OC2"</text>
<text x="0" y="0" transform="translate(234.9,139.86) rotate(-90)" font-family="Liberation Sans" font-size="10.6" fill="#333" stroke="#333" stroke-width="0.2">"OC1"</text>
<defs><linearGradient id="cb" x1="0" y1="0" x2="0" y2="1"><stop offset="0" stop-color="#00ff00"/><stop offset="0.5" stop-color="#000"/><stop offset="1" stop-color="#ff0000"/></linearGradient></defs>
<rect x="361.2" y="43.3" width="12.9" height="68.5" fill="url(#cb)"/>
<text x="376.2" y="43.4" font-family="Liberation Sans" font-size="10.3" fill="#333">0</text>
<text x="376" y="77.6" font-family="Liberation Sans" font-size="10.8" fill="#333">6.858</text>
<text x="374.4" y="111.6" font-family="Liberation Sans" font-size="10.3" fill="#333">13.821</text>
<text x="428.07" y="26.6" font-family="Liberation Serif" font-size="34" font-weight="bold" fill="#0d0d1a">b</text>
<path d="M514.8,35H520.4M514.8,48.2H520.4M514.8,53.5H520.4M514.8,84.6H520.4M514.8,85.6H520.4M514.8,114H520.4M514.8,120.7H520.4M514.8,134.2H520.4M514.8,158.2H520.4M514.8,172.2H520.4M514.8,174.1H520.4M514.8,176.4H520.4M514.8,208.4H520.4M514.8,230.6H520.4M522.6,239.2V232.8M529.25,239.2V232.8M542.6,239.2V232.8M563.25,239.2V232.8M583.9,239.2V232.8M597.4,239.2V232.8M600.75,239.2V232.8M602,239.2V232.8M603.8,239.2V232.8M605.5,239.2V232.8M630.1,239.2V232.8M637.5,239.2V232.8M673.6,239.2V232.8M690,239.2V232.8M697.7,239.2V232.8" fill="none" stroke="#6e6e78" stroke-width="1.3"/>
<circle cx="543.75" cy="48.25" r="5.1" fill="#4e9e5c"/>
<circle cx="564.25" cy="53.25" r="5.1" fill="#4e9e5c"/>
<circle cx="584.5" cy="35.75" r="5.1" fill="#4e9e5c"/>
<circle cx="603" cy="48" r="5.1" fill="#ea8a50"/>
<circle cx="630" cy="85" r="5.1" fill="#ea8a50"/>
<circle cx="637" cy="113.5" r="5.1" fill="#ea8a50"/>
<circle cx="605.75" cy="85" r="5.1" fill="#e0504a"/>
<circle cx="594.3" cy="170" r="5.1" fill="#e0504a"/>
<circle cx="607.5" cy="175.1" r="5.1" fill="#e0504a"/>
<circle cx="598" cy="134" r="5.1" fill="#6dbb98"/>
<circle cx="529.4" cy="208.8" r="5.1" fill="#6dbb98"/>
<circle cx="526.4" cy="226.3" r="5.1" fill="#6dbb98"/>
<circle cx="673.75" cy="119.25" r="5.1" fill="#477b8a"/>
<circle cx="700.5" cy="158.2" r="5.1" fill="#477b8a"/>
<circle cx="692.3" cy="176.8" r="5.1" fill="#477b8a"/>
<path d="M513.9,24.4V240.9M513,240H707.2" fill="none" stroke="#000" stroke-width="1.8"/>
<text x="487.63" y="54.35" font-family="Liberation Sans" font-size="16.2" fill="#1a1a1a">10</text>
<text x="496.66" y="91.45" font-family="Liberation Sans" font-size="16.2" fill="#1a1a1a">5</text>
<text x="496.62" y="128.6" font-family="Liberation Sans" font-size="16.2" fill="#1a1a1a">0</text>
<text x="487.18" y="165.75" font-family="Liberation Sans" font-size="16.2" fill="#1a1a1a">−5</text>
<text x="478.15" y="202.85" font-family="Liberation Sans" font-size="16.2" fill="#1a1a1a">−10</text>
<text x="478.19" y="240.05" font-family="Liberation Sans" font-size="16.2" fill="#1a1a1a">−15</text>
<text x="542.47" y="259.9" font-family="Liberation Sans" font-size="16.2" fill="#1a1a1a">−10</text>
<text x="600.08" y="259.9" font-family="Liberation Sans" font-size="16.2" fill="#1a1a1a">0</text>
<text x="643.61" y="259.9" font-family="Liberation Sans" font-size="16.2" fill="#1a1a1a">10</text>
<text x="692.11" y="259.9" font-family="Liberation Sans" font-size="16.2" fill="#1a1a1a">20</text>
<path d="M509.5,48.5H514M509.5,85.6H514M509.5,122.75H514M509.5,159.9H514M509.5,197H514M509.5,234.2H514M556.3,240V244.8M604.6,240V244.8M652.9,240V244.8M701.2,240V244.8" fill="none" stroke="#000" stroke-width="1.6"/>
<text x="515.24" y="279.8" font-family="Liberation Sans" font-size="16.49" fill="#1a1a1a">Dimension 1: 25% variance</text>
<text x="0" y="0" transform="translate(468.9,241.68) rotate(-90)" font-family="Liberation Sans" font-size="17.95" fill="#1a1a1a">Dimension 2: 14% variance</text>
<circle cx="723" cy="31.6" r="5.1" fill="#477b8a"/>
<text x="754.25" y="39" font-family="Liberation Sans" font-size="20.1" fill="#111">OC</text>
<circle cx="723" cy="52.8" r="5.1" fill="#ea8a50"/>
<text x="753.54" y="59.4" font-family="Liberation Sans" font-size="20.1" fill="#111">LOS</text>
<circle cx="723" cy="72.4" r="5.1" fill="#e0504a"/>
<text x="753.54" y="79.5" font-family="Liberation Sans" font-size="20.1" fill="#111">LK</text>
<circle cx="723" cy="91.9" r="5.1" fill="#6dbb98"/>
<text x="753.54" y="99" font-family="Liberation Sans" font-size="20.1" fill="#111">HK</text>
<circle cx="723" cy="111.1" r="5.1" fill="#4e9e5c"/>
<text x="753.54" y="118.6" font-family="Liberation Sans" font-size="20.1" fill="#111">NC</text>
<text x="429.41" y="299.8" font-family="Liberation Serif" font-size="34" font-weight="bold" fill="#0d0d1a">c</text>
<circle cx="540" cy="336.3" r="5.2" fill="#4e9e5c"/>
<circle cx="561" cy="343.1" r="5.2" fill="#4e9e5c"/>
<circle cx="582.8" cy="329.2" r="5.2" fill="#4e9e5c"/>
<circle cx="518.7" cy="371" r="5.2" fill="#6dbb98"/>
<circle cx="526" cy="377.5" r="5.2" fill="#6dbb98"/>
<circle cx="597" cy="366.8" r="5.2" fill="#6dbb98"/>
<circle cx="605.4" cy="398.8" r="5.2" fill="#e0504a"/>
<circle cx="596.5" cy="405.4" r="5.2" fill="#e0504a"/>
<circle cx="600.9" cy="412.5" r="5.2" fill="#e0504a"/>
<circle cx="601.7" cy="439.8" r="5.2" fill="#ea8a50"/>
<circle cx="638.5" cy="433.8" r="5.2" fill="#ea8a50"/>
<circle cx="631.2" cy="445.9" r="5.2" fill="#ea8a50"/>
<circle cx="675.8" cy="474.8" r="5.2" fill="#477b8a"/>
<circle cx="692.9" cy="481.6" r="5.2" fill="#477b8a"/>
<circle cx="701.3" cy="467.7" r="5.2" fill="#477b8a"/>
<path d="M509.9,316V496.3M508.9,495.3H710" fill="none" stroke="#000" stroke-width="2"/>
<text x="469.29" y="343.15" font-family="Liberation Sans" font-size="20.4" fill="#4d4d4d">NC</text>
<text x="469.9" y="377.15" font-family="Liberation Sans" font-size="20.4" fill="#4d4d4d">HK</text>
<text x="473.32" y="412.2" font-family="Liberation Sans" font-size="20.4" fill="#4d4d4d">LK</text>
<text x="458.12" y="446.9" font-family="Liberation Sans" font-size="20.4" fill="#4d4d4d">LOS</text>
<text x="468.17" y="481.3" font-family="Liberation Sans" font-size="20.4" fill="#4d4d4d">OC</text>
<text x="537.08" y="521.2" font-family="Liberation Sans" font-size="20.4" fill="#4d4d4d">−10</text>
<text x="599.01" y="521.2" font-family="Liberation Sans" font-size="20.4" fill="#4d4d4d">0</text>
<text x="643.4" y="521.2" font-family="Liberation Sans" font-size="20.4" fill="#4d4d4d">10</text>
<text x="694.05" y="521.2" font-family="Liberation Sans" font-size="20.4" fill="#4d4d4d">20</text>
<path d="M504,336.25H510M504,370.25H510M504,405.3H510M504,440H510M504,474.4H510M554.5,495.3V500.5M604.7,495.3V500.5M655.1,495.3V500.5M705.5,495.3V500.5" fill="none" stroke="#333" stroke-width="1.8"/>
<text x="605.24" y="537" font-family="Liberation Serif" font-size="14.87" font-weight="bold" fill="#0d0d1a">PC1</text>
<text x="0" y="0" transform="translate(452.1,434.86) rotate(-90)" font-family="Liberation Serif" font-size="16.42" font-weight="bold" fill="#0d0d1a">Sample</text>
<circle cx="715.1" cy="322.1" r="5" fill="#477b8a"/>
<text x="746.75" y="329.3" font-family="Liberation Sans" font-size="20.1" fill="#111">OC</text>
<circle cx="715.1" cy="343.1" r="5" fill="#ea8a50"/>
<text x="746.04" y="350.2" font-family="Liberation Sans" font-size="20.1" fill="#111">LOS</text>
<circle cx="715.1" cy="362.9" r="5" fill="#e0504a"/>
<text x="746.04" y="369.6" font-family="Liberation Sans" font-size="20.1" fill="#111">LK</text>
<circle cx="715.1" cy="382.8" r="5" fill="#6dbb98"/>
<text x="746.04" y="389.5" font-family="Liberation Sans" font-size="20.1" fill="#111">HK</text>
<circle cx="715.1" cy="401.9" r="5" fill="#4e9e5c"/>
<text x="746.04" y="408.8" font-family="Liberation Sans" font-size="20.1" fill="#111">NC</text>
<text x="3.04" y="559.7" font-family="Liberation Serif" font-size="34" font-weight="bold" fill="#0d0d1a" stroke="#0d0d1a" stroke-width="0.2">d</text>
<rect x="87.8" y="636.08" width="10.1" height="110.82" fill="#231815"/>
<rect x="102.6" y="656.04" width="10.3" height="90.86" fill="#e60012"/>
<rect x="118" y="727.62" width="10.1" height="19.28" fill="#3f3a8c"/>
<rect x="144.5" y="703.23" width="10.1" height="43.67" fill="#231815"/>
<rect x="159.3" y="707.81" width="10.3" height="39.09" fill="#e60012"/>
<rect x="174.7" y="742.82" width="10.1" height="4.08" fill="#3f3a8c"/>
<rect x="201.3" y="718.61" width="10.1" height="28.29" fill="#231815"/>
<rect x="216.1" y="727.81" width="10.3" height="19.09" fill="#e60012"/>
<rect x="231.5" y="737.81" width="10.1" height="9.09" fill="#3f3a8c"/>
<rect x="258.4" y="715.21" width="10.1" height="31.69" fill="#231815"/>
<rect x="273.2" y="733.81" width="10.3" height="13.09" fill="#e60012"/>
<rect x="288.6" y="728.81" width="10.1" height="18.09" fill="#3f3a8c"/>
<path d="M79.7,594.2V746.9H308.7" fill="none" stroke="#231815" stroke-width="1.5"/>
<text x="46.5" y="598.2" font-family="Liberation Serif" font-size="13.4" font-weight="bold" fill="#231815" stroke="#231815" stroke-width="0.2">4000</text>
<text x="46.5" y="636.38" font-family="Liberation Serif" font-size="13.4" font-weight="bold" fill="#231815" stroke="#231815" stroke-width="0.2">3000</text>
<text x="46.5" y="674.55" font-family="Liberation Serif" font-size="13.4" font-weight="bold" fill="#231815" stroke="#231815" stroke-width="0.2">2000</text>
<text x="46.5" y="712.73" font-family="Liberation Serif" font-size="13.4" font-weight="bold" fill="#231815" stroke="#231815" stroke-width="0.2">1000</text>
<text x="66.6" y="750.9" font-family="Liberation Serif" font-size="13.4" font-weight="bold" fill="#231815" stroke="#231815" stroke-width="0.2">0</text>
<path d="M74.4,594.2H79.7M74.4,632.38H79.7M74.4,670.55H79.7M74.4,708.73H79.7M74.4,746.9H79.7M107.6,746.9V751.9M164.3,746.9V751.9M221.1,746.9V751.9M278.2,746.9V751.9" fill="none" stroke="#231815" stroke-width="1.4"/>
<text x="0" y="0" transform="translate(113.1,762.9) rotate(-45)" font-family="Liberation Serif" font-size="13.6" font-weight="bold" fill="#231815" text-anchor="end" stroke="#231815" stroke-width="0.2">OC</text>
<text x="0" y="0" transform="translate(169.8,762.9) rotate(-45)" font-family="Liberation Serif" font-size="13.6" font-weight="bold" fill="#231815" text-anchor="end" stroke="#231815" stroke-width="0.2">LOS</text>
<text x="0" y="0" transform="translate(226.6,762.9) rotate(-45)" font-family="Liberation Serif" font-size="13.6" font-weight="bold" fill="#231815" text-anchor="end" stroke="#231815" stroke-width="0.2">LK</text>
<text x="0" y="0" transform="translate(283.7,762.9) rotate(-45)" font-family="Liberation Serif" font-size="13.6" font-weight="bold" fill="#231815" text-anchor="end" stroke="#231815" stroke-width="0.2">HK</text>
<text x="112.74" y="572.6" font-family="Liberation Serif" font-size="14.97" font-weight="bold" fill="#231815" stroke="#231815" stroke-width="0.2">DEGs of each vs NC</text>
<text x="0" y="0" transform="translate(38.8,688.36) rotate(-90)" font-family="Liberation Serif" font-size="14.75" font-weight="bold" fill="#231815" stroke="#231815" stroke-width="0.2">DEGs</text>
<rect x="272.4" y="593.1" width="16.5" height="8.1" fill="#3f3a8c"/>
<rect x="272.4" y="610.7" width="16.5" height="8.1" fill="#e60012"/>
<rect x="272.4" y="628" width="16.5" height="8.1" fill="#231815"/>
<text x="298.35" y="601.3" font-family="Liberation Serif" font-size="12.7" fill="#231815" stroke="#231815" stroke-width="0.2">Down-regulated</text>
<text x="298.45" y="618.8" font-family="Liberation Serif" font-size="12.63" fill="#231815" stroke="#231815" stroke-width="0.2">Up-regulated</text>
<text x="298.48" y="636.2" font-family="Liberation Serif" font-size="12.33" fill="#231815" stroke="#231815" stroke-width="0.2">Total</text>
<rect x="468.4" y="636.06" width="10.1" height="111.04" fill="#231815"/>
<rect x="483.2" y="727.71" width="10.3" height="19.39" fill="#e60012"/>
<rect x="498.6" y="656.07" width="10.1" height="91.03" fill="#3f3a8c"/>
<rect x="525.5" y="715.85" width="10.1" height="31.25" fill="#231815"/>
<rect x="540.3" y="734.67" width="10.3" height="12.43" fill="#e60012"/>
<rect x="555.7" y="728.66" width="10.1" height="18.44" fill="#3f3a8c"/>
<rect x="582.3" y="666.01" width="10.1" height="81.09" fill="#231815"/>
<rect x="597.1" y="733.48" width="10.3" height="13.62" fill="#e60012"/>
<rect x="612.5" y="679.51" width="10.1" height="67.59" fill="#3f3a8c"/>
<rect x="638.8" y="627.34" width="10.1" height="119.76" fill="#231815"/>
<rect x="653.6" y="730.27" width="10.3" height="16.83" fill="#e60012"/>
<rect x="669" y="644.05" width="10.1" height="103.05" fill="#3f3a8c"/>
<path d="M459.5,594.1V747.1H688.8" fill="none" stroke="#231815" stroke-width="1.5"/>
<text x="427.4" y="598.1" font-family="Liberation Serif" font-size="13.4" font-weight="bold" fill="#231815" stroke="#231815" stroke-width="0.2">4000</text>
<text x="427.4" y="636.35" font-family="Liberation Serif" font-size="13.4" font-weight="bold" fill="#231815" stroke="#231815" stroke-width="0.2">3000</text>
<text x="427.4" y="674.6" font-family="Liberation Serif" font-size="13.4" font-weight="bold" fill="#231815" stroke="#231815" stroke-width="0.2">2000</text>
<text x="427.4" y="712.85" font-family="Liberation Serif" font-size="13.4" font-weight="bold" fill="#231815" stroke="#231815" stroke-width="0.2">1000</text>
<text x="447.5" y="751.1" font-family="Liberation Serif" font-size="13.4" font-weight="bold" fill="#231815" stroke="#231815" stroke-width="0.2">0</text>
<path d="M454.2,594.1H459.5M454.2,632.35H459.5M454.2,670.6H459.5M454.2,708.85H459.5M454.2,747.1H459.5M488.2,747.1V752.1M545.3,747.1V752.1M602.1,747.1V752.1M658.6,747.1V752.1" fill="none" stroke="#231815" stroke-width="1.4"/>
<text x="0" y="0" transform="translate(493.7,763.1) rotate(-45)" font-family="Liberation Serif" font-size="13.6" font-weight="bold" fill="#231815" text-anchor="end" stroke="#231815" stroke-width="0.2">NC</text>
<text x="0" y="0" transform="translate(550.8,763.1) rotate(-45)" font-family="Liberation Serif" font-size="13.6" font-weight="bold" fill="#231815" text-anchor="end" stroke="#231815" stroke-width="0.2">LOS</text>
<text x="0" y="0" transform="translate(607.6,763.1) rotate(-45)" font-family="Liberation Serif" font-size="13.6" font-weight="bold" fill="#231815" text-anchor="end" stroke="#231815" stroke-width="0.2">LK</text>
<text x="0" y="0" transform="translate(664.1,763.1) rotate(-45)" font-family="Liberation Serif" font-size="13.6" font-weight="bold" fill="#231815" text-anchor="end" stroke="#231815" stroke-width="0.2">HK</text>
<text x="492.44" y="572.6" font-family="Liberation Serif" font-size="15.02" font-weight="bold" fill="#231815" stroke="#231815" stroke-width="0.2">DEGs of each vs OC</text>
<text x="0" y="0" transform="translate(419.3,723.39) rotate(-90)" font-family="Liberation Serif" font-size="14.36" font-weight="bold" fill="#231815" stroke="#231815" stroke-width="0.2">Number of DEGs</text>
<rect x="669" y="586" width="16.5" height="8.1" fill="#3f3a8c"/>
<rect x="669" y="603.7" width="16.5" height="8.1" fill="#e60012"/>
<rect x="669" y="621.6" width="16.5" height="8.1" fill="#231815"/>
<text x="694.95" y="594.2" font-family="Liberation Serif" font-size="12.57" fill="#231815" stroke="#231815" stroke-width="0.2">Down-regulated</text>
<text x="695.05" y="612" font-family="Liberation Serif" font-size="12.61" fill="#231815" stroke="#231815" stroke-width="0.2">Up-regulated</text>
<text x="695.08" y="629.8" font-family="Liberation Serif" font-size="12.33" fill="#231815" stroke="#231815" stroke-width="0.2">Total</text>
<text x="8.21" y="794.2" font-family="Liberation Serif" font-size="34" font-weight="bold" fill="#0d0d1a" stroke="#0d0d1a" stroke-width="0.15">e</text>
<path d="M73.5,885.4L90,885.3L115,883.1L133.75,879.4L152.5,874.8L165,871.3L180,866L200,857.5L217.2,848.1" fill="none" stroke="#514c85" stroke-width="1.9" stroke-dasharray="4,2.6" stroke-linecap="butt"/>
<path d="M73.5,930.6L90,922.5L115,911.3L133.75,904.4L152.5,900.6L165,898.8L180,897.5L200,896.5L217.2,895.9" fill="none" stroke="#514c85" stroke-width="1.9" stroke-dasharray="4,2.6" stroke-linecap="butt"/>
<path d="M73.5,907.6L219,871" fill="none" stroke="#514c85" stroke-width="1.9"/>
<circle cx="74.3" cy="914.7" r="4.7" fill="#514c85"/>
<circle cx="79.7" cy="876.8" r="4.7" fill="#514c85"/>
<circle cx="90.8" cy="903.2" r="4.7" fill="#514c85"/>
<circle cx="107.4" cy="884.1" r="4.7" fill="#514c85"/>
<circle cx="124.6" cy="922.2" r="4.7" fill="#514c85"/>
<circle cx="135.6" cy="910.8" r="4.7" fill="#514c85"/>
<circle cx="136.1" cy="895.9" r="4.7" fill="#514c85"/>
<circle cx="139" cy="888" r="4.7" fill="#514c85"/>
<circle cx="140" cy="926.1" r="4.7" fill="#514c85"/>
<circle cx="142.8" cy="899.4" r="4.7" fill="#514c85"/>
<circle cx="162.8" cy="865.2" r="4.7" fill="#514c85"/>
<circle cx="169.9" cy="865.2" r="4.7" fill="#514c85"/>
<circle cx="198.8" cy="842.6" r="4.7" fill="#514c85"/>
<circle cx="212.4" cy="868.9" r="4.7" fill="#514c85"/>
<circle cx="219" cy="895.4" r="4.7" fill="#514c85"/>
<path d="M61.5,823.1V937.9H263.5" fill="none" stroke="#231815" stroke-width="1.6"/>
<text x="35.65" y="827.4" font-family="Liberation Sans" font-size="12.7" font-weight="bold" fill="#231815" textLength="15.54" lengthAdjust="spacingAndGlyphs" stroke="#231815" stroke-width="0.15">10</text>
<text x="43.27" y="850.2" font-family="Liberation Sans" font-size="12.7" font-weight="bold" fill="#231815" textLength="7.77" lengthAdjust="spacingAndGlyphs" stroke="#231815" stroke-width="0.15">8</text>
<text x="43.34" y="873.3" font-family="Liberation Sans" font-size="12.7" font-weight="bold" fill="#231815" textLength="7.77" lengthAdjust="spacingAndGlyphs" stroke="#231815" stroke-width="0.15">6</text>
<text x="42.92" y="896.2" font-family="Liberation Sans" font-size="12.7" font-weight="bold" fill="#231815" textLength="7.77" lengthAdjust="spacingAndGlyphs" stroke="#231815" stroke-width="0.15">4</text>
<text x="43.37" y="918.9" font-family="Liberation Sans" font-size="12.7" font-weight="bold" fill="#231815" textLength="7.77" lengthAdjust="spacingAndGlyphs" stroke="#231815" stroke-width="0.15">2</text>
<text x="43.41" y="941.8" font-family="Liberation Sans" font-size="12.7" font-weight="bold" fill="#231815" textLength="7.77" lengthAdjust="spacingAndGlyphs" stroke="#231815" stroke-width="0.15">0</text>
<text x="52.31" y="955.3" font-family="Liberation Sans" font-size="12.7" font-weight="bold" fill="#231815" textLength="20.19" lengthAdjust="spacingAndGlyphs" stroke="#231815" stroke-width="0.15">-20</text>
<text x="92.51" y="955.3" font-family="Liberation Sans" font-size="12.7" font-weight="bold" fill="#231815" textLength="20.19" lengthAdjust="spacingAndGlyphs" stroke="#231815" stroke-width="0.15">-10</text>
<text x="139.22" y="955.3" font-family="Liberation Sans" font-size="12.7" font-weight="bold" fill="#231815" textLength="7.77" lengthAdjust="spacingAndGlyphs" stroke="#231815" stroke-width="0.15">0</text>
<text x="175.69" y="955.3" font-family="Liberation Sans" font-size="12.7" font-weight="bold" fill="#231815" textLength="15.54" lengthAdjust="spacingAndGlyphs" stroke="#231815" stroke-width="0.15">10</text>
<text x="216.08" y="955.3" font-family="Liberation Sans" font-size="12.7" font-weight="bold" fill="#231815" textLength="15.54" lengthAdjust="spacingAndGlyphs" stroke="#231815" stroke-width="0.15">20</text>
<text x="256.67" y="955.3" font-family="Liberation Sans" font-size="12.7" font-weight="bold" fill="#231815" textLength="15.54" lengthAdjust="spacingAndGlyphs" stroke="#231815" stroke-width="0.15">30</text>
<path d="M56.7,823.1H61.5M56.7,845.9H61.5M56.7,869H61.5M56.7,891.9H61.5M56.7,914.6H61.5M56.7,937.5H61.5M61.6,937.9V942.4M101.8,937.9V942.4M142.3,937.9V942.4M182.8,937.9V942.4M223,937.9V942.4M263.5,937.9V942.4" fill="none" stroke="#231815" stroke-width="1.5"/>
<text x="145.81" y="822.8" font-family="Liberation Sans" font-size="12.6" font-weight="bold" fill="#231815" textLength="118.95" lengthAdjust="spacingAndGlyphs" stroke="#231815" stroke-width="0.15">Spearman r=0.4915</text>
<text x="0" y="0" transform="translate(27.75,931.74) rotate(-90)" font-family="Liberation Sans" font-size="15.48" font-weight="bold" fill="#231815" stroke="#231815" stroke-width="0.15">Masson Score</text>
<text x="149.6" y="972.3" font-family="Liberation Sans" font-size="13.41" font-weight="bold" fill="#231815" stroke="#231815" stroke-width="0.15">PC1</text>
<path d="M324.2,890.5L335,888.1L365,881.3L390,873.1L415,863.8L440,850L471.7,828.9" fill="none" stroke="#514c85" stroke-width="1.9" stroke-dasharray="4,2.6" stroke-linecap="butt"/>
<path d="M324.2,934.2L352.5,916.3L377.5,902.5L415,888.1L440,882.5L471.7,878" fill="none" stroke="#514c85" stroke-width="1.9" stroke-dasharray="4,2.6" stroke-linecap="butt"/>
<path d="M324.2,912.2L471.7,853.2" fill="none" stroke="#514c85" stroke-width="1.9"/>
<circle cx="323.8" cy="885.2" r="4.7" fill="#514c85"/>
<circle cx="329.8" cy="890" r="4.7" fill="#514c85"/>
<circle cx="340.7" cy="937" r="4.7" fill="#514c85"/>
<circle cx="358.1" cy="918.3" r="4.7" fill="#514c85"/>
<circle cx="375.7" cy="933.6" r="4.7" fill="#514c85"/>
<circle cx="386.5" cy="862.6" r="4.7" fill="#514c85"/>
<circle cx="386.6" cy="887.5" r="4.7" fill="#514c85"/>
<circle cx="389.9" cy="880" r="4.7" fill="#514c85"/>
<circle cx="391.4" cy="877" r="4.7" fill="#514c85"/>
<circle cx="393.6" cy="872.7" r="4.7" fill="#514c85"/>
<circle cx="414" cy="864.1" r="4.7" fill="#514c85"/>
<circle cx="420.7" cy="883.2" r="4.7" fill="#514c85"/>
<circle cx="450.5" cy="865.3" r="4.7" fill="#514c85"/>
<circle cx="464.2" cy="866.9" r="4.7" fill="#514c85"/>
<circle cx="470.3" cy="839.4" r="4.7" fill="#514c85"/>
<path d="M311.9,822.5V938H515.3" fill="none" stroke="#231815" stroke-width="1.6"/>
<text x="285.3" y="826.8" font-family="Liberation Sans" font-size="12.7" font-weight="bold" fill="#231815" textLength="15.54" lengthAdjust="spacingAndGlyphs" stroke="#231815" stroke-width="0.15">30</text>
<text x="285.3" y="865.2" font-family="Liberation Sans" font-size="12.7" font-weight="bold" fill="#231815" textLength="15.54" lengthAdjust="spacingAndGlyphs" stroke="#231815" stroke-width="0.15">20</text>
<text x="285.3" y="903.7" font-family="Liberation Sans" font-size="12.7" font-weight="bold" fill="#231815" textLength="15.54" lengthAdjust="spacingAndGlyphs" stroke="#231815" stroke-width="0.15">10</text>
<text x="293.06" y="942.1" font-family="Liberation Sans" font-size="12.7" font-weight="bold" fill="#231815" textLength="7.77" lengthAdjust="spacingAndGlyphs" stroke="#231815" stroke-width="0.15">0</text>
<text x="302.21" y="955.5" font-family="Liberation Sans" font-size="12.7" font-weight="bold" fill="#231815" textLength="20.19" lengthAdjust="spacingAndGlyphs" stroke="#231815" stroke-width="0.15">-20</text>
<text x="343.11" y="955.5" font-family="Liberation Sans" font-size="12.7" font-weight="bold" fill="#231815" textLength="20.19" lengthAdjust="spacingAndGlyphs" stroke="#231815" stroke-width="0.15">-10</text>
<text x="389.92" y="955.5" font-family="Liberation Sans" font-size="12.7" font-weight="bold" fill="#231815" textLength="7.77" lengthAdjust="spacingAndGlyphs" stroke="#231815" stroke-width="0.15">0</text>
<text x="426.79" y="955.5" font-family="Liberation Sans" font-size="12.7" font-weight="bold" fill="#231815" textLength="15.54" lengthAdjust="spacingAndGlyphs" stroke="#231815" stroke-width="0.15">10</text>
<text x="467.78" y="955.5" font-family="Liberation Sans" font-size="12.7" font-weight="bold" fill="#231815" textLength="15.54" lengthAdjust="spacingAndGlyphs" stroke="#231815" stroke-width="0.15">20</text>
<text x="508.47" y="955.5" font-family="Liberation Sans" font-size="12.7" font-weight="bold" fill="#231815" textLength="15.54" lengthAdjust="spacingAndGlyphs" stroke="#231815" stroke-width="0.15">30</text>
<path d="M307.1,822.5H311.9M307.1,860.9H311.9M307.1,899.4H311.9M307.1,937.8H311.9M311.5,938V942.5M352.4,938V942.5M393,938V942.5M433.9,938V942.5M474.7,938V942.5M515.3,938V942.5" fill="none" stroke="#231815" stroke-width="1.5"/>
<text x="398.31" y="817.9" font-family="Liberation Sans" font-size="12.6" font-weight="bold" fill="#231815" textLength="119.15" lengthAdjust="spacingAndGlyphs" stroke="#231815" stroke-width="0.15">Spearman r=0.7321</text>
<text x="0" y="0" transform="translate(277.5,889.51) rotate(-90)" font-family="Liberation Sans" font-size="12.69" font-weight="bold" fill="#231815" stroke="#231815" stroke-width="0.15">GSI</text>
<text x="401.34" y="972.5" font-family="Liberation Sans" font-size="12.76" font-weight="bold" fill="#231815" stroke="#231815" stroke-width="0.15">PC1</text>
<path d="M572.3,877.8L600,873.5L630,867L660,856L690,843L719.8,832.2" fill="none" stroke="#514c85" stroke-width="1.9" stroke-dasharray="4,2.6" stroke-linecap="butt"/>
<path d="M572.3,917.2L600,902L630,888L660,880.5L690,876.5L719.8,874.4" fill="none" stroke="#514c85" stroke-width="1.9" stroke-dasharray="4,2.6" stroke-linecap="butt"/>
<path d="M572.3,897.4L719.8,854.5" fill="none" stroke="#514c85" stroke-width="1.9"/>
<circle cx="572.4" cy="867.6" r="4.7" fill="#514c85"/>
<circle cx="578" cy="881.3" r="4.7" fill="#514c85"/>
<circle cx="589.8" cy="913.9" r="4.7" fill="#514c85"/>
<circle cx="606.8" cy="913.9" r="4.7" fill="#514c85"/>
<circle cx="623.9" cy="913.9" r="4.7" fill="#514c85"/>
<circle cx="635.3" cy="870.2" r="4.7" fill="#514c85"/>
<circle cx="638.5" cy="851.5" r="4.7" fill="#514c85"/>
<circle cx="635.8" cy="879.3" r="4.7" fill="#514c85"/>
<circle cx="639.9" cy="881.3" r="4.7" fill="#514c85"/>
<circle cx="642.6" cy="863.4" r="4.7" fill="#514c85"/>
<circle cx="662.8" cy="879.3" r="4.7" fill="#514c85"/>
<circle cx="669.4" cy="879.3" r="4.7" fill="#514c85"/>
<circle cx="699.7" cy="852.9" r="4.7" fill="#514c85"/>
<circle cx="713.4" cy="846.8" r="4.7" fill="#514c85"/>
<circle cx="719.8" cy="855.1" r="4.7" fill="#514c85"/>
<path d="M559.9,821.2V937.3H764.3" fill="none" stroke="#231815" stroke-width="1.6"/>
<text x="541.62" y="825.5" font-family="Liberation Sans" font-size="12.7" font-weight="bold" fill="#231815" textLength="7.77" lengthAdjust="spacingAndGlyphs" stroke="#231815" stroke-width="0.15">4</text>
<text x="542.04" y="848.7" font-family="Liberation Sans" font-size="12.7" font-weight="bold" fill="#231815" textLength="7.77" lengthAdjust="spacingAndGlyphs" stroke="#231815" stroke-width="0.15">3</text>
<text x="542.07" y="871.8" font-family="Liberation Sans" font-size="12.7" font-weight="bold" fill="#231815" textLength="7.77" lengthAdjust="spacingAndGlyphs" stroke="#231815" stroke-width="0.15">2</text>
<text x="541.93" y="895" font-family="Liberation Sans" font-size="12.7" font-weight="bold" fill="#231815" textLength="7.77" lengthAdjust="spacingAndGlyphs" stroke="#231815" stroke-width="0.15">1</text>
<text x="542.11" y="918.3" font-family="Liberation Sans" font-size="12.7" font-weight="bold" fill="#231815" textLength="7.77" lengthAdjust="spacingAndGlyphs" stroke="#231815" stroke-width="0.15">0</text>
<text x="537.29" y="941.6" font-family="Liberation Sans" font-size="12.7" font-weight="bold" fill="#231815" textLength="12.42" lengthAdjust="spacingAndGlyphs" stroke="#231815" stroke-width="0.15">-1</text>
<text x="550.81" y="955.6" font-family="Liberation Sans" font-size="12.7" font-weight="bold" fill="#231815" textLength="20.19" lengthAdjust="spacingAndGlyphs" stroke="#231815" stroke-width="0.15">-20</text>
<text x="591.61" y="955.6" font-family="Liberation Sans" font-size="12.7" font-weight="bold" fill="#231815" textLength="20.19" lengthAdjust="spacingAndGlyphs" stroke="#231815" stroke-width="0.15">-10</text>
<text x="638.72" y="955.6" font-family="Liberation Sans" font-size="12.7" font-weight="bold" fill="#231815" textLength="7.77" lengthAdjust="spacingAndGlyphs" stroke="#231815" stroke-width="0.15">0</text>
<text x="675.49" y="955.6" font-family="Liberation Sans" font-size="12.7" font-weight="bold" fill="#231815" textLength="15.54" lengthAdjust="spacingAndGlyphs" stroke="#231815" stroke-width="0.15">10</text>
<text x="716.58" y="955.6" font-family="Liberation Sans" font-size="12.7" font-weight="bold" fill="#231815" textLength="15.54" lengthAdjust="spacingAndGlyphs" stroke="#231815" stroke-width="0.15">20</text>
<text x="757.47" y="955.6" font-family="Liberation Sans" font-size="12.7" font-weight="bold" fill="#231815" textLength="15.54" lengthAdjust="spacingAndGlyphs" stroke="#231815" stroke-width="0.15">30</text>
<path d="M555.1,821.2H559.9M555.1,844.4H559.9M555.1,867.5H559.9M555.1,890.7H559.9M555.1,914H559.9M555.1,937.3H559.9M560.1,937.3V941.8M600.9,937.3V941.8M641.8,937.3V941.8M682.6,937.3V941.8M723.5,937.3V941.8M764.3,937.3V941.8" fill="none" stroke="#231815" stroke-width="1.5"/>
<text x="645.61" y="822.6" font-family="Liberation Sans" font-size="12.6" font-weight="bold" fill="#231815" textLength="120.06" lengthAdjust="spacingAndGlyphs" stroke="#231815" stroke-width="0.15">Spearman r=0.5973</text>
<text x="0" y="0" transform="translate(527.3,888.36) rotate(-90)" font-family="Liberation Sans" font-size="14" font-weight="bold" fill="#231815" textLength="19.2" lengthAdjust="spacingAndGlyphs" stroke="#231815" stroke-width="0.15">TII</text>
<text x="646.85" y="974.3" font-family="Liberation Sans" font-size="15.62" font-weight="bold" fill="#231815" stroke="#231815" stroke-width="0.15">PC1</text>
</svg></body></html>
